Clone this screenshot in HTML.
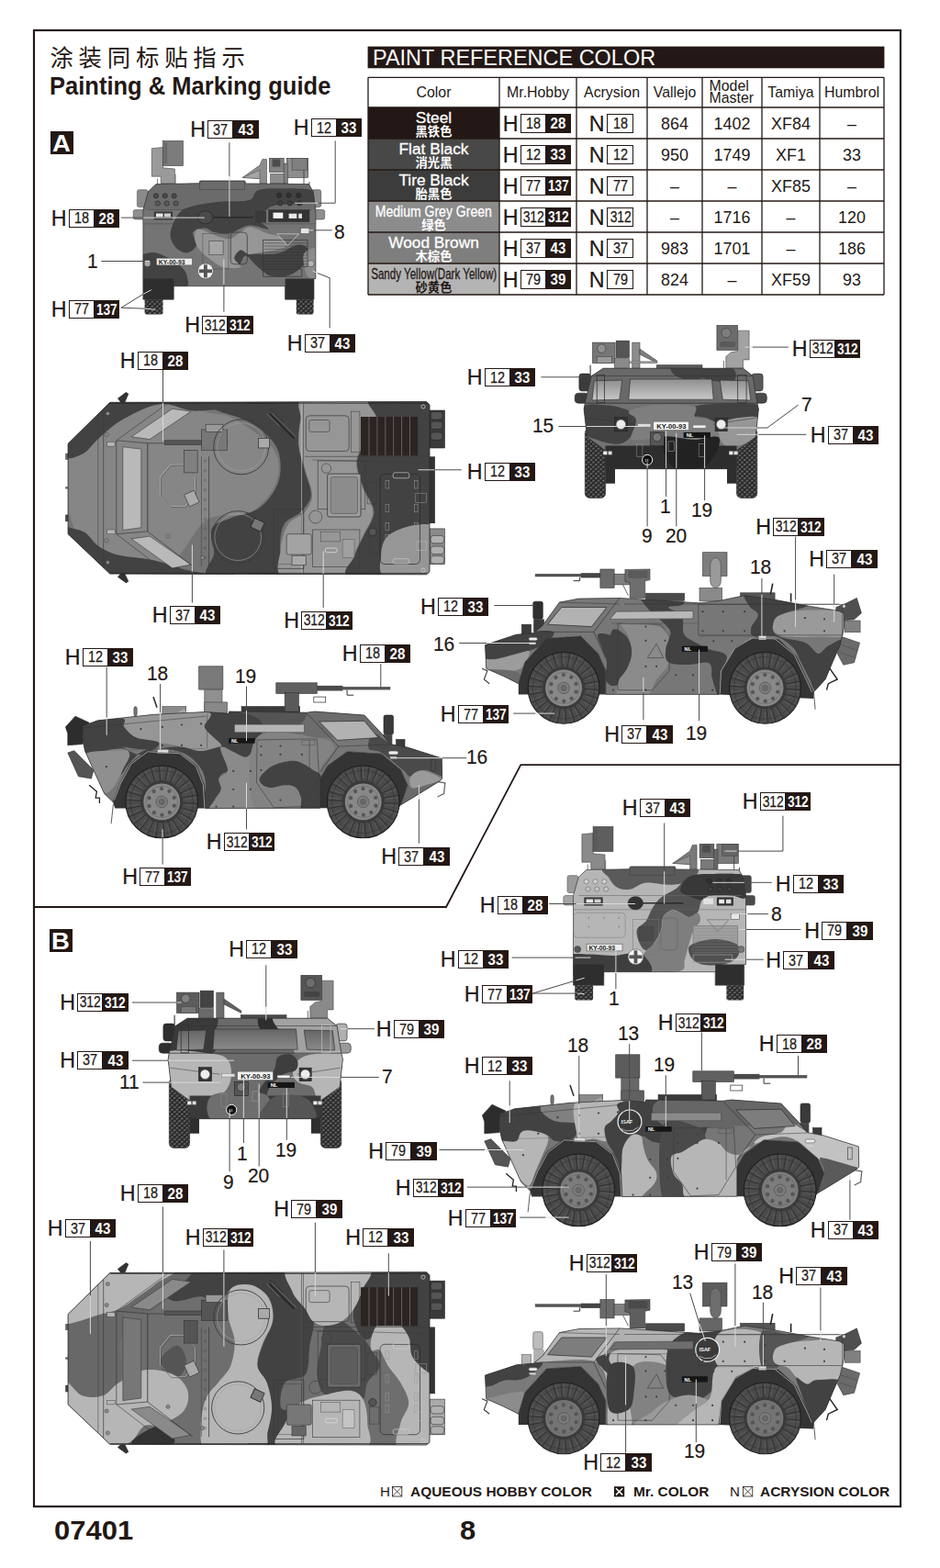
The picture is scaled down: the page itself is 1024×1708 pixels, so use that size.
<!DOCTYPE html>
<html><head><meta charset="utf-8"><title>Painting &amp; Marking guide</title>
<style>
html,body{margin:0;padding:0;background:#fff}
body{width:1024px;height:1708px;position:relative;overflow:hidden;font-family:"Liberation Sans",sans-serif;color:#231815}
.pg{position:absolute;left:0;top:0}
div{position:absolute;white-space:nowrap}
.t1{left:53.6px;top:79.1px;font-size:27.4px;font-weight:bold;line-height:30px;transform-origin:0 0;transform:scaleX(.932)}
.sq{width:25px;height:25px;background:#231815;color:#fff;font-weight:bold;font-size:25px;line-height:26.5px;text-align:center}
.sq span{display:inline-block;transform:scaleX(1.1)}
.lb{height:20px;line-height:20px}
.lb i{position:absolute;left:-.8px;top:-1.7px;font-style:normal;font-size:23.3px;line-height:24px;-webkit-text-stroke:.2px #231815}
.lb b{position:absolute;top:0;height:20.3px;box-sizing:border-box;font-size:16px;text-align:center;line-height:17.6px;overflow:hidden}
.lb s{text-decoration:none;display:inline-block;transform-origin:50% 50%}
.lb .w{left:18px;width:28px;border:1.5px solid #231815;-webkit-text-stroke:.25px #231815;font-weight:normal;background:#fff}
.lb .w s{transform:scaleX(.9);position:relative;top:.6px;left:.3px}
.lb .k{left:45.5px;width:28.2px;background:#231815;color:#fff;font-weight:bold;line-height:21.6px}
.lb .k s{transform:scaleX(.94)}
.lb .t3 s{transform:scaleX(.855);letter-spacing:-.1px;margin:0 -4px}
.lb .w.t3 s{transform:scaleX(.87);letter-spacing:-.1px;margin:0 -4px}
.nl .w{left:18.6px;width:28.8px}
.nm{font-size:22.3px;line-height:24px;letter-spacing:-.2px;transform-origin:0 0;transform:scaleX(.94);-webkit-text-stroke:.2px #231815}
.hd{left:405.5px;top:50px;font-size:23px;line-height:26px;color:#fff;transform-origin:0 0;transform:scaleX(1.02)}
.th{height:32px;line-height:33px;text-align:center;font-size:15.9px}
.th.mm{line-height:12.4px;padding-top:4.2px;height:28px;text-align:left;padding-left:7.5px;box-sizing:border-box}
.td{height:34px;line-height:36px;text-align:center;font-size:17.9px}
.cn{height:34px;text-align:center;color:#fff;font-size:17.3px;line-height:21px;padding-top:1.3px;box-sizing:border-box;-webkit-text-stroke:.3px currentColor}
.cn span{display:inline-block;transform-origin:50% 0}
.cn1 span{transform:scaleX(.812);margin-left:-40px;margin-right:-40px}
.cn2 span{transform:scaleX(.68);margin-left:-60px;margin-right:-60px;font-size:17px}
.ft{top:1616.1px;font-size:15px;line-height:17px;transform-origin:0 0;transform:scaleX(1.01)}
.ft b{font-size:15.3px}
.pn{font-weight:bold;font-size:29.5px;line-height:30px;transform-origin:0 0;transform:scaleX(1.05)}

.cn.dk{color:#231815}

</style></head>
<body>
<svg class="pg" width="1024" height="1708" viewBox="0 0 1024 1708"><g fill="none" stroke="#231815" stroke-width="2.2"><rect x="37" y="33" width="944" height="1608"/><polyline stroke-width="1.8" points="981,833.2 567.3,833.2 486,988 37,988"/></g><defs><pattern id="tr" width="5.4" height="5.0" patternUnits="userSpaceOnUse"><rect width="5.4" height="5.0" fill="#2b2b2b"/><path d="M0.4,0.3 L2.6,0.3 L2.0,2.1 L-0.2,2.1 Z M3.1,2.8 L5.3,2.8 L4.7,4.6 L2.5,4.6 Z" fill="#6c6c6c"/></pattern></defs><polygon points="165.3,161.7 177.5,160.5 177.5,182.8 190.4,184.0 190.4,199.7 175.2,199.7 175.2,192.2 165.3,192.2" fill="#9a9a9a" stroke="#444" stroke-width="0.6"/><rect x="177.5" y="153.5" width="21.8" height="27.0" fill="#7c7c7c" stroke="#333" stroke-width="0.6"/><rect x="178.7" y="155.2" width="3.5" height="23.4" fill="#696969"/><line x1="171.6" y1="194.5" x2="171.6" y2="200.4" stroke="#555" stroke-width="0.8"/><line x1="191.1" y1="189.8" x2="191.1" y2="200.4" stroke="#555" stroke-width="0.8"/><polygon points="264.2,193.4 283.0,180.0 285.8,173.4 290.5,173.4 290.5,199.7 283.0,199.7 283.0,194.5" fill="#8d8d8d" stroke="#444" stroke-width="0.6"/><polygon points="264.2,193.4 283.0,185.2 283.0,194.5" fill="#a5a5a5" stroke="#555" stroke-width="0.6"/><rect x="293.5" y="172.3" width="15.7" height="15.2" fill="#808080" stroke="#333" stroke-width="0.6"/><rect x="296.6" y="173.4" width="8.7" height="8.2" fill="#4d4d4d"/><rect x="312.3" y="172.3" width="23.4" height="21.1" fill="#8d8d8d" stroke="#333" stroke-width="0.6"/><rect x="318.1" y="172.3" width="16.4" height="12.9" fill="#808080" stroke="#444" stroke-width="0.6"/><rect x="294.7" y="189.4" width="16.9" height="10.3" fill="#8d8d8d" stroke="#444" stroke-width="0.6"/><rect x="309.2" y="178.1" width="4.2" height="21.6" fill="#808080" stroke="#444" stroke-width="0.6"/><line x1="331.0" y1="185.2" x2="331.0" y2="200.4" stroke="#444" stroke-width="0.9"/><line x1="336.9" y1="198.0" x2="336.9" y2="206.2" stroke="#444" stroke-width="0.9"/><rect x="149.4" y="206.7" width="11.7" height="18.8" rx="2" fill="#8a8a8a" stroke="#555" stroke-width="0.6"/><rect x="339.2" y="206.7" width="10.5" height="18.8" rx="2" fill="#8a8a8a" stroke="#444" stroke-width="0.6"/><rect x="145.2" y="228.5" width="13.6" height="10.5" rx="2" fill="#8f8f8f" stroke="#555" stroke-width="0.6"/><rect x="342.0" y="228.5" width="11.7" height="10.5" rx="2" fill="#8f8f8f" stroke="#444" stroke-width="0.6"/><rect x="157.6" y="324.6" width="19.9" height="17.8" rx="2" fill="url(#tr)"/><rect x="322.8" y="324.6" width="18.8" height="17.8" rx="2" fill="url(#tr)"/><clipPath id="c1"><polygon points="155.9,228.5 161.6,208.6 170.0,200.6 217.3,199.7 218.5,196.9 266.6,196.9 267.7,199.9 336.4,200.6 341.1,208.6 343.9,228.5 343.9,303.5 342.0,303.5 342.0,326.2 310.6,326.2 310.6,311.7 189.2,311.7 189.2,326.2 155.9,326.2"/></clipPath><g clip-path="url(#c1)"><rect x="140.0" y="192.2" width="240.0" height="145.3" fill="#747474"/><rect x="140.0" y="192.2" width="240.0" height="36.3" fill="#6b6b6b"/><path d="M280.6,207.4C286.1,205.3 293.9,205.3 304.1,205.3C314.2,205.3 334.5,204.9 341.6,207.4C348.6,209.9 352.5,217.7 346.2,220.3C340.0,222.9 313.4,221.8 304.1,223.1C294.7,224.5 293.7,225.9 290.0,228.5C286.3,231.2 281.4,235.5 281.8,239.1C282.2,242.6 294.1,248.5 292.3,249.6C290.6,250.7 278.3,244.8 271.2,245.6C264.2,246.4 256.4,253.0 250.2,254.3C243.9,255.5 238.2,254.1 233.8,253.1C229.3,252.1 227.1,248.4 223.2,248.4C219.3,248.4 211.9,250.0 210.3,253.1C208.8,256.2 215.0,263.5 213.8,267.2C212.7,270.9 207.2,275.2 203.3,275.4C199.4,275.6 193.3,272.1 190.4,268.4C187.5,264.6 184.9,259.2 185.7,253.1C186.5,247.1 191.0,236.8 195.1,232.0C199.2,227.3 203.1,226.6 210.3,224.5C217.5,222.5 228.3,220.9 238.4,219.8C248.6,218.8 264.2,220.0 271.2,218.0C278.3,215.9 275.2,209.5 280.6,207.4Z" fill="#424242"/><path d="M267.7,278.4C264.4,278.0 262.9,287.8 260.7,288.3C258.5,288.8 254.8,284.0 254.4,281.2C254.0,278.5 254.0,272.7 258.4,271.9C262.7,271.1 273.0,276.0 280.6,276.6C288.2,277.1 296.8,277.0 304.1,275.4C311.3,273.8 318.7,267.3 324.0,266.7C329.3,266.1 334.5,268.3 335.7,271.9C336.9,275.5 334.5,283.6 331.0,288.3C327.5,293.0 320.7,298.0 314.6,300.0C308.6,302.0 300.4,302.0 294.7,300.5C289.0,298.9 285.1,294.3 280.6,290.6C276.1,287.0 271.1,278.8 267.7,278.4Z" fill="#424242"/><path d="M151.7,282.4C154.1,275.9 160.5,275.2 165.8,274.9C171.1,274.6 178.1,278.2 183.4,280.8C188.6,283.4 194.0,287.2 197.4,290.6C200.8,294.0 203.4,297.3 203.8,301.2C204.1,305.1 208.4,311.9 199.8,314.1C191.1,316.2 159.7,319.3 151.7,314.1C143.7,308.8 149.4,288.9 151.7,282.4Z" fill="#424242"/><path d="M215.5,249.6C219.1,248.9 228.0,254.2 233.8,255.9C239.5,257.7 245.0,260.6 249.7,260.2C254.4,259.7 258.1,255.3 261.9,253.1C265.7,251.0 267.5,247.1 272.4,247.3C277.3,247.5 285.7,252.5 291.2,254.3C296.6,256.1 301.7,256.1 305.2,258.3C308.8,260.4 312.9,264.9 312.3,267.2C311.7,269.5 306.2,270.6 301.7,271.9C297.2,273.1 290.4,273.8 285.3,274.7C280.2,275.5 275.1,277.4 271.2,277.0C267.4,276.6 265.0,271.6 262.3,272.3C259.7,273.0 255.3,278.1 255.3,281.2C255.3,284.4 264.4,289.5 262.3,291.1C260.3,292.7 248.7,292.5 243.1,291.1C237.6,289.6 233.4,285.5 229.1,282.4C224.8,279.3 220.2,276.1 217.3,272.3C214.5,268.6 212.5,263.9 212.2,260.2C211.9,256.4 211.9,250.3 215.5,249.6Z" fill="#969696"/><path d="M331.0,276.6C333.0,271.9 343.7,267.6 346.2,271.9C348.8,276.2 348.2,297.7 346.2,302.3C344.3,307.0 337.1,304.3 334.5,300.0C332.0,295.7 329.1,281.2 331.0,276.6Z" fill="#8b8b8b"/><rect x="155.9" y="303.5" width="33.3" height="22.7" fill="#2e2e2e"/><rect x="310.6" y="303.5" width="31.4" height="22.7" fill="#2e2e2e"/></g><polygon points="155.9,228.5 161.6,208.6 170.0,200.6 217.3,199.7 218.5,196.9 266.6,196.9 267.7,199.9 336.4,200.6 341.1,208.6 343.9,228.5 343.9,303.5 342.0,303.5 342.0,326.2 310.6,326.2 310.6,311.7 189.2,311.7 189.2,326.2 155.9,326.2" fill="none" stroke="#333" stroke-width="0.7"/><line x1="161.6" y1="228.5" x2="339.2" y2="228.5" stroke="#444" stroke-width="0.6"/><line x1="155.9" y1="243.8" x2="343.9" y2="243.8" stroke="#444" stroke-width="0.5"/><rect x="217.3" y="197.6" width="49.2" height="8.7" fill="none" stroke="#444" stroke-width="0.6"/><circle cx="170.0" cy="213.3" r="2.6" fill="#4a4a4a" stroke="#222" stroke-width="0.6"/><circle cx="171.9" cy="221.5" r="2.6" fill="#5a5a5a" stroke="#222" stroke-width="0.6"/><circle cx="179.8" cy="213.3" r="2.6" fill="#4a4a4a" stroke="#222" stroke-width="0.6"/><circle cx="181.7" cy="221.5" r="2.6" fill="#5a5a5a" stroke="#222" stroke-width="0.6"/><circle cx="189.7" cy="213.3" r="2.6" fill="#4a4a4a" stroke="#222" stroke-width="0.6"/><circle cx="191.6" cy="221.5" r="2.6" fill="#5a5a5a" stroke="#222" stroke-width="0.6"/><circle cx="304.1" cy="212.8" r="2.6" fill="#303030" stroke="#222" stroke-width="0.6"/><circle cx="305.2" cy="221.5" r="2.6" fill="#404040" stroke="#222" stroke-width="0.6"/><circle cx="314.6" cy="212.8" r="2.6" fill="#303030" stroke="#222" stroke-width="0.6"/><circle cx="315.8" cy="221.5" r="2.6" fill="#404040" stroke="#222" stroke-width="0.6"/><circle cx="325.2" cy="212.8" r="2.6" fill="#303030" stroke="#222" stroke-width="0.6"/><circle cx="326.3" cy="221.5" r="2.6" fill="#404040" stroke="#222" stroke-width="0.6"/><rect x="167.7" y="230.4" width="20.4" height="9.1" fill="#3c3c3c"/><rect x="170.0" y="232.5" width="7.5" height="3.8" fill="#e8e8e8"/><rect x="178.9" y="232.5" width="7.0" height="3.8" fill="#d0d0d0"/><rect x="292.3" y="228.5" width="45.0" height="13.4" fill="#333"/><rect x="297.5" y="231.6" width="10.8" height="6.3" fill="#f2f2f2"/><rect x="314.6" y="232.7" width="8.7" height="5.2" fill="#e8e8e8"/><rect x="325.2" y="232.7" width="3.8" height="5.2" fill="#e0e0e0"/><rect x="215.5" y="229.7" width="16.4" height="14.1" rx="8" fill="#4a4a4a" stroke="#222" stroke-width="0.6"/><line x1="231.9" y1="236.7" x2="275.9" y2="236.7" stroke="#2a2a2a" stroke-width="1.6"/><rect x="278.3" y="229.7" width="11.7" height="12.9" fill="#3a3a3a"/><rect x="251.3" y="253.1" width="18.0" height="34.7" rx="4" fill="none" stroke="#333" stroke-width="0.7"/><rect x="227.9" y="262.5" width="15.2" height="15.2" fill="#a6a6a6" stroke="#444" stroke-width="0.6"/><rect x="220.9" y="254.3" width="28.1" height="38.7" fill="none" stroke="#4a4a4a" stroke-width="0.5"/><rect x="286.5" y="261.3" width="48.5" height="29.3" fill="none" stroke="#333" stroke-width="0.7"/><rect x="286.5" y="293.0" width="42.4" height="8.2" fill="none" stroke="#333" stroke-width="0.7"/><line x1="287.7" y1="264.8" x2="334.1" y2="264.8" stroke="#2b2b2b" stroke-width="0.4"/><line x1="287.7" y1="268.1" x2="334.1" y2="268.1" stroke="#2b2b2b" stroke-width="0.4"/><line x1="287.7" y1="271.4" x2="334.1" y2="271.4" stroke="#2b2b2b" stroke-width="0.4"/><line x1="287.7" y1="274.7" x2="334.1" y2="274.7" stroke="#2b2b2b" stroke-width="0.4"/><line x1="287.7" y1="278.0" x2="334.1" y2="278.0" stroke="#2b2b2b" stroke-width="0.4"/><line x1="287.7" y1="281.2" x2="334.1" y2="281.2" stroke="#2b2b2b" stroke-width="0.4"/><line x1="287.7" y1="284.5" x2="334.1" y2="284.5" stroke="#2b2b2b" stroke-width="0.4"/><line x1="287.7" y1="287.8" x2="334.1" y2="287.8" stroke="#2b2b2b" stroke-width="0.4"/><polygon points="301.7,254.8 325.6,254.8 313.4,267.7" fill="none" stroke="#c8c8c8" stroke-width="0.8"/><rect x="327.5" y="248.4" width="9.4" height="6.1" fill="#e6e6e6" stroke="#555" stroke-width="0.6"/><rect x="170.5" y="281.2" width="38.9" height="7.7" fill="#ededed" stroke="#555" stroke-width="0.6"/><text x="172.8" y="288.0" font-size="6.8" fill="#222" font-family="Liberation Sans, sans-serif" font-weight="bold">KY-00-93</text><circle cx="160.6" cy="287.1" r="3.5" fill="#a8a8a8" stroke="#444" stroke-width="0.6"/><circle cx="338.8" cy="287.1" r="3.5" fill="#b5b5b5" stroke="#444" stroke-width="0.6"/><circle cx="223.9" cy="295.3" r="8.4" fill="#f4f4f4" stroke="#555" stroke-width="0.6"/><rect x="222.0" y="288.3" width="3.8" height="14.1" fill="#555"/><rect x="216.9" y="293.4" width="14.1" height="3.8" fill="#555"/><line x1="243.1" y1="281.2" x2="243.1" y2="311.7" stroke="#aaa" stroke-width="0.5"/><polygon points="633.9,908.7 646.1,907.5 646.1,929.8 659.0,931.0 659.0,946.7 643.8,946.7 643.8,939.2 633.9,939.2" fill="#8a8a8a" stroke="#444" stroke-width="0.6"/><rect x="646.1" y="900.5" width="21.8" height="27.0" fill="#5e5e5e" stroke="#333" stroke-width="0.6"/><rect x="647.3" y="902.2" width="3.5" height="23.4" fill="#5a5a5a"/><line x1="640.2" y1="941.5" x2="640.2" y2="947.4" stroke="#555" stroke-width="0.8"/><line x1="659.7" y1="936.8" x2="659.7" y2="947.4" stroke="#555" stroke-width="0.8"/><polygon points="732.8,940.4 751.6,927.0 754.4,920.4 759.1,920.4 759.1,946.7 751.6,946.7 751.6,941.5" fill="#7a7a7a" stroke="#444" stroke-width="0.6"/><polygon points="732.8,940.4 751.6,932.2 751.6,941.5" fill="#909090" stroke="#555" stroke-width="0.6"/><rect x="762.1" y="919.3" width="15.7" height="15.2" fill="#666" stroke="#333" stroke-width="0.6"/><rect x="765.2" y="920.4" width="8.7" height="8.2" fill="#4d4d4d"/><rect x="780.9" y="919.3" width="23.4" height="21.1" fill="#7a7a7a" stroke="#333" stroke-width="0.6"/><rect x="786.7" y="919.3" width="16.4" height="12.9" fill="#666" stroke="#444" stroke-width="0.6"/><rect x="763.3" y="936.4" width="16.9" height="10.3" fill="#7a7a7a" stroke="#444" stroke-width="0.6"/><rect x="777.8" y="925.1" width="4.2" height="21.6" fill="#666" stroke="#444" stroke-width="0.6"/><line x1="799.6" y1="932.2" x2="799.6" y2="947.4" stroke="#444" stroke-width="0.9"/><line x1="805.5" y1="945.0" x2="805.5" y2="953.2" stroke="#444" stroke-width="0.9"/><rect x="618.0" y="953.7" width="11.7" height="18.8" rx="2" fill="#9a9a9a" stroke="#555" stroke-width="0.6"/><rect x="807.8" y="953.7" width="10.5" height="18.8" rx="2" fill="#444" stroke="#444" stroke-width="0.6"/><rect x="613.8" y="975.5" width="13.6" height="10.5" rx="2" fill="#a5a5a5" stroke="#555" stroke-width="0.6"/><rect x="810.6" y="975.5" width="11.7" height="10.5" rx="2" fill="#4a4a4a" stroke="#444" stroke-width="0.6"/><rect x="626.2" y="1071.6" width="19.9" height="17.8" rx="2" fill="url(#tr)"/><rect x="791.4" y="1071.6" width="18.8" height="17.8" rx="2" fill="url(#tr)"/><clipPath id="c2"><polygon points="624.5,975.5 630.2,955.6 638.6,947.6 685.9,946.7 687.1,943.9 735.2,943.9 736.3,946.9 805.0,947.6 809.7,955.6 812.5,975.5 812.5,1050.5 810.6,1050.5 810.6,1073.2 779.2,1073.2 779.2,1058.7 657.8,1058.7 657.8,1073.2 624.5,1073.2"/></clipPath><g clip-path="url(#c2)"><rect x="608.6" y="939.2" width="240.0" height="145.3" fill="#b6b6b6"/><path d="M662.7,944.6C677.9,942.6 739.3,942.2 754.1,944.6C769.0,946.9 755.5,955.4 751.8,958.6C748.1,961.8 739.9,963.3 731.9,963.8C723.9,964.3 711.2,960.7 703.8,961.5C696.3,962.2 692.4,967.5 687.4,968.5C682.3,969.5 677.3,969.3 673.3,967.3C669.3,965.3 665.2,960.1 663.4,956.3C661.7,952.5 647.6,946.5 662.7,944.6Z" fill="#5a5a5a"/><path d="M750.6,955.1C756.9,952.5 763.5,952.3 774.1,952.1C784.6,951.9 806.9,950.9 813.9,954.0C820.9,957.0 816.8,966.3 816.3,970.4C815.7,974.5 813.5,977.7 810.4,978.6C807.3,979.4 803.6,976.0 797.5,975.5C791.5,975.0 779.5,974.7 774.1,975.5C768.6,976.3 767.0,977.2 764.7,980.2C762.4,983.2 762.4,990.7 760.0,993.8C757.7,996.9 753.8,998.9 750.6,999.0C747.5,999.0 744.4,995.5 741.3,994.3C738.1,993.0 735.0,990.8 731.9,991.5C728.8,992.2 724.5,995.0 722.5,998.5C720.6,1002.0 721.7,1007.9 720.2,1012.5C718.6,1017.2 715.9,1022.8 713.1,1026.6C710.4,1030.4 706.6,1035.3 703.8,1035.3C700.9,1035.3 697.9,1030.4 696.3,1026.6C694.6,1022.8 692.7,1016.5 693.9,1012.5C695.2,1008.6 700.9,1007.1 703.8,1003.2C706.6,999.3 708.1,993.4 710.8,989.1C713.5,984.8 715.9,980.9 720.2,977.4C724.5,973.9 731.5,971.7 736.6,968.0C741.6,964.3 744.4,957.8 750.6,955.1Z" fill="#525252"/><path d="M750.6,955.1C756.1,952.1 763.5,952.3 774.1,952.1C784.6,951.9 806.9,950.9 813.9,954.0C820.9,957.0 816.8,966.3 816.3,970.4C815.7,974.5 813.5,977.7 810.4,978.6C807.3,979.4 803.6,976.0 797.5,975.5C791.5,975.0 779.5,974.7 774.1,975.5C768.6,976.3 767.8,979.8 764.7,980.2C761.6,980.6 759.2,979.5 755.3,977.9C751.4,976.2 742.0,974.1 741.3,970.4C740.5,966.6 745.2,958.2 750.6,955.1Z" fill="#383838"/><path d="M722.5,998.5C724.4,995.0 728.8,992.6 731.9,991.9C735.0,991.2 738.1,993.1 741.3,994.3C744.4,995.4 747.5,999.0 750.6,999.0C753.8,999.0 758.0,993.6 760.0,994.3C762.0,995.0 763.5,1000.1 762.8,1003.2C762.1,1006.2 757.7,1008.6 755.8,1012.5C753.8,1016.5 752.7,1021.1 751.1,1026.6C749.5,1032.1 747.6,1040.2 745.9,1045.4C744.3,1050.5 748.3,1055.5 741.3,1057.5C734.2,1059.6 710.4,1060.3 703.8,1057.5C697.1,1054.8 701.3,1044.9 701.4,1041.1C701.5,1037.4 702.2,1037.7 704.2,1035.3C706.3,1032.9 710.9,1030.4 713.6,1026.6C716.3,1022.8 719.1,1017.2 720.6,1012.5C722.1,1007.9 720.6,1001.9 722.5,998.5Z" fill="#7e7e7e"/><path d="M619.4,1041.1C623.3,1037.4 634.6,1039.5 642.8,1039.5C651.0,1039.5 661.2,1041.3 668.6,1041.1C676.0,1040.9 681.8,1038.3 687.4,1038.3C692.9,1038.3 699.1,1037.2 701.9,1041.1C704.7,1045.0 718.0,1058.3 704.2,1061.8C690.5,1065.2 633.5,1065.2 619.4,1061.8C605.2,1058.3 615.5,1044.9 619.4,1041.1Z" fill="#3e3e3e"/><path d="M750.6,1031.3C752.2,1028.4 757.7,1026.8 762.4,1025.4C767.0,1024.1 773.3,1023.1 778.8,1023.1C784.2,1023.1 790.8,1024.1 795.2,1025.4C799.5,1026.8 803.8,1028.4 805.0,1031.3C806.3,1034.2 805.5,1039.8 802.7,1043.0C799.9,1046.2 794.5,1049.3 788.1,1050.5C781.8,1051.8 770.6,1051.8 764.7,1050.5C758.8,1049.3 755.3,1046.2 753.0,1043.0C750.6,1039.8 749.1,1034.2 750.6,1031.3Z" fill="#505050"/><rect x="624.5" y="1050.5" width="33.3" height="22.7" fill="#2e2e2e"/><rect x="779.2" y="1050.5" width="31.4" height="22.7" fill="#2e2e2e"/></g><polygon points="624.5,975.5 630.2,955.6 638.6,947.6 685.9,946.7 687.1,943.9 735.2,943.9 736.3,946.9 805.0,947.6 809.7,955.6 812.5,975.5 812.5,1050.5 810.6,1050.5 810.6,1073.2 779.2,1073.2 779.2,1058.7 657.8,1058.7 657.8,1073.2 624.5,1073.2" fill="none" stroke="#333" stroke-width="0.7"/><line x1="630.2" y1="975.5" x2="807.8" y2="975.5" stroke="#6a6a6a" stroke-width="0.6"/><line x1="624.5" y1="990.8" x2="812.5" y2="990.8" stroke="#6a6a6a" stroke-width="0.5"/><rect x="685.9" y="944.6" width="49.2" height="8.7" fill="none" stroke="#444" stroke-width="0.6"/><circle cx="638.6" cy="960.3" r="2.6" fill="#d0d0d0" stroke="#666" stroke-width="0.6"/><circle cx="640.5" cy="968.5" r="2.6" fill="#c4c4c4" stroke="#666" stroke-width="0.6"/><circle cx="648.4" cy="960.3" r="2.6" fill="#d0d0d0" stroke="#666" stroke-width="0.6"/><circle cx="650.3" cy="968.5" r="2.6" fill="#c4c4c4" stroke="#666" stroke-width="0.6"/><circle cx="658.3" cy="960.3" r="2.6" fill="#d0d0d0" stroke="#666" stroke-width="0.6"/><circle cx="660.2" cy="968.5" r="2.6" fill="#c4c4c4" stroke="#666" stroke-width="0.6"/><circle cx="772.7" cy="959.8" r="2.6" fill="#303030" stroke="#222" stroke-width="0.6"/><circle cx="773.8" cy="968.5" r="2.6" fill="#404040" stroke="#222" stroke-width="0.6"/><circle cx="783.2" cy="959.8" r="2.6" fill="#303030" stroke="#222" stroke-width="0.6"/><circle cx="784.4" cy="968.5" r="2.6" fill="#404040" stroke="#222" stroke-width="0.6"/><circle cx="793.8" cy="959.8" r="2.6" fill="#303030" stroke="#222" stroke-width="0.6"/><circle cx="794.9" cy="968.5" r="2.6" fill="#404040" stroke="#222" stroke-width="0.6"/><rect x="636.3" y="977.4" width="20.4" height="9.1" fill="#3c3c3c"/><rect x="638.6" y="979.5" width="7.5" height="3.8" fill="#e8e8e8"/><rect x="647.5" y="979.5" width="7.0" height="3.8" fill="#d0d0d0"/><rect x="766.1" y="978.6" width="10.8" height="6.3" fill="#e2e2e2"/><rect x="780.9" y="977.4" width="18.0" height="9.1" fill="#333"/><rect x="783.2" y="979.7" width="5.9" height="4.5" fill="#eee"/><rect x="790.9" y="979.7" width="5.6" height="4.5" fill="#e0e0e0"/><rect x="684.1" y="976.7" width="16.4" height="14.1" rx="8" fill="#333" stroke="#222" stroke-width="0.6"/><line x1="700.5" y1="983.7" x2="744.5" y2="983.7" stroke="#2a2a2a" stroke-width="1.6"/><rect x="719.9" y="1000.1" width="18.0" height="34.7" rx="4" fill="none" stroke="#666" stroke-width="0.7"/><rect x="696.5" y="1009.5" width="15.2" height="15.2" fill="#4a4a4a" stroke="#444" stroke-width="0.6"/><rect x="689.5" y="1001.3" width="28.1" height="38.7" fill="none" stroke="#777" stroke-width="0.5"/><rect x="625.0" y="994.3" width="56.2" height="27.0" rx="4" fill="none" stroke="#8a8a8a" stroke-width="0.7"/><circle cx="641.4" cy="1000.1" r="0.8" fill="#777"/><circle cx="657.8" cy="1000.1" r="0.8" fill="#777"/><circle cx="674.2" cy="1000.1" r="0.8" fill="#777"/><circle cx="641.4" cy="1009.5" r="0.8" fill="#777"/><circle cx="674.2" cy="1009.5" r="0.8" fill="#777"/><rect x="755.1" y="1008.3" width="48.5" height="29.3" fill="#9f9f9f" stroke="#777" stroke-width="0.7"/><rect x="755.1" y="1040.0" width="42.4" height="8.2" fill="none" stroke="#999" stroke-width="0.7"/><clipPath id="c3"><polygon points="755.1,1008.3 803.6,1008.3 803.6,1037.6 755.1,1037.6"/></clipPath><g clip-path="url(#c3)"><path d="M750.6,1031.3C752.2,1028.4 757.7,1026.8 762.4,1025.4C767.0,1024.1 773.3,1023.1 778.8,1023.1C784.2,1023.1 790.8,1024.1 795.2,1025.4C799.5,1026.8 803.8,1028.4 805.0,1031.3C806.3,1034.2 805.5,1039.8 802.7,1043.0C799.9,1046.2 794.5,1049.3 788.1,1050.5C781.8,1051.8 770.6,1051.8 764.7,1050.5C758.8,1049.3 755.3,1046.2 753.0,1043.0C750.6,1039.8 749.1,1034.2 750.6,1031.3Z" fill="#505050"/></g><line x1="756.3" y1="1011.8" x2="802.7" y2="1011.8" stroke="#888" stroke-width="0.4"/><line x1="756.3" y1="1015.1" x2="802.7" y2="1015.1" stroke="#888" stroke-width="0.4"/><line x1="756.3" y1="1018.4" x2="802.7" y2="1018.4" stroke="#888" stroke-width="0.4"/><line x1="756.3" y1="1021.7" x2="802.7" y2="1021.7" stroke="#888" stroke-width="0.4"/><line x1="756.3" y1="1025.0" x2="802.7" y2="1025.0" stroke="#888" stroke-width="0.4"/><line x1="756.3" y1="1028.2" x2="802.7" y2="1028.2" stroke="#888" stroke-width="0.4"/><line x1="756.3" y1="1031.5" x2="802.7" y2="1031.5" stroke="#888" stroke-width="0.4"/><line x1="756.3" y1="1034.8" x2="802.7" y2="1034.8" stroke="#888" stroke-width="0.4"/><polygon points="770.3,1001.8 794.2,1001.8 782.0,1014.7" fill="none" stroke="#777" stroke-width="0.8"/><rect x="796.1" y="995.4" width="9.4" height="6.1" fill="#e6e6e6" stroke="#555" stroke-width="0.6"/><rect x="639.1" y="1028.2" width="38.9" height="7.7" fill="#ededed" stroke="#555" stroke-width="0.6"/><text x="641.4" y="1035.0" font-size="6.8" fill="#222" font-family="Liberation Sans, sans-serif" font-weight="bold">KY-00-93</text><circle cx="629.2" cy="1034.1" r="3.5" fill="#555" stroke="#444" stroke-width="0.6"/><circle cx="807.4" cy="1034.1" r="3.5" fill="#777" stroke="#444" stroke-width="0.6"/><circle cx="692.5" cy="1042.3" r="8.4" fill="#f4f4f4" stroke="#555" stroke-width="0.6"/><rect x="690.6" y="1035.3" width="3.8" height="14.1" fill="#555"/><rect x="685.5" y="1040.4" width="14.1" height="3.8" fill="#555"/><rect x="468.0" y="447.0" width="16.4" height="41.0" fill="#3a3a3a" stroke="#222" stroke-width="0.6"/><rect x="469.2" y="448.6" width="12.9" height="8.4" rx="3" fill="#555" stroke="#222" stroke-width="0.6"/><rect x="469.2" y="459.1" width="12.9" height="8.4" rx="3" fill="#555" stroke="#222" stroke-width="0.6"/><rect x="469.2" y="470.9" width="12.9" height="8.4" rx="3" fill="#555" stroke="#222" stroke-width="0.6"/><rect x="468.0" y="575.9" width="16.4" height="38.7" fill="#8a8a8a" stroke="#333" stroke-width="0.6"/><rect x="469.2" y="583.4" width="14.5" height="8.4" rx="3" fill="#b0b0b0" stroke="#333" stroke-width="0.6"/><rect x="469.2" y="595.1" width="14.5" height="8.4" rx="3" fill="#b0b0b0" stroke="#333" stroke-width="0.6"/><rect x="469.2" y="605.6" width="14.5" height="8.4" rx="3" fill="#b0b0b0" stroke="#333" stroke-width="0.6"/><rect x="468.0" y="497.3" width="5.9" height="72.7" fill="#333"/><polygon points="128.0,434.1 137.3,427.0 140.2,428.9 134.5,442.3" fill="#333"/><polygon points="128.0,628.6 137.3,635.2 140.2,633.3 134.5,621.6" fill="#333"/><rect x="71.2" y="493.8" width="3.3" height="7.0" fill="#666"/><rect x="71.2" y="560.6" width="3.3" height="7.5" fill="#444"/><rect x="71.2" y="530.2" width="2.8" height="2.3" fill="#666"/><clipPath id="ct"><polygon points="74.1,483.3 119.8,438.3 464.5,437.6 468.0,441.1 468.0,622.7 464.5,625.8 119.8,625.1 74.1,581.7"/></clipPath><g clip-path="url(#ct)"><rect x="40.0" y="404.9" width="460.0" height="269.5" fill="#747474"/><path d="M67.0,494.8C72.9,484.3 96.9,483.2 107.4,476.8C117.9,470.4 118.6,462.6 129.8,456.6C141.1,450.6 158.3,442.0 174.8,440.9C191.2,439.7 215.2,447.2 228.7,449.8C242.1,452.5 244.0,449.8 255.6,456.6C267.2,463.3 290.8,478.7 298.3,490.3C305.8,501.9 304.7,515.0 300.5,526.2C296.4,537.4 284.1,551.7 273.6,557.7C263.1,563.6 246.6,559.9 237.7,562.1C228.7,564.4 227.9,562.9 219.7,571.1C211.5,579.4 199.5,603.7 188.2,611.6C177.0,619.4 165.0,618.3 152.3,618.3C139.6,618.3 123.1,617.2 111.9,611.6C100.6,605.9 91.7,596.6 84.9,584.6C78.2,572.6 74.4,554.7 71.4,539.7C68.5,524.7 61.0,505.2 67.0,494.8Z" fill="#868686"/><path d="M67.0,440.9C87.2,430.4 161.3,432.5 188.2,431.9C215.2,431.3 218.2,435.4 228.7,437.3C239.2,439.1 254.1,441.4 251.1,443.1C248.1,444.8 223.4,448.1 210.7,447.6C198.0,447.1 187.5,438.5 174.8,440.0C162.0,441.5 145.6,450.3 134.3,456.6C123.1,462.9 114.9,471.3 107.4,477.7C99.9,484.1 96.2,491.9 89.4,494.8C82.7,497.6 70.7,503.8 67.0,494.8C63.2,485.8 46.7,451.3 67.0,440.9Z" fill="#424242"/><path d="M67.0,571.1C68.5,561.1 71.7,573.2 75.9,574.7C80.2,576.2 87.3,576.7 92.6,580.1C97.8,583.5 101.2,590.8 107.4,594.9C113.6,599.1 120.3,602.4 129.8,604.8C139.4,607.3 153.2,607.2 164.9,609.8C176.6,612.3 190.8,617.0 199.9,620.1C209.1,623.2 241.8,626.2 219.7,628.6C197.5,631.1 92.4,644.5 67.0,634.9C41.5,625.3 65.5,581.2 67.0,571.1Z" fill="#424242"/><path d="M210.7,434.1C226.4,431.5 311.0,430.8 332.0,431.9C353.0,433.0 337.2,436.7 336.5,440.9C335.7,445.0 329.4,449.1 327.5,456.6C325.6,464.1 324.5,476.4 325.3,485.8C326.0,495.1 329.7,503.8 332.0,512.7C334.2,521.7 339.5,532.2 338.7,539.7C338.0,547.2 332.4,552.4 327.5,557.7C322.6,562.9 313.3,564.4 309.5,571.1C305.8,577.9 305.0,588.4 305.0,598.1C305.0,607.8 322.3,624.3 309.5,629.5C296.8,634.8 241.4,634.0 228.7,629.5C215.9,625.0 232.8,611.6 233.2,602.6C233.5,593.6 227.9,582.0 230.9,575.6C233.9,569.3 242.5,568.1 251.1,564.4C259.7,560.7 274.0,559.5 282.6,553.2C291.2,546.8 299.2,535.9 302.8,526.2C306.4,516.5 306.4,503.8 304.1,494.8C301.9,485.8 295.9,478.7 289.3,472.3C282.7,465.9 273.2,460.7 264.6,456.6C256.0,452.5 246.6,451.3 237.7,447.6C228.7,443.9 195.0,436.7 210.7,434.1Z" fill="#424242"/><path d="M332.0,434.1C344.7,430.4 391.0,430.4 403.9,434.1C416.7,437.9 410.4,448.7 409.3,456.6C408.1,464.4 400.6,473.4 397.1,481.3C393.6,489.2 388.5,495.5 388.1,503.8C387.8,512.0 391.9,521.7 394.9,530.7C397.9,539.7 406.1,548.7 406.1,557.7C406.1,566.6 398.3,576.7 394.9,584.6C391.5,592.5 388.0,597.3 385.9,604.8C383.8,612.3 395.0,625.4 382.3,629.5C369.6,633.6 322.3,634.8 309.5,629.5C296.8,624.3 305.2,607.8 305.9,598.1C306.7,588.4 309.7,577.9 314.0,571.1C318.4,564.4 327.6,562.9 332.0,557.7C336.3,552.4 339.9,547.2 340.1,539.7C340.2,532.2 335.3,521.7 332.9,512.7C330.5,503.8 326.6,495.1 325.7,485.8C324.8,476.4 326.5,465.2 327.5,456.6C328.5,448.0 319.3,437.9 332.0,434.1Z" fill="#969696"/><path d="M404.8,431.9C417.9,427.8 475.1,398.9 489.2,431.9C503.3,464.8 506.9,596.6 489.2,629.5C471.5,662.5 400.3,633.6 383.2,629.5C366.1,625.4 384.7,612.3 386.8,604.8C388.9,597.3 392.3,592.5 395.8,584.6C399.2,576.7 407.5,566.6 407.5,557.7C407.5,548.7 398.9,539.7 395.8,530.7C392.7,521.7 388.7,512.0 389.0,503.8C389.4,495.5 394.5,489.2 398.0,481.3C401.5,473.4 409.0,464.8 410.2,456.6C411.3,448.3 391.6,436.0 404.8,431.9Z" fill="#424242"/><path d="M415.1,604.8C415.1,597.3 417.0,589.9 421.8,584.6C426.7,579.4 436.1,575.6 444.3,573.4C452.5,571.1 463.8,570.8 471.2,571.1C478.7,571.5 486.2,565.9 489.2,575.6C492.2,585.4 500.4,620.5 489.2,629.5C478.0,638.5 434.2,633.6 421.8,629.5C409.5,625.4 415.1,612.3 415.1,604.8Z" fill="#969696"/><line x1="106.9" y1="450.5" x2="106.9" y2="612.2" stroke="#3b3b3b" stroke-width="0.5"/><line x1="112.7" y1="445.8" x2="112.7" y2="618.0" stroke="#3b3b3b" stroke-width="0.7"/><polygon points="133.8,486.8 153.8,489.1 153.8,574.7 133.8,577.5" fill="#b9b9b9" stroke="#3b3b3b" stroke-width="0.6"/><polygon points="143.2,475.8 187.7,445.3 208.1,448.1 163.1,478.6" fill="#b9b9b9" stroke="#3b3b3b" stroke-width="0.6"/><polygon points="143.2,586.9 163.1,584.1 208.1,615.0 187.7,618.8" fill="#b9b9b9" stroke="#3b3b3b" stroke-width="0.6"/><polyline points="126.8,479.8 160.8,482.8 224.1,482.8" fill="none" stroke="#3b3b3b" stroke-width="0.7"/><polyline points="126.8,581.7 160.8,578.9 210.0,616.9" fill="none" stroke="#3b3b3b" stroke-width="0.7"/><line x1="126.8" y1="479.8" x2="126.8" y2="581.7" stroke="#3b3b3b" stroke-width="0.7"/><line x1="160.8" y1="482.8" x2="160.8" y2="578.9" stroke="#3b3b3b" stroke-width="0.9"/><line x1="126.8" y1="479.8" x2="181.9" y2="439.9" stroke="#3b3b3b" stroke-width="0.6"/><line x1="126.8" y1="581.7" x2="181.9" y2="623.9" stroke="#3b3b3b" stroke-width="0.6"/><line x1="219.4" y1="497.3" x2="219.4" y2="616.9" stroke="#3b3b3b" stroke-width="0.5"/><line x1="227.6" y1="497.3" x2="227.6" y2="616.9" stroke="#3b3b3b" stroke-width="0.8"/><circle cx="223.4" cy="502.0" r="1.2" fill="none" stroke="#444" stroke-width="0.4"/><circle cx="223.4" cy="512.6" r="1.2" fill="none" stroke="#444" stroke-width="0.4"/><circle cx="223.4" cy="523.1" r="1.2" fill="none" stroke="#444" stroke-width="0.4"/><circle cx="223.4" cy="533.7" r="1.2" fill="none" stroke="#444" stroke-width="0.4"/><circle cx="223.4" cy="544.2" r="1.2" fill="none" stroke="#444" stroke-width="0.4"/><circle cx="223.4" cy="554.8" r="1.2" fill="none" stroke="#444" stroke-width="0.4"/><circle cx="223.4" cy="565.3" r="1.2" fill="none" stroke="#444" stroke-width="0.4"/><circle cx="223.4" cy="575.9" r="1.2" fill="none" stroke="#444" stroke-width="0.4"/><circle cx="223.4" cy="586.4" r="1.2" fill="none" stroke="#444" stroke-width="0.4"/><circle cx="223.4" cy="597.0" r="1.2" fill="none" stroke="#444" stroke-width="0.4"/><circle cx="223.4" cy="607.5" r="1.2" fill="none" stroke="#444" stroke-width="0.4"/><polygon points="212.7,538.2 201.7,551.6 185.9,551.8 174.6,538.6 174.5,519.8 185.5,506.3 201.3,506.2 212.6,519.4" fill="none" stroke="#c0c0c0" stroke-width="0.8"/><polygon points="213.4,538.9 202.4,552.3 186.6,552.5 175.3,539.3 175.2,520.5 186.2,507.0 202.0,506.9 213.3,520.1" fill="none" stroke="#3a3a3a" stroke-width="0.5"/><rect x="203.0" y="536.0" width="11.7" height="14.1" fill="#aaa" stroke="#333" stroke-width="0.6" transform="rotate(-25 208.8 543.0)"/><rect x="200.6" y="490.3" width="14.5" height="24.6" fill="#808080" stroke="#333" stroke-width="0.6"/><rect x="179.5" y="479.8" width="68.0" height="4.7" fill="#555" stroke="#333" stroke-width="0.6"/><rect x="219.4" y="468.0" width="28.1" height="22.3" fill="#777" stroke="#333" stroke-width="0.6"/><rect x="224.1" y="462.2" width="18.8" height="8.2" fill="#999" stroke="#333" stroke-width="0.6"/><circle cx="262.7" cy="486.8" r="30.0" fill="none" stroke="#3b3b3b" stroke-width="0.9"/><circle cx="262.7" cy="486.8" r="26.2" fill="none" stroke="#a5a5a5" stroke-width="0.6"/><circle cx="259.2" cy="585.2" r="28.6" fill="none" stroke="#3b3b3b" stroke-width="0.9"/><circle cx="259.2" cy="585.2" r="25.3" fill="none" stroke="#a5a5a5" stroke-width="0.6"/><rect x="281.5" y="477.4" width="11.7" height="10.5" fill="#aaa" stroke="#333" stroke-width="0.6"/><rect x="274.5" y="566.5" width="11.7" height="10.5" fill="#888" stroke="#222" stroke-width="0.6" transform="rotate(25 280.3 571.9)"/><line x1="294.4" y1="445.8" x2="308.4" y2="459.8" stroke="#3b3b3b" stroke-width="2.2"/><line x1="290.9" y1="450.5" x2="304.9" y2="464.5" stroke="#999" stroke-width="0.6"/><line x1="119.8" y1="439.2" x2="300.0" y2="439.2" stroke="#2a2a2a" stroke-width="0.8"/><line x1="119.8" y1="624.4" x2="300.0" y2="624.4" stroke="#2a2a2a" stroke-width="0.8"/><circle cx="117.4" cy="450.5" r="2.1" fill="#8a8a8a" stroke="#333" stroke-width="0.4"/><circle cx="116.2" cy="473.4" r="2.1" fill="#8a8a8a" stroke="#333" stroke-width="0.4"/><circle cx="116.2" cy="588.8" r="2.1" fill="#8a8a8a" stroke="#333" stroke-width="0.4"/><circle cx="117.4" cy="612.7" r="2.1" fill="#8a8a8a" stroke="#333" stroke-width="0.4"/><circle cx="183.0" cy="584.1" r="2.1" fill="#8a8a8a" stroke="#333" stroke-width="0.4"/><circle cx="220.5" cy="607.5" r="2.1" fill="#8a8a8a" stroke="#333" stroke-width="0.4"/><rect x="116.7" y="481.4" width="8.4" height="4.7" fill="#b5b5b5" stroke="#333" stroke-width="0.4"/><rect x="116.7" y="577.0" width="8.4" height="4.7" fill="#b5b5b5" stroke="#333" stroke-width="0.4"/><line x1="328.6" y1="438.8" x2="328.6" y2="623.9" stroke="#c0c0c0" stroke-width="0.7"/><line x1="330.5" y1="438.8" x2="330.5" y2="623.9" stroke="#3b3b3b" stroke-width="0.5"/><rect x="333.3" y="452.8" width="46.9" height="38.7" rx="4" fill="none" stroke="#3b3b3b" stroke-width="0.7"/><rect x="336.8" y="457.5" width="22.3" height="12.9" rx="2" fill="none" stroke="#3b3b3b" stroke-width="0.6"/><rect x="382.5" y="448.1" width="9.4" height="44.5" fill="none" stroke="#3b3b3b" stroke-width="0.5"/><rect x="393.0" y="454.0" width="62.1" height="42.2" fill="#2b2422"/><line x1="402.0" y1="454.0" x2="402.0" y2="496.2" stroke="#8a8a8a" stroke-width="0.6"/><line x1="410.9" y1="454.0" x2="410.9" y2="496.2" stroke="#8a8a8a" stroke-width="0.6"/><line x1="419.8" y1="454.0" x2="419.8" y2="496.2" stroke="#8a8a8a" stroke-width="0.6"/><line x1="428.7" y1="454.0" x2="428.7" y2="496.2" stroke="#8a8a8a" stroke-width="0.6"/><line x1="437.6" y1="454.0" x2="437.6" y2="496.2" stroke="#8a8a8a" stroke-width="0.6"/><line x1="446.5" y1="454.0" x2="446.5" y2="496.2" stroke="#8a8a8a" stroke-width="0.6"/><line x1="332.1" y1="497.3" x2="464.5" y2="497.3" stroke="#3b3b3b" stroke-width="0.6"/><line x1="340.3" y1="500.9" x2="462.2" y2="504.4" stroke="#3b3b3b" stroke-width="0.5"/><rect x="346.2" y="502.0" width="51.6" height="52.7" fill="none" stroke="#3b3b3b" stroke-width="0.6"/><circle cx="355.5" cy="510.2" r="5.2" fill="none" stroke="#3b3b3b" stroke-width="0.6"/><rect x="356.7" y="516.1" width="36.3" height="46.9" rx="2" fill="#9d9d9d" stroke="#333" stroke-width="0.8"/><rect x="360.2" y="519.6" width="29.3" height="39.8" rx="2" fill="#8c8c8c" stroke="#444" stroke-width="0.5"/><rect x="298.1" y="554.8" width="32.8" height="64.5" fill="none" stroke="#3b3b3b" stroke-width="0.7"/><rect x="302.8" y="559.5" width="25.8" height="55.1" fill="none" stroke="#3b3b3b" stroke-width="0.4"/><rect x="312.2" y="581.7" width="27.0" height="22.3" rx="2" fill="#a3a3a3" stroke="#333" stroke-width="0.6"/><rect x="318.0" y="605.2" width="15.2" height="10.5" fill="#aaa" stroke="#333" stroke-width="0.6"/><circle cx="343.8" cy="563.0" r="7.0" fill="none" stroke="#3b3b3b" stroke-width="0.6"/><rect x="340.3" y="577.0" width="51.6" height="40.3" fill="none" stroke="#3b3b3b" stroke-width="0.6"/><rect x="349.7" y="579.4" width="21.1" height="10.5" fill="none" stroke="#3b3b3b" stroke-width="0.4"/><rect x="373.1" y="587.6" width="12.9" height="19.9" fill="#a0a0a0" stroke="#444" stroke-width="0.4"/><rect x="354.4" y="597.0" width="12.9" height="4.7" rx="2" fill="none" stroke="#ddd" stroke-width="0.8"/><rect x="414.1" y="516.1" width="43.4" height="98.4" rx="5" fill="none" stroke="#2a2a2a" stroke-width="0.7"/><rect x="428.2" y="514.9" width="17.6" height="5.9" rx="2" fill="none" stroke="#ccc" stroke-width="0.7"/><rect x="428.2" y="608.7" width="17.6" height="5.4" rx="2" fill="none" stroke="#ccc" stroke-width="0.7"/><rect x="400.1" y="525.5" width="10.5" height="23.4" fill="none" stroke="#3b3b3b" stroke-width="0.5"/><rect x="402.4" y="584.1" width="10.5" height="18.8" fill="none" stroke="#3b3b3b" stroke-width="0.5"/><circle cx="405.9" cy="579.4" r="4.2" fill="#555" stroke="#222" stroke-width="0.6"/><rect x="420.0" y="523.6" width="3.8" height="8.4" fill="none" stroke="#999" stroke-width="0.5"/><rect x="451.6" y="523.6" width="3.5" height="8.4" fill="none" stroke="#999" stroke-width="0.5"/><rect x="420.0" y="549.4" width="3.8" height="8.4" fill="none" stroke="#999" stroke-width="0.5"/><rect x="451.6" y="549.4" width="3.5" height="8.4" fill="none" stroke="#999" stroke-width="0.5"/><rect x="420.0" y="569.3" width="3.8" height="8.4" fill="none" stroke="#999" stroke-width="0.5"/><rect x="451.6" y="569.3" width="3.5" height="8.4" fill="none" stroke="#999" stroke-width="0.5"/><rect x="420.0" y="582.2" width="3.8" height="8.4" fill="none" stroke="#999" stroke-width="0.5"/><rect x="451.6" y="582.2" width="3.5" height="8.4" fill="none" stroke="#999" stroke-width="0.5"/><rect x="452.8" y="537.2" width="11.7" height="10.5" fill="none" stroke="#999" stroke-width="0.5"/><rect x="454.0" y="589.9" width="10.5" height="9.4" fill="none" stroke="#bbb" stroke-width="0.5"/><line x1="293.4" y1="450.5" x2="320.4" y2="477.4" stroke="#2a2a2a" stroke-width="2.4"/><line x1="295.8" y1="449.3" x2="322.7" y2="476.2" stroke="#999" stroke-width="0.5"/><rect x="281.7" y="477.4" width="11.7" height="10.5" fill="#aaa" stroke="#333" stroke-width="0.6"/><rect x="274.7" y="566.5" width="11.7" height="10.5" fill="#777" stroke="#222" stroke-width="0.6" transform="rotate(25 280.5 571.9)"/><line x1="270.0" y1="439.2" x2="466.9" y2="439.2" stroke="#2a2a2a" stroke-width="0.8"/><line x1="270.0" y1="624.4" x2="466.9" y2="624.4" stroke="#2a2a2a" stroke-width="0.8"/><circle cx="461.0" cy="443.0" r="2.1" fill="none" stroke="#ccc" stroke-width="0.8"/><circle cx="461.0" cy="621.1" r="2.1" fill="none" stroke="#ccc" stroke-width="0.8"/></g><polygon points="74.1,483.3 119.8,438.3 464.5,437.6 468.0,441.1 468.0,622.7 464.5,625.8 119.8,625.1 74.1,581.7" fill="none" stroke="#2a2a2a" stroke-width=".8"/><rect x="637.3" y="466.9" width="22.3" height="75.5" rx="5" fill="url(#tr)" stroke="#222" stroke-width="0.6"/><rect x="802.5" y="466.9" width="22.3" height="75.5" rx="5" fill="url(#tr)" stroke="#222" stroke-width="0.6"/><rect x="659.5" y="485.6" width="143.0" height="24.6" fill="#2b2b2b"/><rect x="659.5" y="509.1" width="10.5" height="17.6" fill="#2e2e2e"/><rect x="792.0" y="509.1" width="10.5" height="17.6" fill="#2e2e2e"/><rect x="645.5" y="373.1" width="24.6" height="22.3" fill="#777" stroke="#333" stroke-width="0.6"/><circle cx="655.3" cy="379.7" r="4.7" fill="#909090" stroke="#333" stroke-width="0.6"/><rect x="650.2" y="388.4" width="16.4" height="7.0" fill="#999" stroke="#444" stroke-width="0.6"/><rect x="671.2" y="371.2" width="14.1" height="18.3" fill="#555" stroke="#222" stroke-width="0.6"/><rect x="669.4" y="390.7" width="15.9" height="10.5" fill="#8a8a8a" stroke="#444" stroke-width="0.6"/><rect x="688.8" y="373.1" width="8.2" height="28.1" fill="#8c8c8c" stroke="#444" stroke-width="0.6"/><polygon points="697.0,380.2 715.8,393.0 715.8,395.4 697.0,386.0" fill="#808080" stroke="#333" stroke-width="0.6"/><rect x="685.3" y="393.8" width="30.5" height="1.9" fill="#999" stroke="#555" stroke-width="0.4"/><rect x="780.9" y="354.4" width="22.7" height="27.0" fill="#6c6c6c" stroke="#333" stroke-width="0.6"/><circle cx="791.2" cy="362.6" r="5.2" fill="#7d7d7d" stroke="#3a3a3a" stroke-width="0.6"/><rect x="783.8" y="372.0" width="17.6" height="5.9" rx="3" fill="#5a5a5a"/><polygon points="803.7,360.2 816.1,360.2 816.1,391.9 809.5,391.9 809.5,401.2 790.8,401.2 790.8,388.4 796.6,383.7 803.7,382.5" fill="#a2a2a2" stroke="#444" stroke-width="0.6"/><rect x="715.3" y="397.7" width="49.7" height="4.7" fill="#5a5a5a" stroke="#333" stroke-width="0.6"/><line x1="643.1" y1="397.7" x2="643.1" y2="408.3" stroke="#222" stroke-width="1"/><line x1="788.4" y1="393.0" x2="788.4" y2="402.4" stroke="#333" stroke-width="0.7"/><rect x="630.9" y="407.1" width="12.7" height="18.8" rx="3" fill="#3c3c3c" stroke="#222" stroke-width="0.6"/><rect x="626.2" y="428.2" width="15.0" height="11.0" rx="4" fill="#3c3c3c" stroke="#222" stroke-width="0.6"/><rect x="818.9" y="407.1" width="12.2" height="18.8" rx="3" fill="#5a5a5a" stroke="#222" stroke-width="0.6"/><rect x="821.2" y="428.2" width="14.1" height="11.0" rx="4" fill="#4a4a4a" stroke="#222" stroke-width="0.6"/><clipPath id="c4"><polygon points="644.3,409.5 657.2,401.2 809.5,401.2 820.1,409.5 824.8,438.8 826.4,445.8 823.1,476.2 802.5,490.8 802.5,509.1 793.1,510.7 670.1,510.7 659.5,509.1 659.5,490.8 639.6,476.2 636.1,445.8 637.3,438.8"/></clipPath><g clip-path="url(#c4)"><rect x="615.0" y="391.9" width="240.0" height="140.6" fill="#727272"/><rect x="615.0" y="391.9" width="240.0" height="48.0" fill="#696969"/><path d="M733.4,397.7C738.8,396.4 754.3,397.1 765.0,397.7C775.7,398.3 792.1,398.3 797.8,401.2C803.5,404.2 802.1,413.0 799.0,415.3C795.9,417.7 784.7,415.9 779.1,415.3C773.4,414.7 768.9,411.8 765.0,411.8C761.1,411.8 759.5,415.3 755.6,415.3C751.7,415.3 745.5,413.4 741.6,411.8C737.7,410.2 733.6,408.3 732.2,405.9C730.8,403.6 727.9,399.1 733.4,397.7Z" fill="#424242"/><path d="M633.8,443.4C638.4,438.8 653.3,440.9 661.9,441.6C670.5,442.3 680.2,445.0 685.3,447.7C690.5,450.3 692.6,452.7 692.8,457.5C693.0,462.3 689.9,471.9 686.5,476.2C683.1,480.6 678.5,483.3 672.4,483.8C666.4,484.2 656.6,481.5 650.2,479.1C643.7,476.6 636.5,475.2 633.8,469.2C631.0,463.3 629.1,448.0 633.8,443.4Z" fill="#424242"/><path d="M755.6,443.4C759.5,441.3 767.1,440.3 779.1,439.9C791.0,439.5 819.1,438.6 827.1,441.1C835.1,443.6 831.2,452.8 827.1,455.2C823.0,457.5 809.7,454.0 802.5,455.2C795.3,456.3 789.2,462.2 783.8,462.2C778.3,462.2 774.4,456.7 769.7,455.2C765.0,453.6 758.0,454.8 755.6,452.8C753.3,450.9 751.7,445.6 755.6,443.4Z" fill="#424242"/><path d="M685.3,448.1C688.6,445.4 701.7,442.1 713.4,441.1C725.2,440.1 748.4,440.1 755.6,442.3C762.9,444.4 754.3,451.6 756.8,454.0C759.3,456.3 766.6,454.8 770.9,456.3C775.2,457.9 780.6,460.0 782.6,463.4C784.5,466.7 787.1,473.7 782.6,476.2C778.1,478.8 765.2,478.6 755.6,478.6C746.1,478.6 735.7,476.1 725.2,476.2C714.6,476.4 698.6,480.0 692.3,479.8C686.1,479.6 687.5,478.8 687.7,475.1C687.9,471.4 693.9,462.0 693.5,457.5C693.1,453.0 682.0,450.9 685.3,448.1Z" fill="#7e7e7e"/><path d="M783.8,463.4C786.3,458.8 795.3,456.9 802.5,455.6C809.7,454.3 823.4,452.2 827.1,455.6C830.8,459.1 828.9,471.2 824.8,476.2C820.7,481.2 808.8,484.5 802.5,485.6C796.2,486.8 790.4,487.0 787.3,483.3C784.1,479.6 781.2,468.0 783.8,463.4Z" fill="#969696"/><polygon points="659.5,485.6 802.5,485.6 802.5,511.4 659.5,511.4" fill="#2d2d2d"/><path d="M722.8,476.2C727.9,473.2 745.7,479.1 755.6,479.1C765.6,479.1 778.7,473.6 782.6,476.2C786.5,478.9 782.0,489.5 779.1,495.0C776.1,500.5 772.0,506.5 765.0,509.1C758.0,511.6 743.5,512.2 736.9,510.2C730.2,508.3 727.5,503.0 725.2,497.3C722.8,491.7 717.7,479.3 722.8,476.2Z" fill="#222"/></g><polygon points="644.3,409.5 657.2,401.2 809.5,401.2 820.1,409.5 824.8,438.8 826.4,445.8 823.1,476.2 802.5,490.8 802.5,509.1 793.1,510.7 670.1,510.7 659.5,509.1 659.5,490.8 639.6,476.2 636.1,445.8 637.3,438.8" fill="none" stroke="#2a2a2a" stroke-width="0.7"/><linearGradient id="wgcf" x1="0" y1="0" x2="0" y2="1"><stop offset="0" stop-color="#8f8f8f"/><stop offset="1" stop-color="#c8c8c8"/></linearGradient><polygon points="686.5,413.0 775.5,413.0 777.2,435.2 684.8,435.2" fill="url(#wgcf)" stroke="#333" stroke-width="0.7"/><polygon points="647.3,414.8 677.8,414.1 674.8,435.2 645.0,435.9" fill="url(#wgcf)" stroke="#333" stroke-width="0.7"/><polygon points="784.2,414.1 815.4,414.8 817.7,435.9 787.3,435.2" fill="url(#wgcf)" stroke="#333" stroke-width="0.7"/><line x1="637.3" y1="439.2" x2="824.8" y2="439.2" stroke="#333" stroke-width="0.8"/><line x1="644.3" y1="409.5" x2="820.1" y2="409.5" stroke="#333" stroke-width="0.6"/><rect x="650.2" y="408.3" width="8.2" height="30.5" fill="none" stroke="#333" stroke-width="0.8"/><rect x="803.7" y="408.3" width="9.4" height="30.5" fill="none" stroke="#333" stroke-width="0.8"/><line x1="638.4" y1="455.2" x2="692.3" y2="462.2" stroke="#333" stroke-width="0.5"/><line x1="823.6" y1="455.2" x2="776.7" y2="462.2" stroke="#333" stroke-width="0.5"/><rect x="669.4" y="454.7" width="14.1" height="15.0" fill="#333" stroke="#222" stroke-width="0.6"/><circle cx="676.4" cy="462.2" r="5.2" fill="#eee" stroke="#555" stroke-width="0.6"/><rect x="779.1" y="455.2" width="13.1" height="14.5" fill="#333" stroke="#222" stroke-width="0.6"/><circle cx="785.6" cy="462.2" r="5.2" fill="#eee" stroke="#555" stroke-width="0.6"/><rect x="711.6" y="459.1" width="38.9" height="9.6" fill="#f2f2f2" stroke="#555" stroke-width="0.6"/><text x="715.3" y="467.1" font-size="7.6" fill="#222" font-family="Liberation Sans, sans-serif" font-weight="bold">KY-00-93</text><rect x="744.6" y="470.9" width="29.3" height="6.1" fill="#151515"/><text x="747.7" y="476.0" font-size="5.8" fill="#fff" font-family="Liberation Sans, sans-serif" font-weight="bold">NL</text><rect x="755.2" y="463.4" width="13.4" height="2.6" fill="#eee"/><rect x="694.7" y="461.7" width="14.1" height="3.3" fill="#ddd" stroke="#666" stroke-width="0.3"/><rect x="708.3" y="470.4" width="15.0" height="15.2" fill="#555" stroke="#222" stroke-width="0.6"/><circle cx="715.8" cy="476.2" r="4.7" fill="#777" stroke="#222" stroke-width="0.6"/><circle cx="705.2" cy="500.9" r="5.6" fill="#111" stroke="#eee" stroke-width="1"/><text x="702.2" y="502.7" font-size="3.6" fill="#fff" font-family="Liberation Sans, sans-serif">13</text><rect x="657.2" y="491.5" width="4.2" height="3.8" fill="#eee"/><rect x="662.6" y="491.5" width="4.0" height="3.8" fill="#ddd"/><rect x="794.3" y="491.5" width="4.2" height="3.8" fill="#eee"/><rect x="799.5" y="491.5" width="4.2" height="3.8" fill="#ddd"/><rect x="693.8" y="483.3" width="6.1" height="14.1" fill="none" stroke="#888" stroke-width="0.6"/><rect x="761.2" y="483.3" width="6.1" height="14.1" fill="none" stroke="#888" stroke-width="0.6"/><rect x="728.0" y="480.9" width="6.6" height="10.5" fill="none" stroke="#999" stroke-width="0.6"/><rect x="184.3" y="1174.9" width="22.3" height="75.5" rx="5" fill="url(#tr)" stroke="#222" stroke-width="0.6"/><rect x="349.5" y="1174.9" width="22.3" height="75.5" rx="5" fill="url(#tr)" stroke="#222" stroke-width="0.6"/><rect x="206.5" y="1193.6" width="143.0" height="24.6" fill="#2b2b2b"/><rect x="206.5" y="1217.1" width="10.5" height="17.6" fill="#2e2e2e"/><rect x="339.0" y="1217.1" width="10.5" height="17.6" fill="#2e2e2e"/><rect x="192.5" y="1081.1" width="24.6" height="22.3" fill="#5c5c5c" stroke="#333" stroke-width="0.6"/><circle cx="202.3" cy="1087.7" r="4.7" fill="#808080" stroke="#333" stroke-width="0.6"/><rect x="197.2" y="1096.4" width="16.4" height="7.0" fill="#777" stroke="#444" stroke-width="0.6"/><rect x="218.2" y="1079.2" width="14.1" height="18.3" fill="#444" stroke="#222" stroke-width="0.6"/><rect x="216.4" y="1098.7" width="15.9" height="10.5" fill="#6a6a6a" stroke="#444" stroke-width="0.6"/><rect x="235.8" y="1081.1" width="8.2" height="28.1" fill="#6c6c6c" stroke="#444" stroke-width="0.6"/><polygon points="244.0,1088.2 262.8,1101.0 262.8,1103.4 244.0,1094.0" fill="#606060" stroke="#333" stroke-width="0.6"/><rect x="327.9" y="1062.4" width="22.7" height="27.0" fill="#555" stroke="#2a2a2a" stroke-width="0.6"/><circle cx="338.2" cy="1070.6" r="5.2" fill="#6d6d6d" stroke="#2a2a2a" stroke-width="0.6"/><rect x="330.8" y="1080.0" width="17.6" height="5.9" rx="3" fill="#444"/><polygon points="350.7,1068.2 363.1,1068.2 363.1,1099.9 356.5,1099.9 356.5,1109.2 337.8,1109.2 337.8,1096.4 343.6,1091.7 350.7,1090.5" fill="#8a8a8a" stroke="#444" stroke-width="0.6"/><rect x="262.3" y="1105.7" width="49.7" height="4.7" fill="#4a4a4a" stroke="#333" stroke-width="0.6"/><line x1="190.1" y1="1105.7" x2="190.1" y2="1116.3" stroke="#222" stroke-width="1"/><line x1="335.4" y1="1101.0" x2="335.4" y2="1110.4" stroke="#333" stroke-width="0.7"/><rect x="177.9" y="1115.1" width="12.7" height="18.8" rx="3" fill="#2e2e2e" stroke="#222" stroke-width="0.6"/><rect x="173.2" y="1136.2" width="15.0" height="11.0" rx="4" fill="#2e2e2e" stroke="#222" stroke-width="0.6"/><rect x="365.9" y="1115.1" width="12.2" height="18.8" rx="3" fill="#b0b0b0" stroke="#222" stroke-width="0.6"/><rect x="368.2" y="1136.2" width="14.1" height="11.0" rx="4" fill="#999" stroke="#222" stroke-width="0.6"/><clipPath id="c5"><polygon points="191.3,1117.5 204.2,1109.2 356.5,1109.2 367.1,1117.5 371.8,1146.8 373.4,1153.8 370.1,1184.2 349.5,1198.8 349.5,1217.1 340.1,1218.7 217.1,1218.7 206.5,1217.1 206.5,1198.8 186.6,1184.2 183.1,1153.8 184.3,1146.8"/></clipPath><g clip-path="url(#c5)"><rect x="162.0" y="1099.9" width="240.0" height="140.6" fill="#727272"/><rect x="162.0" y="1099.9" width="240.0" height="48.0" fill="#6a6a6a"/><path d="M176.1,1105.7C185.4,1098.8 222.5,1103.5 232.3,1106.4C242.2,1109.4 235.4,1116.4 235.1,1123.3C234.8,1130.2 240.3,1143.8 230.4,1147.9C220.6,1152.0 185.1,1155.0 176.1,1147.9C167.0,1140.9 166.7,1112.6 176.1,1105.7Z" fill="#3a3a3a"/><path d="M282.7,1103.4C285.8,1100.4 299.1,1100.5 302.6,1103.4C306.2,1106.3 307.2,1118.0 304.0,1121.0C300.9,1124.0 287.4,1124.4 283.9,1121.4C280.3,1118.5 279.6,1106.4 282.7,1103.4Z" fill="#2e2e2e"/><path d="M302.6,1103.4C314.9,1100.4 365.1,1095.8 377.6,1103.4C390.1,1111.0 386.6,1141.5 377.6,1149.1C368.6,1156.7 333.0,1153.4 323.7,1149.1C314.4,1144.8 325.1,1127.9 321.8,1123.3C318.6,1118.7 307.2,1124.8 304.0,1121.4C300.8,1118.1 290.4,1106.4 302.6,1103.4Z" fill="#a2a2a2"/><rect x="162.0" y="1147.9" width="240.0" height="73.8" fill="#6c6c6c"/><path d="M176.1,1147.9C185.4,1140.3 220.1,1146.6 232.3,1147.9C244.5,1149.3 246.0,1151.6 249.2,1156.1C252.4,1160.6 252.3,1169.3 251.5,1174.9C250.8,1180.4 247.7,1186.2 244.5,1189.4C241.3,1192.6 238.6,1191.8 232.3,1194.1C226.0,1196.4 215.9,1203.1 206.5,1203.0C197.2,1202.9 181.1,1202.8 176.1,1193.6C171.0,1184.4 166.7,1155.5 176.1,1147.9Z" fill="#b6b6b6"/><path d="M323.7,1156.1C327.2,1152.5 331.1,1150.0 340.1,1148.6C349.1,1147.3 371.4,1141.2 377.6,1147.9C383.9,1154.6 382.3,1179.8 377.6,1188.9C372.9,1198.1 355.7,1203.7 349.5,1203.0C343.3,1202.3 344.5,1188.6 340.6,1184.7C336.7,1180.8 329.7,1182.0 326.1,1179.6C322.5,1177.1 319.4,1174.1 319.0,1170.2C318.6,1166.3 320.2,1159.7 323.7,1156.1Z" fill="#b6b6b6"/><path d="M302.6,1151.4C305.7,1148.6 313.1,1147.8 316.7,1148.6C320.3,1149.4 323.3,1153.2 324.2,1156.1C325.0,1159.0 324.6,1163.5 321.8,1166.0C319.1,1168.4 312.5,1167.6 307.8,1170.7C303.1,1173.7 296.8,1178.9 293.7,1184.2C290.6,1189.6 290.6,1196.8 289.0,1203.0C287.5,1209.2 287.2,1218.6 284.3,1221.8C281.5,1224.9 273.7,1224.9 272.2,1221.8C270.6,1218.6 272.9,1209.2 275.0,1203.0C277.0,1196.8 280.4,1190.5 284.3,1184.2C288.2,1178.0 295.4,1171.0 298.4,1165.5C301.5,1160.0 299.6,1154.2 302.6,1151.4Z" fill="#3e3e3e"/><polygon points="206.5,1193.6 349.5,1193.6 349.5,1219.4 206.5,1219.4" fill="#3a3a3a"/><path d="M232.3,1192.5C241.9,1187.6 280.9,1187.6 289.7,1192.5C298.5,1197.3 294.6,1216.9 285.0,1221.8C275.5,1226.6 241.1,1226.6 232.3,1221.8C223.5,1216.9 222.7,1197.3 232.3,1192.5Z" fill="#6e6e6e"/><path d="M289.7,1203.0C292.7,1198.3 296.6,1195.2 302.6,1193.6C308.7,1192.1 319.8,1192.1 326.1,1193.6C332.3,1195.2 337.8,1198.3 340.1,1203.0C342.5,1207.7 349.3,1218.6 340.1,1221.8C330.9,1224.9 293.4,1224.9 285.0,1221.8C276.6,1218.6 286.8,1207.7 289.7,1203.0Z" fill="#555"/></g><polygon points="191.3,1117.5 204.2,1109.2 356.5,1109.2 367.1,1117.5 371.8,1146.8 373.4,1153.8 370.1,1184.2 349.5,1198.8 349.5,1217.1 340.1,1218.7 217.1,1218.7 206.5,1217.1 206.5,1198.8 186.6,1184.2 183.1,1153.8 184.3,1146.8" fill="none" stroke="#2a2a2a" stroke-width="0.7"/><linearGradient id="wgcfb" x1="0" y1="0" x2="0" y2="1"><stop offset="0" stop-color="#666"/><stop offset="1" stop-color="#8a8a8a"/></linearGradient><polygon points="233.5,1121.0 322.5,1121.0 324.2,1143.2 231.8,1143.2" fill="url(#wgcfb)" stroke="#333" stroke-width="0.7"/><polygon points="194.3,1122.8 224.8,1122.1 221.8,1143.2 192.0,1143.9" fill="url(#wgcfb)" stroke="#333" stroke-width="0.7"/><polygon points="331.2,1122.1 362.4,1122.8 364.7,1143.9 334.3,1143.2" fill="url(#wgcfb)" stroke="#333" stroke-width="0.7"/><line x1="184.3" y1="1147.2" x2="371.8" y2="1147.2" stroke="#333" stroke-width="0.8"/><line x1="191.3" y1="1117.5" x2="367.1" y2="1117.5" stroke="#333" stroke-width="0.6"/><rect x="197.2" y="1116.3" width="8.2" height="30.5" fill="none" stroke="#333" stroke-width="0.8"/><rect x="350.7" y="1116.3" width="9.4" height="30.5" fill="none" stroke="#bbb" stroke-width="0.8"/><line x1="185.4" y1="1163.2" x2="239.3" y2="1170.2" stroke="#333" stroke-width="0.5"/><line x1="370.6" y1="1163.2" x2="323.7" y2="1170.2" stroke="#333" stroke-width="0.5"/><rect x="216.4" y="1162.7" width="14.1" height="15.0" fill="#333" stroke="#222" stroke-width="0.6"/><circle cx="223.4" cy="1170.2" r="5.2" fill="#eee" stroke="#555" stroke-width="0.6"/><rect x="326.1" y="1163.2" width="13.1" height="14.5" fill="#333" stroke="#222" stroke-width="0.6"/><circle cx="332.6" cy="1170.2" r="5.2" fill="#eee" stroke="#555" stroke-width="0.6"/><rect x="258.6" y="1167.1" width="38.9" height="9.6" fill="#f2f2f2" stroke="#555" stroke-width="0.6"/><text x="262.3" y="1175.1" font-size="7.6" fill="#222" font-family="Liberation Sans, sans-serif" font-weight="bold">KY-00-93</text><rect x="291.6" y="1178.9" width="29.3" height="6.1" fill="#151515"/><text x="294.7" y="1184.0" font-size="5.8" fill="#fff" font-family="Liberation Sans, sans-serif" font-weight="bold">NL</text><rect x="302.2" y="1171.4" width="13.4" height="2.6" fill="#eee"/><rect x="241.7" y="1169.7" width="14.1" height="3.3" fill="#ddd" stroke="#666" stroke-width="0.3"/><rect x="255.3" y="1178.4" width="15.0" height="15.2" fill="#555" stroke="#222" stroke-width="0.6"/><circle cx="262.8" cy="1184.2" r="4.7" fill="#777" stroke="#222" stroke-width="0.6"/><circle cx="252.2" cy="1208.9" r="5.6" fill="#111" stroke="#eee" stroke-width="1"/><text x="249.2" y="1210.7" font-size="3.6" fill="#fff" font-family="Liberation Sans, sans-serif">13</text><rect x="204.2" y="1199.5" width="4.2" height="3.8" fill="#eee"/><rect x="209.6" y="1199.5" width="4.0" height="3.8" fill="#ddd"/><rect x="341.3" y="1199.5" width="4.2" height="3.8" fill="#eee"/><rect x="346.5" y="1199.5" width="4.2" height="3.8" fill="#ddd"/><rect x="240.8" y="1191.3" width="6.1" height="14.1" fill="none" stroke="#888" stroke-width="0.6"/><rect x="308.2" y="1191.3" width="6.1" height="14.1" fill="none" stroke="#888" stroke-width="0.6"/><rect x="275.0" y="1188.9" width="6.6" height="10.5" fill="none" stroke="#999" stroke-width="0.6"/><rect x="468.0" y="1395.2" width="16.4" height="41.0" fill="#3a3a3a" stroke="#222" stroke-width="0.6"/><rect x="469.2" y="1396.8" width="12.9" height="8.4" rx="3" fill="#555" stroke="#222" stroke-width="0.6"/><rect x="469.2" y="1407.3" width="12.9" height="8.4" rx="3" fill="#555" stroke="#222" stroke-width="0.6"/><rect x="469.2" y="1419.1" width="12.9" height="8.4" rx="3" fill="#555" stroke="#222" stroke-width="0.6"/><rect x="468.0" y="1524.1" width="16.4" height="38.7" fill="#aaa" stroke="#333" stroke-width="0.6"/><rect x="469.2" y="1531.6" width="14.5" height="8.4" rx="3" fill="#b0b0b0" stroke="#333" stroke-width="0.6"/><rect x="469.2" y="1543.3" width="14.5" height="8.4" rx="3" fill="#b0b0b0" stroke="#333" stroke-width="0.6"/><rect x="469.2" y="1553.8" width="14.5" height="8.4" rx="3" fill="#b0b0b0" stroke="#333" stroke-width="0.6"/><rect x="468.0" y="1445.5" width="5.9" height="72.7" fill="#333"/><polygon points="128.0,1382.3 137.3,1375.2 140.2,1377.1 134.5,1390.5" fill="#333"/><polygon points="128.0,1576.8 137.3,1583.4 140.2,1581.5 134.5,1569.8" fill="#333"/><rect x="71.2" y="1442.0" width="3.3" height="7.0" fill="#666"/><rect x="71.2" y="1508.8" width="3.3" height="7.5" fill="#444"/><rect x="71.2" y="1478.4" width="2.8" height="2.3" fill="#666"/><clipPath id="ctb"><polygon points="74.1,1431.5 119.8,1386.5 464.5,1385.8 468.0,1389.3 468.0,1570.9 464.5,1574.0 119.8,1573.3 74.1,1529.9"/></clipPath><g clip-path="url(#ctb)"><rect x="40.0" y="1353.1" width="460.0" height="269.5" fill="#747474"/><rect x="40.0" y="1353.1" width="460.0" height="269.5" fill="#6e6e6e"/><path d="M67.0,1440.7C73.7,1428.4 96.9,1434.2 107.4,1431.7C117.9,1429.3 124.9,1424.0 129.8,1425.9C134.8,1427.8 137.0,1436.4 137.0,1443.0C137.0,1449.6 130.6,1457.9 129.8,1465.4C129.1,1472.9 132.5,1481.1 132.5,1487.9C132.5,1494.6 133.3,1500.5 129.8,1505.9C126.4,1511.2 118.6,1517.8 111.9,1520.2C105.1,1522.6 96.9,1522.6 89.4,1520.2C81.9,1517.8 70.7,1519.1 67.0,1505.9C63.2,1492.6 60.2,1453.1 67.0,1440.7Z" fill="#686868"/><path d="M188.2,1382.3C212.6,1379.7 294.6,1378.2 316.3,1382.3C338.0,1386.4 315.9,1399.9 318.5,1407.0C321.1,1414.1 328.1,1419.8 332.0,1425.0C335.9,1430.2 341.0,1431.7 341.9,1438.5C342.8,1445.2 338.9,1455.7 337.4,1465.4C335.9,1475.2 337.4,1490.1 332.9,1496.9C328.4,1503.6 314.9,1499.9 310.4,1505.9C305.9,1511.8 304.4,1527.4 305.9,1532.8C307.4,1538.2 318.7,1535.2 319.4,1538.2C320.2,1541.2 312.7,1544.2 310.4,1550.8C308.2,1557.4 310.2,1573.2 305.9,1577.7C301.7,1582.2 286.8,1585.2 284.8,1577.7C282.9,1570.2 293.4,1544.8 294.3,1532.8C295.1,1520.8 292.0,1513.3 289.8,1505.9C287.5,1498.4 281.4,1494.6 280.8,1487.9C280.2,1481.1 283.4,1473.7 286.2,1465.4C288.9,1457.2 296.3,1447.1 297.4,1438.5C298.5,1429.9 296.9,1420.2 292.9,1413.8C288.9,1407.3 280.6,1401.4 273.6,1399.8C266.6,1398.3 257.1,1400.9 251.1,1404.3C245.1,1407.8 242.9,1419.2 237.7,1420.5C232.4,1421.9 227.9,1413.0 219.7,1412.4C211.5,1411.8 196.5,1419.3 188.2,1416.9C180.0,1414.5 170.3,1403.8 170.3,1398.0C170.3,1392.3 163.9,1384.9 188.2,1382.3Z" fill="#424242"/><path d="M106.9,1427.7C105.4,1425.7 115.8,1420.8 120.9,1418.7C126.0,1416.6 132.0,1416.5 137.5,1415.1C142.9,1413.7 148.2,1413.3 153.7,1410.2C159.1,1407.0 165.6,1400.9 170.3,1396.2C175.0,1391.6 175.2,1384.6 182.0,1382.3C188.7,1380.0 209.1,1378.4 210.7,1382.3C212.3,1386.2 197.8,1399.0 191.4,1405.7C185.0,1412.3 178.0,1418.2 172.5,1422.3C167.1,1426.4 165.6,1429.0 158.6,1430.4C151.6,1431.7 138.9,1430.8 130.3,1430.4C121.7,1429.9 108.5,1429.6 106.9,1427.7Z" fill="#686868"/><path d="M399.4,1380.1C415.1,1376.0 474.2,1360.2 489.2,1380.1C504.2,1399.9 492.2,1479.5 489.2,1499.1C486.2,1518.7 477.8,1501.1 471.2,1497.8C464.7,1494.4 454.4,1485.8 450.1,1478.9C445.9,1472.0 448.6,1462.9 445.6,1456.4C442.6,1450.0 437.5,1443.0 432.2,1440.3C426.9,1437.6 418.3,1437.6 413.8,1440.3C409.2,1443.0 407.9,1453.6 404.8,1456.4C401.6,1459.3 398.0,1460.2 394.9,1457.3C391.7,1454.5 387.4,1444.8 385.9,1439.4C384.4,1434.0 384.4,1430.8 385.9,1425.0C387.4,1419.2 392.6,1412.3 394.9,1404.8C397.1,1397.3 383.7,1384.2 399.4,1380.1Z" fill="#424242"/><path d="M145.6,1567.8C150.1,1563.7 167.3,1552.7 174.8,1553.0C182.3,1553.3 190.5,1565.5 190.5,1569.6C190.5,1573.8 181.9,1576.4 174.8,1577.7C167.7,1579.1 152.7,1579.4 147.8,1577.7C142.9,1576.1 141.1,1572.0 145.6,1567.8Z" fill="#333"/><path d="M354.5,1443.0C358.2,1438.6 365.7,1437.0 372.4,1439.4C379.2,1441.8 389.5,1452.1 394.9,1457.3C400.3,1462.6 401.6,1465.7 404.8,1470.8C407.9,1475.9 414.5,1482.0 413.8,1487.9C413.0,1493.7 403.3,1499.9 400.3,1505.9C397.3,1511.8 398.9,1522.3 395.8,1523.8C392.6,1525.3 388.3,1515.6 381.4,1514.8C374.5,1514.1 360.4,1522.3 354.5,1519.3C348.5,1516.3 346.2,1505.9 345.5,1496.9C344.7,1487.9 348.5,1474.4 350.0,1465.4C351.5,1456.4 350.7,1447.3 354.5,1443.0Z" fill="#4a4a4a"/><path d="M174.8,1481.1C176.3,1475.0 188.1,1465.7 192.7,1465.4C197.4,1465.2 201.7,1474.6 202.6,1479.8C203.5,1485.0 201.3,1493.1 198.1,1496.9C195.0,1500.6 187.6,1504.9 183.8,1502.3C179.9,1499.6 173.3,1487.3 174.8,1481.1Z" fill="#555"/><path d="M107.4,1380.1C127.6,1373.7 177.8,1379.3 188.2,1382.3C198.7,1385.3 177.0,1392.7 170.3,1398.0C163.5,1403.4 154.6,1409.6 147.8,1414.2C141.1,1418.9 136.6,1422.9 129.8,1425.9C123.1,1428.9 114.9,1429.9 107.4,1432.2C99.9,1434.4 91.7,1437.9 84.9,1439.4C78.2,1440.9 69.9,1444.3 67.0,1441.2C64.0,1438.0 60.2,1430.7 67.0,1420.5C73.7,1410.3 87.2,1386.4 107.4,1380.1Z" fill="#b6b6b6"/><path d="M67.0,1505.9C70.7,1496.3 81.9,1517.8 89.4,1520.2C96.9,1522.6 105.1,1522.6 111.9,1520.2C118.6,1517.8 122.4,1510.5 129.8,1505.9C137.3,1501.2 147.1,1493.9 156.8,1492.4C166.5,1490.9 180.3,1493.1 188.2,1496.9C196.2,1500.6 202.5,1508.1 204.4,1514.8C206.4,1521.6 204.9,1531.2 199.9,1537.3C195.0,1543.4 182.0,1549.0 174.8,1551.7C167.6,1554.4 162.0,1550.5 156.8,1553.5C151.6,1556.5 149.3,1565.6 143.3,1569.6C137.3,1573.7 133.6,1576.4 120.9,1577.7C108.1,1579.1 75.9,1589.7 67.0,1577.7C58.0,1565.8 63.2,1515.4 67.0,1505.9Z" fill="#b6b6b6"/><path d="M251.1,1404.3C255.3,1398.6 266.7,1398.3 273.6,1399.8C280.5,1401.4 288.6,1407.3 292.5,1413.8C296.4,1420.2 298.2,1429.9 297.0,1438.5C295.8,1447.1 288.0,1457.2 285.3,1465.4C282.5,1473.7 279.4,1481.1 280.3,1487.9C281.2,1494.6 288.0,1498.4 290.7,1505.9C293.3,1513.3 295.9,1523.8 296.1,1532.8C296.2,1541.8 293.4,1552.3 291.6,1559.8C289.7,1567.2 295.7,1574.7 284.8,1577.7C274.0,1580.7 237.4,1581.5 226.4,1577.7C215.4,1574.0 219.2,1564.3 218.8,1555.3C218.4,1546.3 221.0,1532.1 224.2,1523.8C227.3,1515.6 233.2,1511.8 237.7,1505.9C242.1,1499.9 248.1,1495.4 251.1,1487.9C254.1,1480.4 256.0,1469.9 255.6,1460.9C255.3,1452.0 249.6,1443.4 248.9,1434.0C248.1,1424.5 247.0,1410.0 251.1,1404.3Z" fill="#b6b6b6"/><path d="M316.3,1380.1C329.7,1375.6 386.3,1376.0 399.4,1380.1C412.5,1384.2 397.1,1397.3 394.9,1404.8C392.6,1412.3 389.6,1419.2 385.9,1425.0C382.2,1430.8 377.7,1436.2 372.4,1439.4C367.2,1442.5 359.7,1443.9 354.5,1443.9C349.2,1443.9 344.7,1442.5 341.0,1439.4C337.2,1436.2 335.7,1430.4 332.0,1425.0C328.2,1419.6 321.1,1414.5 318.5,1407.0C315.9,1399.5 302.8,1384.6 316.3,1380.1Z" fill="#b6b6b6"/><path d="M404.8,1456.4C406.3,1451.4 409.3,1443.0 413.8,1440.3C418.2,1437.6 426.5,1437.6 431.7,1440.3C437.0,1443.0 442.2,1450.0 445.2,1456.4C448.2,1462.9 445.3,1472.0 449.7,1478.9C454.0,1485.8 464.7,1494.4 471.2,1497.8C477.8,1501.1 486.2,1485.8 489.2,1499.1C492.2,1512.4 498.2,1564.6 489.2,1577.7C480.2,1590.8 444.1,1582.2 435.3,1577.7C426.5,1573.2 434.6,1559.0 436.2,1550.8C437.9,1542.5 445.2,1535.8 445.2,1528.3C445.2,1520.8 440.0,1512.6 436.2,1505.9C432.5,1499.1 426.5,1493.7 422.7,1487.9C419.0,1482.0 416.7,1473.7 413.8,1470.8C410.8,1468.0 406.3,1473.2 404.8,1470.8C403.3,1468.4 403.3,1461.5 404.8,1456.4Z" fill="#b6b6b6"/><path d="M305.0,1577.7C291.0,1573.2 306.7,1559.0 310.4,1550.8C314.2,1542.5 320.2,1533.6 327.5,1528.3C334.8,1523.1 345.5,1521.6 354.5,1519.3C363.4,1517.1 374.5,1513.9 381.4,1514.8C388.3,1515.7 392.6,1518.7 395.8,1524.7C398.9,1530.7 400.4,1541.9 400.3,1550.8C400.1,1559.6 410.8,1573.2 394.9,1577.7C379.0,1582.2 319.1,1582.2 305.0,1577.7Z" fill="#b6b6b6"/><line x1="106.9" y1="1398.7" x2="106.9" y2="1560.4" stroke="#3b3b3b" stroke-width="0.5"/><line x1="112.7" y1="1394.0" x2="112.7" y2="1566.2" stroke="#3b3b3b" stroke-width="0.7"/><polygon points="133.8,1435.0 153.8,1437.3 153.8,1522.9 133.8,1525.7" fill="#777" stroke="#3b3b3b" stroke-width="0.6"/><polygon points="143.2,1424.0 187.7,1393.5 208.1,1396.3 163.1,1426.8" fill="#8a8a8a" stroke="#3b3b3b" stroke-width="0.6"/><polygon points="143.2,1535.1 163.1,1532.3 208.1,1563.2 187.7,1567.0" fill="#8a8a8a" stroke="#3b3b3b" stroke-width="0.6"/><polyline points="126.8,1428.0 160.8,1431.0 224.1,1431.0" fill="none" stroke="#3b3b3b" stroke-width="0.7"/><polyline points="126.8,1529.9 160.8,1527.1 210.0,1565.1" fill="none" stroke="#3b3b3b" stroke-width="0.7"/><line x1="126.8" y1="1428.0" x2="126.8" y2="1529.9" stroke="#3b3b3b" stroke-width="0.7"/><line x1="160.8" y1="1431.0" x2="160.8" y2="1527.1" stroke="#3b3b3b" stroke-width="0.9"/><line x1="126.8" y1="1428.0" x2="181.9" y2="1388.1" stroke="#3b3b3b" stroke-width="0.6"/><line x1="126.8" y1="1529.9" x2="181.9" y2="1572.1" stroke="#3b3b3b" stroke-width="0.6"/><line x1="219.4" y1="1445.5" x2="219.4" y2="1565.1" stroke="#3b3b3b" stroke-width="0.5"/><line x1="227.6" y1="1445.5" x2="227.6" y2="1565.1" stroke="#3b3b3b" stroke-width="0.8"/><circle cx="223.4" cy="1450.2" r="1.2" fill="none" stroke="#444" stroke-width="0.4"/><circle cx="223.4" cy="1460.8" r="1.2" fill="none" stroke="#444" stroke-width="0.4"/><circle cx="223.4" cy="1471.3" r="1.2" fill="none" stroke="#444" stroke-width="0.4"/><circle cx="223.4" cy="1481.9" r="1.2" fill="none" stroke="#444" stroke-width="0.4"/><circle cx="223.4" cy="1492.4" r="1.2" fill="none" stroke="#444" stroke-width="0.4"/><circle cx="223.4" cy="1503.0" r="1.2" fill="none" stroke="#444" stroke-width="0.4"/><circle cx="223.4" cy="1513.5" r="1.2" fill="none" stroke="#444" stroke-width="0.4"/><circle cx="223.4" cy="1524.1" r="1.2" fill="none" stroke="#444" stroke-width="0.4"/><circle cx="223.4" cy="1534.6" r="1.2" fill="none" stroke="#444" stroke-width="0.4"/><circle cx="223.4" cy="1545.2" r="1.2" fill="none" stroke="#444" stroke-width="0.4"/><circle cx="223.4" cy="1555.7" r="1.2" fill="none" stroke="#444" stroke-width="0.4"/><polygon points="212.7,1486.4 201.7,1499.8 185.9,1500.0 174.6,1486.8 174.5,1468.0 185.5,1454.5 201.3,1454.4 212.6,1467.6" fill="none" stroke="#c0c0c0" stroke-width="0.8"/><polygon points="213.4,1487.1 202.4,1500.5 186.6,1500.7 175.3,1487.5 175.2,1468.7 186.2,1455.2 202.0,1455.1 213.3,1468.3" fill="none" stroke="#3a3a3a" stroke-width="0.5"/><rect x="203.0" y="1484.2" width="11.7" height="14.1" fill="#aaa" stroke="#333" stroke-width="0.6" transform="rotate(-25 208.8 1491.2)"/><rect x="200.6" y="1438.5" width="14.5" height="24.6" fill="#555" stroke="#333" stroke-width="0.6"/><rect x="179.5" y="1428.0" width="68.0" height="4.7" fill="#555" stroke="#333" stroke-width="0.6"/><rect x="219.4" y="1416.2" width="28.1" height="22.3" fill="#555" stroke="#333" stroke-width="0.6"/><rect x="224.1" y="1410.4" width="18.8" height="8.2" fill="#999" stroke="#333" stroke-width="0.6"/><circle cx="262.7" cy="1435.0" r="30.0" fill="none" stroke="#3b3b3b" stroke-width="0.9"/><circle cx="262.7" cy="1435.0" r="26.2" fill="none" stroke="#a5a5a5" stroke-width="0.6"/><circle cx="259.2" cy="1533.4" r="28.6" fill="none" stroke="#3b3b3b" stroke-width="0.9"/><circle cx="259.2" cy="1533.4" r="25.3" fill="none" stroke="#a5a5a5" stroke-width="0.6"/><rect x="281.5" y="1425.6" width="11.7" height="10.5" fill="#aaa" stroke="#333" stroke-width="0.6"/><rect x="274.5" y="1514.7" width="11.7" height="10.5" fill="#888" stroke="#222" stroke-width="0.6" transform="rotate(25 280.3 1520.1)"/><line x1="294.4" y1="1394.0" x2="308.4" y2="1408.0" stroke="#3b3b3b" stroke-width="2.2"/><line x1="290.9" y1="1398.7" x2="304.9" y2="1412.7" stroke="#999" stroke-width="0.6"/><line x1="119.8" y1="1387.4" x2="300.0" y2="1387.4" stroke="#2a2a2a" stroke-width="0.8"/><line x1="119.8" y1="1572.6" x2="300.0" y2="1572.6" stroke="#2a2a2a" stroke-width="0.8"/><circle cx="117.4" cy="1398.7" r="2.1" fill="#8a8a8a" stroke="#333" stroke-width="0.4"/><circle cx="116.2" cy="1421.6" r="2.1" fill="#8a8a8a" stroke="#333" stroke-width="0.4"/><circle cx="116.2" cy="1537.0" r="2.1" fill="#8a8a8a" stroke="#333" stroke-width="0.4"/><circle cx="117.4" cy="1560.9" r="2.1" fill="#8a8a8a" stroke="#333" stroke-width="0.4"/><circle cx="183.0" cy="1532.3" r="2.1" fill="#8a8a8a" stroke="#333" stroke-width="0.4"/><circle cx="220.5" cy="1555.7" r="2.1" fill="#8a8a8a" stroke="#333" stroke-width="0.4"/><rect x="116.7" y="1429.6" width="8.4" height="4.7" fill="#b5b5b5" stroke="#333" stroke-width="0.4"/><rect x="116.7" y="1525.2" width="8.4" height="4.7" fill="#b5b5b5" stroke="#333" stroke-width="0.4"/><line x1="328.6" y1="1387.0" x2="328.6" y2="1572.1" stroke="#555" stroke-width="0.7"/><line x1="330.5" y1="1387.0" x2="330.5" y2="1572.1" stroke="#3b3b3b" stroke-width="0.5"/><rect x="333.3" y="1401.0" width="46.9" height="38.7" rx="4" fill="none" stroke="#3b3b3b" stroke-width="0.7"/><rect x="336.8" y="1405.7" width="22.3" height="12.9" rx="2" fill="none" stroke="#3b3b3b" stroke-width="0.6"/><rect x="382.5" y="1396.3" width="9.4" height="44.5" fill="none" stroke="#3b3b3b" stroke-width="0.5"/><rect x="393.0" y="1402.2" width="62.1" height="42.2" fill="#2b2422"/><line x1="402.0" y1="1402.2" x2="402.0" y2="1444.4" stroke="#8a8a8a" stroke-width="0.6"/><line x1="410.9" y1="1402.2" x2="410.9" y2="1444.4" stroke="#8a8a8a" stroke-width="0.6"/><line x1="419.8" y1="1402.2" x2="419.8" y2="1444.4" stroke="#8a8a8a" stroke-width="0.6"/><line x1="428.7" y1="1402.2" x2="428.7" y2="1444.4" stroke="#8a8a8a" stroke-width="0.6"/><line x1="437.6" y1="1402.2" x2="437.6" y2="1444.4" stroke="#8a8a8a" stroke-width="0.6"/><line x1="446.5" y1="1402.2" x2="446.5" y2="1444.4" stroke="#8a8a8a" stroke-width="0.6"/><line x1="332.1" y1="1445.5" x2="464.5" y2="1445.5" stroke="#3b3b3b" stroke-width="0.6"/><line x1="340.3" y1="1449.1" x2="462.2" y2="1452.6" stroke="#3b3b3b" stroke-width="0.5"/><rect x="346.2" y="1450.2" width="51.6" height="52.7" fill="none" stroke="#3b3b3b" stroke-width="0.6"/><circle cx="355.5" cy="1458.4" r="5.2" fill="none" stroke="#3b3b3b" stroke-width="0.6"/><rect x="356.7" y="1464.3" width="36.3" height="46.9" rx="2" fill="#6a6a6a" stroke="#333" stroke-width="0.8"/><rect x="360.2" y="1467.8" width="29.3" height="39.8" rx="2" fill="#5d5d5d" stroke="#444" stroke-width="0.5"/><rect x="298.1" y="1503.0" width="32.8" height="64.5" fill="none" stroke="#3b3b3b" stroke-width="0.7"/><rect x="302.8" y="1507.7" width="25.8" height="55.1" fill="none" stroke="#3b3b3b" stroke-width="0.4"/><rect x="312.2" y="1529.9" width="27.0" height="22.3" rx="2" fill="#777" stroke="#333" stroke-width="0.6"/><rect x="318.0" y="1553.4" width="15.2" height="10.5" fill="#666" stroke="#333" stroke-width="0.6"/><circle cx="343.8" cy="1511.2" r="7.0" fill="none" stroke="#3b3b3b" stroke-width="0.6"/><rect x="340.3" y="1525.2" width="51.6" height="40.3" fill="none" stroke="#3b3b3b" stroke-width="0.6"/><rect x="349.7" y="1527.6" width="21.1" height="10.5" fill="none" stroke="#3b3b3b" stroke-width="0.4"/><rect x="373.1" y="1535.8" width="12.9" height="19.9" fill="#c4c4c4" stroke="#444" stroke-width="0.4"/><rect x="354.4" y="1545.2" width="12.9" height="4.7" rx="2" fill="none" stroke="#ddd" stroke-width="0.8"/><rect x="414.1" y="1464.3" width="43.4" height="98.4" rx="5" fill="none" stroke="#2a2a2a" stroke-width="0.7"/><rect x="428.2" y="1463.1" width="17.6" height="5.9" rx="2" fill="none" stroke="#ccc" stroke-width="0.7"/><rect x="428.2" y="1556.9" width="17.6" height="5.4" rx="2" fill="none" stroke="#ccc" stroke-width="0.7"/><rect x="400.1" y="1473.7" width="10.5" height="23.4" fill="none" stroke="#3b3b3b" stroke-width="0.5"/><rect x="402.4" y="1532.3" width="10.5" height="18.8" fill="none" stroke="#3b3b3b" stroke-width="0.5"/><circle cx="405.9" cy="1527.6" r="4.2" fill="#555" stroke="#222" stroke-width="0.6"/><rect x="420.0" y="1471.8" width="3.8" height="8.4" fill="none" stroke="#999" stroke-width="0.5"/><rect x="451.6" y="1471.8" width="3.5" height="8.4" fill="none" stroke="#999" stroke-width="0.5"/><rect x="420.0" y="1497.6" width="3.8" height="8.4" fill="none" stroke="#999" stroke-width="0.5"/><rect x="451.6" y="1497.6" width="3.5" height="8.4" fill="none" stroke="#999" stroke-width="0.5"/><rect x="420.0" y="1517.5" width="3.8" height="8.4" fill="none" stroke="#999" stroke-width="0.5"/><rect x="451.6" y="1517.5" width="3.5" height="8.4" fill="none" stroke="#999" stroke-width="0.5"/><rect x="420.0" y="1530.4" width="3.8" height="8.4" fill="none" stroke="#999" stroke-width="0.5"/><rect x="451.6" y="1530.4" width="3.5" height="8.4" fill="none" stroke="#999" stroke-width="0.5"/><rect x="452.8" y="1485.4" width="11.7" height="10.5" fill="none" stroke="#999" stroke-width="0.5"/><rect x="454.0" y="1538.1" width="10.5" height="9.4" fill="none" stroke="#bbb" stroke-width="0.5"/><line x1="293.4" y1="1398.7" x2="320.4" y2="1425.6" stroke="#2a2a2a" stroke-width="2.4"/><line x1="295.8" y1="1397.5" x2="322.7" y2="1424.5" stroke="#999" stroke-width="0.5"/><rect x="281.7" y="1425.6" width="11.7" height="10.5" fill="#aaa" stroke="#333" stroke-width="0.6"/><rect x="274.7" y="1514.7" width="11.7" height="10.5" fill="#777" stroke="#222" stroke-width="0.6" transform="rotate(25 280.5 1520.1)"/><line x1="270.0" y1="1387.4" x2="466.9" y2="1387.4" stroke="#2a2a2a" stroke-width="0.8"/><line x1="270.0" y1="1572.6" x2="466.9" y2="1572.6" stroke="#2a2a2a" stroke-width="0.8"/><circle cx="461.0" cy="1391.2" r="2.1" fill="none" stroke="#ccc" stroke-width="0.8"/><circle cx="461.0" cy="1569.3" r="2.1" fill="none" stroke="#ccc" stroke-width="0.8"/></g><polygon points="74.1,1431.5 119.8,1386.5 464.5,1385.8 468.0,1389.3 468.0,1570.9 464.5,1574.0 119.8,1573.3 74.1,1529.9" fill="none" stroke="#2a2a2a" stroke-width=".8"/><rect x="583.1" y="625.2" width="70.8" height="2.8" fill="#555" stroke="#333" stroke-width="0.4"/><rect x="632.8" y="624.2" width="21.1" height="5.2" fill="#444"/><rect x="653.9" y="620.0" width="15.2" height="20.4" fill="#6a6a6a" stroke="#333" stroke-width="0.6"/><rect x="669.1" y="625.2" width="17.6" height="11.7" fill="#808080" stroke="#333" stroke-width="0.6"/><polygon points="680.9,620.5 708.0,620.0 708.0,631.7 702.7,632.7 702.7,651.4 686.2,651.4 686.2,634.5 680.9,633.4" fill="#6e6e6e" stroke="#333" stroke-width="0.6"/><rect x="684.4" y="621.6" width="21.1" height="8.2" fill="#5a5a5a"/><polyline points="624.6,632.7 631.6,632.7 631.6,628.7" fill="none" stroke="#333" stroke-width="1"/><line x1="678.5" y1="636.9" x2="684.4" y2="648.6" stroke="#444" stroke-width="0.8"/><rect x="580.8" y="655.2" width="10.5" height="19.2" rx="2" fill="#2f2f2f" stroke="#1c1c1c" stroke-width="0.6"/><rect x="581.2" y="674.4" width="11.7" height="14.1" fill="#3a3a3a"/><rect x="568.4" y="680.2" width="10.1" height="11.0" fill="#3c3c3c" stroke="#222" stroke-width="0.6"/><rect x="765.5" y="601.7" width="26.5" height="25.8" fill="#7d7d7d" stroke="#333" stroke-width="0.6"/><rect x="773.7" y="607.6" width="11.7" height="32.8" rx="8" fill="#9a9a9a" stroke="#444" stroke-width="0.6"/><rect x="762.0" y="640.4" width="24.6" height="14.1" fill="#8a8a8a" stroke="#444" stroke-width="0.6"/><rect x="806.6" y="645.8" width="37.5" height="8.7" fill="#555" stroke="#333" stroke-width="0.6"/><line x1="841.7" y1="635.7" x2="839.4" y2="647.4" stroke="#222" stroke-width="1.6"/><line x1="861.6" y1="646.2" x2="861.6" y2="655.6" stroke="#222" stroke-width="1.6"/><rect x="703.4" y="646.2" width="42.2" height="8.2" fill="#4a4a4a" stroke="#333" stroke-width="0.6"/><polygon points="910.8,661.5 921.1,657.5 933.3,651.4 938.4,667.8 930.5,674.8 910.8,676.5" fill="#4f4f4f" stroke="#222" stroke-width="0.6"/><circle cx="919.2" cy="660.3" r="2.1" fill="#ddd" stroke="#333" stroke-width="0.6"/><rect x="920.2" y="676.0" width="16.9" height="12.7" fill="#808080" stroke="#444" stroke-width="0.6"/><polygon points="916.9,693.6 936.6,700.2 930.5,721.7 918.8,724.3 912.2,711.9" fill="#6a6a6a" stroke="#333" stroke-width="0.6"/><line x1="916.4" y1="702.5" x2="934.0" y2="708.4" stroke="#444" stroke-width="0.5"/><line x1="914.5" y1="710.7" x2="932.3" y2="716.6" stroke="#444" stroke-width="0.5"/><polyline points="903.5,727.6 912.2,740.0 902.3,744.7 900.5,751.7" fill="none" stroke="#222" stroke-width="1.4"/><line x1="886.2" y1="751.7" x2="888.1" y2="772.8" stroke="#333" stroke-width="0.8"/><polyline points="525.0,728.3 530.9,730.6 527.3,740.0 533.2,744.7" fill="none" stroke="#444" stroke-width="1.2"/><polygon points="564.8,744.7 571.9,721.2 595.3,695.5 632.8,693.1 651.6,711.9 659.8,730.6 659.8,756.4 564.8,756.4" fill="#343434"/><polygon points="783.0,756.4 786.3,730.6 801.6,704.8 822.7,694.3 848.4,696.6 867.2,714.2 881.5,744.7 886.2,754.1 886.2,761.1" fill="#343434"/><clipPath id="c6"><polygon points="528.5,702.5 562.5,691.2 581.2,689.6 590.6,681.9 609.4,656.1 630.5,652.1 675.0,651.4 760.8,656.8 783.0,654.5 811.2,648.6 844.0,653.3 881.5,660.3 914.3,665.5 919.5,668.5 919.5,683.8 915.2,702.5 907.0,721.2 899.1,740.0 886.2,754.1 881.5,744.7 867.2,714.2 848.4,696.6 822.7,694.3 801.6,704.8 786.3,730.6 783.0,756.4 659.8,756.4 659.8,730.6 651.6,711.9 632.8,693.1 595.3,695.5 571.9,721.2 564.8,744.7 548.4,736.5 529.7,728.3"/></clipPath><g clip-path="url(#c6)"><rect x="520.3" y="636.9" width="421.9" height="131.2" fill="#777"/><path d="M520.3,700.2C527.3,695.7 549.2,691.8 562.5,689.6C575.8,687.5 593.8,686.3 600.0,687.3C606.2,688.2 603.1,692.1 600.0,695.5C596.9,698.8 587.5,704.5 581.2,707.2C575.0,709.9 569.5,710.1 562.5,711.9C555.5,713.6 546.1,717.0 539.1,717.7C532.0,718.5 523.4,719.5 520.3,716.6C517.2,713.6 513.3,704.6 520.3,700.2Z" fill="#424242"/><path d="M520.3,717.7C523.4,715.7 532.0,719.3 539.1,718.4C546.1,717.6 556.2,714.1 562.5,712.6C568.8,711.1 575.0,707.9 576.6,709.5C578.1,711.2 574.6,718.9 571.9,722.4C569.1,725.9 568.8,729.3 560.2,730.6C551.6,732.0 527.0,732.8 520.3,730.6C513.7,728.5 517.2,719.8 520.3,717.7Z" fill="#9c9c9c"/><path d="M520.3,730.6C527.0,728.4 552.3,728.8 560.2,731.1C568.0,733.4 573.8,742.4 567.2,744.7C560.5,747.0 528.1,747.0 520.3,744.7C512.5,742.3 513.7,732.9 520.3,730.6Z" fill="#6a6a6a"/><path d="M651.6,690.8C653.9,688.4 664.8,691.6 670.3,693.1C675.8,694.7 681.6,695.5 684.4,700.2C687.1,704.8 687.1,714.6 686.7,721.2C686.3,727.9 685.2,735.7 682.0,740.0C678.9,744.3 671.7,747.0 668.0,747.0C664.3,747.0 660.9,744.3 659.8,740.0C658.6,735.7 661.5,726.7 660.9,721.2C660.4,715.8 657.8,712.3 656.2,707.2C654.7,702.1 649.2,693.1 651.6,690.8Z" fill="#424242"/><path d="M677.6,679.1C681.6,676.9 699.9,678.7 708.1,680.2C716.3,681.8 723.2,683.9 726.9,688.4C730.6,692.9 730.4,700.9 730.4,707.2C730.4,713.4 729.4,720.5 726.9,725.9C724.3,731.4 719.1,734.5 715.1,740.0C711.2,745.5 710.5,755.6 703.4,758.8C696.4,761.9 677.3,763.4 673.0,758.8C668.7,754.1 675.3,738.4 677.6,730.6C680.0,722.8 685.9,718.1 687.0,711.9C688.2,705.6 686.2,698.6 684.7,693.1C683.1,687.7 673.7,681.2 677.6,679.1Z" fill="#8b8b8b"/><path d="M665.9,688.4C668.7,680.6 678.6,689.2 682.3,693.1C686.0,697.0 688.6,705.2 688.2,711.9C687.8,718.5 683.7,728.3 680.0,733.0C676.3,737.7 668.3,747.4 665.9,740.0C663.6,732.6 663.2,696.2 665.9,688.4Z" fill="#424242"/><path d="M698.7,645.1C705.8,642.3 739.3,642.9 746.8,645.1C754.3,647.3 746.9,655.7 743.7,658.4C740.6,661.2 728.2,659.4 728.0,661.5C727.9,663.6 740.0,666.0 742.8,670.9C745.7,675.7 742.5,685.9 745.1,690.8C747.8,695.7 753.9,697.4 758.5,700.2C763.1,702.9 767.1,704.8 772.6,707.2C778.0,709.5 789.2,709.5 791.3,714.2C793.5,718.9 786.8,727.9 785.5,735.3C784.1,742.7 784.7,758.0 783.1,758.8C781.6,759.5 777.8,746.1 776.1,740.0C774.3,733.9 776.9,725.1 772.6,722.4C768.3,719.8 757.7,724.3 750.3,724.1C742.9,723.9 732.2,724.1 728.0,721.2C723.9,718.4 724.8,712.5 725.2,707.2C725.6,701.9 730.7,694.3 730.4,689.6C730.1,684.9 727.6,683.8 723.4,679.1C719.1,674.4 708.7,667.1 704.6,661.5C700.5,655.8 691.7,647.8 698.7,645.1Z" fill="#424242"/><path d="M811.2,645.1C815.9,643.3 832.3,647.6 844.1,649.8C855.8,651.9 880.6,654.6 881.6,658.0C882.5,661.4 856.6,665.9 849.9,670.2C843.3,674.5 841.8,679.8 841.7,683.8C841.6,687.7 843.3,690.9 849.2,693.6C855.1,696.3 870.3,697.1 877.3,700.2C884.4,703.2 887.1,711.4 891.4,711.9C895.7,712.3 898.1,704.9 903.1,703.0C908.1,701.0 918.4,691.6 921.4,700.2C924.4,708.7 926.5,745.1 921.4,754.1C916.3,763.0 897.5,756.4 890.9,754.1C884.4,751.7 885.1,745.5 882.0,740.0C879.0,734.5 875.8,727.1 872.6,721.2C869.5,715.4 868.0,709.5 863.3,704.8C858.6,700.2 851.6,695.1 844.5,693.1C837.5,691.2 825.5,694.7 821.1,693.1C816.7,691.6 817.5,687.7 818.3,683.8C819.1,679.8 826.1,673.6 825.8,669.7C825.5,665.8 818.8,664.4 816.4,660.3C814.0,656.2 806.6,646.8 811.2,645.1Z" fill="#424242"/><path d="M842.2,680.2C843.0,677.1 843.0,672.8 849.2,670.2C855.4,667.5 867.2,664.8 879.2,664.5C891.2,664.3 914.4,663.9 921.4,668.5C928.4,673.1 926.5,687.8 921.4,692.0C916.3,696.1 901.5,693.3 890.9,693.6C880.4,693.9 865.9,694.4 858.1,693.6C850.4,692.8 847.2,691.1 844.5,688.9C841.9,686.7 841.4,683.4 842.2,680.2Z" fill="#9a9a9a"/></g><polygon points="528.5,702.5 562.5,691.2 581.2,689.6 590.6,681.9 609.4,656.1 630.5,652.1 675.0,651.4 760.8,656.8 783.0,654.5 811.2,648.6 844.0,653.3 881.5,660.3 914.3,665.5 919.5,668.5 919.5,683.8 915.2,702.5 907.0,721.2 899.1,740.0 886.2,754.1 881.5,744.7 867.2,714.2 848.4,696.6 822.7,694.3 801.6,704.8 786.3,730.6 783.0,756.4 659.8,756.4 659.8,730.6 651.6,711.9 632.8,693.1 595.3,695.5 571.9,721.2 564.8,744.7 548.4,736.5 529.7,728.3" fill="none" stroke="#2a2a2a" stroke-width="0.7"/><polygon points="611.7,661.5 660.9,661.5 644.5,682.6 596.5,680.2" fill="#b2b2b2" stroke="#333" stroke-width="0.8"/><polygon points="671.5,666.2 755.0,665.5 755.0,673.9 664.5,674.4" fill="#b8b8b8" stroke="#444" stroke-width="0.6"/><line x1="609.4" y1="656.1" x2="675.0" y2="658.0" stroke="#333" stroke-width="0.5"/><polyline points="675.0,651.4 646.9,688.4 659.8,716.6" fill="none" stroke="#333" stroke-width="0.7"/><line x1="590.6" y1="688.4" x2="646.9" y2="688.4" stroke="#333" stroke-width="0.6"/><rect x="575.9" y="694.3" width="9.6" height="3.5" rx="2" fill="#eee" stroke="#555" stroke-width="0.6"/><rect x="576.6" y="699.7" width="7.0" height="2.3" fill="#ccc"/><line x1="680.0" y1="658.0" x2="914.4" y2="658.0" stroke="#333" stroke-width="0.5"/><rect x="760.9" y="658.4" width="157.0" height="33.5" fill="none" stroke="#3a3a3a" stroke-width="0.6"/><line x1="665.9" y1="679.1" x2="760.9" y2="679.1" stroke="#444" stroke-width="0.4"/><line x1="760.9" y1="693.1" x2="820.6" y2="693.1" stroke="#444" stroke-width="0.4"/><polygon points="673.0,679.1 719.8,680.2 729.2,693.1 729.2,730.6 710.5,751.7 673.0,751.7" fill="none" stroke="#3a3a3a" stroke-width="0.6"/><polygon points="705.3,716.6 715.1,701.3 722.6,716.6" fill="none" stroke="#444" stroke-width="0.7"/><rect x="742.8" y="703.7" width="28.1" height="6.3" fill="#151515"/><text x="745.6" y="709.1" font-size="5.6" fill="#fff" font-family="Liberation Sans, sans-serif" font-weight="bold">NL</text><rect x="826.5" y="692.7" width="8.2" height="4.2" fill="#ddd" stroke="#666" stroke-width="0.3"/><polyline points="784.3,755.2 785.5,730.6 800.7,706.0 819.4,695.0 844.1,695.9 865.1,713.0 879.2,742.3 884.4,754.1" fill="none" stroke="#999" stroke-width="1"/><circle cx="765.5" cy="666.2" r="1.1" fill="#3f3f3f"/><circle cx="787.8" cy="666.2" r="1.1" fill="#3f3f3f"/><circle cx="811.2" cy="666.2" r="1.1" fill="#3f3f3f"/><circle cx="833.5" cy="669.7" r="1.1" fill="#3f3f3f"/><circle cx="765.5" cy="687.3" r="1.1" fill="#3f3f3f"/><circle cx="787.8" cy="687.3" r="1.1" fill="#3f3f3f"/><circle cx="811.2" cy="687.3" r="1.1" fill="#3f3f3f"/><circle cx="833.5" cy="687.3" r="1.1" fill="#3f3f3f"/><circle cx="854.6" cy="687.3" r="1.1" fill="#3f3f3f"/><circle cx="876.9" cy="673.2" r="1.1" fill="#3f3f3f"/><circle cx="898.0" cy="674.4" r="1.1" fill="#3f3f3f"/><circle cx="898.0" cy="687.3" r="1.1" fill="#3f3f3f"/><circle cx="777.3" cy="698.3" r="1.1" fill="#3f3f3f"/><circle cx="797.2" cy="698.3" r="1.1" fill="#3f3f3f"/><circle cx="703.4" cy="682.6" r="1.1" fill="#3f3f3f"/><circle cx="703.4" cy="697.8" r="1.1" fill="#3f3f3f"/><circle cx="724.5" cy="697.8" r="1.1" fill="#3f3f3f"/><circle cx="703.4" cy="725.9" r="1.1" fill="#3f3f3f"/><circle cx="715.1" cy="725.9" r="1.1" fill="#3f3f3f"/><circle cx="736.2" cy="735.3" r="1.1" fill="#3f3f3f"/><circle cx="755.0" cy="735.3" r="1.1" fill="#3f3f3f"/><circle cx="776.1" cy="735.3" r="1.1" fill="#3f3f3f"/><circle cx="703.4" cy="751.7" r="1.1" fill="#3f3f3f"/><circle cx="755.0" cy="751.7" r="1.1" fill="#3f3f3f"/><circle cx="776.1" cy="751.7" r="1.1" fill="#3f3f3f"/><circle cx="668.0" cy="700.2" r="1.1" fill="#3f3f3f"/><circle cx="668.0" cy="751.7" r="1.1" fill="#3f3f3f"/><circle cx="614.1" cy="749.4" r="38.9" fill="#4b4b4b" stroke="#1e1e1e" stroke-width="1.1"/><path d="M651.2,753.9 L639.6,752.5 M649.1,762.6 L638.1,758.5 M644.9,770.6 L635.3,764.0 M638.9,777.4 L631.1,768.6 M631.5,782.5 L626.0,772.2 M623.1,785.7 L620.2,774.4 M614.1,786.8 L614.1,775.1 M605.1,785.7 L607.9,774.4 M596.7,782.5 L602.1,772.2 M589.3,777.4 L597.0,768.7 M583.3,770.7 L592.9,764.0 M579.1,762.7 L590.0,758.5 M576.9,753.9 L588.5,752.5 M576.9,744.9 L588.5,746.3 M579.0,736.1 L590.0,740.3 M583.2,728.1 L592.9,734.8 M589.2,721.4 L597.0,730.1 M596.6,716.2 L602.1,726.6 M605.1,713.0 L607.9,724.4 M614.0,711.9 L614.0,723.6 M623.0,713.0 L620.2,724.4 M631.4,716.2 L626.0,726.6 M638.9,721.3 L631.1,730.1 M644.9,728.1 L635.2,734.7 M649.1,736.1 L638.1,740.2 M651.2,744.8 L639.6,746.3 " stroke="#5e5e5e" stroke-width=".9" fill="none"/><path d="M652.5,751.3 L636.8,750.5 M650.9,760.4 L635.8,755.9 M647.2,768.9 L633.6,760.9 M641.5,776.3 L630.3,765.3 M634.3,782.1 L626.0,768.7 M625.9,786.0 L621.1,771.0 M616.8,787.7 L615.7,772.1 M607.5,787.3 L610.2,771.8 M598.7,784.6 L604.9,770.2 M590.7,779.9 L600.2,767.4 M584.1,773.4 L596.3,763.6 M579.2,765.5 L593.4,758.9 M576.3,756.7 L591.7,753.7 M575.7,747.5 L591.4,748.2 M577.2,738.3 L592.3,742.8 M581.0,729.8 L594.5,737.8 M586.6,722.5 L597.8,733.5 M593.8,716.7 L602.1,730.0 M602.2,712.8 L607.1,727.7 M611.3,711.0 L612.5,726.7 M620.6,711.5 L617.9,727.0 M629.5,714.2 L623.2,728.5 M637.5,718.9 L627.9,731.3 M644.1,725.4 L631.8,735.2 M648.9,733.2 L634.7,739.8 M651.8,742.1 L636.4,745.0 " stroke="#2a2a2a" stroke-width=".8" fill="none"/><circle cx="614.1" cy="749.4" r="33.8" fill="none" stroke="#333" stroke-width="0.6"/><circle cx="614.1" cy="749.4" r="22.5" fill="#3e3e3e" stroke="#262626" stroke-width="0.5"/><circle cx="614.1" cy="749.4" r="20.4" fill="#888" stroke="#2a2a2a" stroke-width="0.7"/><circle cx="614.1" cy="749.4" r="17.1" fill="none" stroke="#666" stroke-width="0.6"/><circle cx="627.7" cy="753.6" r="1.9" fill="#565656" stroke="#444" stroke-width="0.3"/><circle cx="622.6" cy="760.8" r="1.9" fill="#565656" stroke="#444" stroke-width="0.3"/><circle cx="614.3" cy="763.7" r="1.9" fill="#565656" stroke="#444" stroke-width="0.3"/><circle cx="605.8" cy="761.1" r="1.9" fill="#565656" stroke="#444" stroke-width="0.3"/><circle cx="600.5" cy="754.0" r="1.9" fill="#565656" stroke="#444" stroke-width="0.3"/><circle cx="600.4" cy="745.1" r="1.9" fill="#565656" stroke="#444" stroke-width="0.3"/><circle cx="605.5" cy="737.9" r="1.9" fill="#565656" stroke="#444" stroke-width="0.3"/><circle cx="613.9" cy="735.1" r="1.9" fill="#565656" stroke="#444" stroke-width="0.3"/><circle cx="622.3" cy="737.7" r="1.9" fill="#565656" stroke="#444" stroke-width="0.3"/><circle cx="627.6" cy="744.8" r="1.9" fill="#565656" stroke="#444" stroke-width="0.3"/><circle cx="614.1" cy="749.4" r="6.3" fill="#7c7c7c" stroke="#4a4a4a" stroke-width="0.6"/><circle cx="614.1" cy="749.4" r="3.0" fill="#6a6a6a" stroke="#444" stroke-width="0.4"/><circle cx="833.5" cy="749.4" r="38.9" fill="#4b4b4b" stroke="#1e1e1e" stroke-width="1.1"/><path d="M870.7,753.9 L859.1,752.5 M868.5,762.6 L857.6,758.5 M864.3,770.6 L854.7,764.0 M858.4,777.4 L850.6,768.6 M850.9,782.5 L845.5,772.2 M842.5,785.7 L839.7,774.4 M833.5,786.8 L833.5,775.1 M824.6,785.7 L827.4,774.4 M816.1,782.5 L821.6,772.2 M808.7,777.4 L816.5,768.7 M802.7,770.7 L812.3,764.0 M798.5,762.7 L809.5,758.5 M796.3,753.9 L808.0,752.5 M796.3,744.9 L808.0,746.3 M798.5,736.1 L809.4,740.3 M802.7,728.1 L812.3,734.8 M808.7,721.4 L816.4,730.1 M816.1,716.2 L821.5,726.6 M824.5,713.0 L827.3,724.4 M833.5,711.9 L833.5,723.6 M842.4,713.0 L839.6,724.4 M850.9,716.2 L845.4,726.6 M858.3,721.3 L850.6,730.1 M864.3,728.1 L854.7,734.7 M868.5,736.1 L857.6,740.2 M870.7,744.8 L859.1,746.3 " stroke="#5e5e5e" stroke-width=".9" fill="none"/><path d="M871.9,751.3 L856.2,750.5 M870.3,760.4 L855.3,755.9 M866.6,768.9 L853.1,760.9 M861.0,776.3 L849.7,765.3 M853.7,782.1 L845.5,768.7 M845.3,786.0 L840.5,771.0 M836.2,787.7 L835.1,772.1 M827.0,787.3 L829.6,771.8 M818.1,784.6 L824.4,770.2 M810.1,779.9 L819.7,767.4 M803.5,773.4 L815.8,763.6 M798.6,765.5 L812.9,758.9 M795.8,756.7 L811.2,753.7 M795.1,747.5 L810.8,748.2 M796.7,738.3 L811.7,742.8 M800.4,729.8 L813.9,737.8 M806.0,722.5 L817.3,733.5 M813.3,716.7 L821.5,730.0 M821.7,712.8 L826.5,727.7 M830.8,711.0 L831.9,726.7 M840.0,711.5 L837.4,727.0 M848.9,714.2 L842.6,728.5 M856.9,718.9 L847.3,731.3 M863.5,725.4 L851.3,735.2 M868.4,733.2 L854.1,739.8 M871.2,742.1 L855.8,745.0 " stroke="#2a2a2a" stroke-width=".8" fill="none"/><circle cx="833.5" cy="749.4" r="33.8" fill="none" stroke="#333" stroke-width="0.6"/><circle cx="833.5" cy="749.4" r="22.5" fill="#3e3e3e" stroke="#262626" stroke-width="0.5"/><circle cx="833.5" cy="749.4" r="20.4" fill="#888" stroke="#2a2a2a" stroke-width="0.7"/><circle cx="833.5" cy="749.4" r="17.1" fill="none" stroke="#666" stroke-width="0.6"/><circle cx="847.2" cy="753.6" r="1.9" fill="#565656" stroke="#444" stroke-width="0.3"/><circle cx="842.1" cy="760.8" r="1.9" fill="#565656" stroke="#444" stroke-width="0.3"/><circle cx="833.7" cy="763.7" r="1.9" fill="#565656" stroke="#444" stroke-width="0.3"/><circle cx="825.3" cy="761.1" r="1.9" fill="#565656" stroke="#444" stroke-width="0.3"/><circle cx="820.0" cy="754.0" r="1.9" fill="#565656" stroke="#444" stroke-width="0.3"/><circle cx="819.8" cy="745.1" r="1.9" fill="#565656" stroke="#444" stroke-width="0.3"/><circle cx="824.9" cy="737.9" r="1.9" fill="#565656" stroke="#444" stroke-width="0.3"/><circle cx="833.3" cy="735.1" r="1.9" fill="#565656" stroke="#444" stroke-width="0.3"/><circle cx="841.7" cy="737.7" r="1.9" fill="#565656" stroke="#444" stroke-width="0.3"/><circle cx="847.0" cy="744.8" r="1.9" fill="#565656" stroke="#444" stroke-width="0.3"/><circle cx="833.5" cy="749.4" r="6.3" fill="#7c7c7c" stroke="#4a4a4a" stroke-width="0.6"/><circle cx="833.5" cy="749.4" r="3.0" fill="#6a6a6a" stroke="#444" stroke-width="0.4"/><rect x="216.7" y="725.8" width="26.2" height="25.3" fill="#7a7a7a" stroke="#333" stroke-width="0.6"/><rect x="222.8" y="751.1" width="19.2" height="23.2" fill="#909090" stroke="#444" stroke-width="0.6"/><rect x="222.8" y="764.9" width="24.8" height="11.7" fill="#888" stroke="#444" stroke-width="0.6"/><rect x="263.1" y="769.6" width="63.4" height="8.2" fill="#3a3a3a" stroke="#222" stroke-width="0.6"/><rect x="176.9" y="769.6" width="25.8" height="9.4" fill="#8a8a8a" stroke="#444" stroke-width="0.6"/><line x1="167.0" y1="759.1" x2="171.0" y2="770.8" stroke="#333" stroke-width="1.6"/><rect x="145.9" y="769.6" width="3.3" height="10.5" rx="3" fill="#777" stroke="#333" stroke-width="0.6"/><polyline points="194.5,776.6 200.3,773.6 203.8,780.2" fill="none" stroke="#aaa" stroke-width="2"/><rect x="300.8" y="743.8" width="44.5" height="11.7" fill="#606060" stroke="#333" stroke-width="0.6"/><rect x="345.3" y="748.3" width="79.7" height="2.8" fill="#555" stroke="#333" stroke-width="0.4"/><rect x="345.3" y="746.9" width="28.1" height="5.6" fill="#4a4a4a"/><rect x="310.2" y="754.4" width="15.2" height="20.6" fill="#5a5a5a" stroke="#333" stroke-width="0.6"/><polyline points="378.1,751.6 378.1,757.2 385.2,757.2" fill="none" stroke="#333" stroke-width="1"/><rect x="341.8" y="759.1" width="12.9" height="5.9" fill="none" stroke="#444" stroke-width="0.8"/><rect x="418.0" y="779.0" width="10.5" height="21.1" rx="2" fill="#3a3a3a" stroke="#1c1c1c" stroke-width="0.6"/><rect x="415.6" y="800.1" width="11.7" height="11.7" fill="#444"/><rect x="431.6" y="805.5" width="9.4" height="8.7" fill="#3a3a3a" stroke="#222" stroke-width="0.6"/><polygon points="71.4,791.9 82.0,780.2 97.2,787.2 90.2,791.9 90.2,810.6 73.8,811.8 73.8,798.9" fill="#2d2d2d" stroke="#1a1a1a" stroke-width="0.6"/><polygon points="73.8,820.0 80.8,817.7 101.9,838.8 99.5,848.1 85.5,845.8" fill="#555" stroke="#222" stroke-width="0.6"/><polyline points="97.2,855.2 105.4,862.2 104.2,869.2 108.4,869.2 108.4,875.1" fill="none" stroke="#222" stroke-width="1.3"/><line x1="123.4" y1="876.2" x2="121.1" y2="897.3" stroke="#333" stroke-width="0.8"/><polyline points="476.6,851.6 484.8,852.8 483.6,864.5 476.6,868.0" fill="none" stroke="#666" stroke-width="1.3"/><polygon points="123.0,873.4 130.0,855.2 141.7,831.7 160.5,817.7 195.6,820.0 214.4,834.1 222.6,855.2 223.8,880.5 125.3,880.5" fill="#343434"/><polygon points="348.8,880.2 348.8,848.1 357.0,834.1 378.1,818.8 415.6,821.2 436.7,838.8 443.8,855.2 436.7,876.7 434.4,880.2" fill="#343434"/><clipPath id="c7"><polygon points="90.2,790.7 106.6,784.8 167.5,778.3 223.8,775.5 249.5,777.3 249.5,775.0 333.6,776.2 343.0,775.0 396.9,779.0 415.6,798.9 425.0,810.6 443.8,814.1 481.3,825.9 481.7,848.1 478.9,850.9 448.4,869.7 436.7,876.7 443.8,855.2 436.7,838.8 415.6,821.2 378.1,818.8 357.0,834.1 348.8,848.1 348.8,880.2 223.8,880.5 222.6,855.2 214.4,834.1 195.6,820.0 160.5,817.7 141.7,831.7 130.0,855.2 123.0,873.4 113.6,864.5 101.9,838.8 92.5,817.7 89.7,803.6"/></clipPath><g clip-path="url(#c7)"><rect x="55.0" y="768.4" width="468.8" height="121.9" fill="#777"/><path d="M226.1,773.1C256.7,770.0 374.7,768.4 406.3,773.1C437.8,777.8 425.8,796.2 415.6,801.2C405.5,806.3 360.9,803.8 345.3,803.6C329.7,803.4 335.1,798.1 321.9,800.1C308.7,802.0 279.6,813.1 265.9,815.3C252.3,817.5 245.6,815.4 240.2,813.4C234.7,811.5 236.0,807.2 233.1,803.6C230.2,800.0 224.0,797.0 222.8,791.9C221.6,786.8 195.5,776.2 226.1,773.1Z" fill="#6c6c6c"/><path d="M261.2,770.8C272.3,768.0 316.7,767.9 327.7,770.8C338.8,773.7 332.6,784.8 327.7,788.4C322.9,791.9 309.5,792.1 298.4,791.9C287.4,791.7 267.4,790.7 261.2,787.2C255.1,783.7 250.2,773.5 261.2,770.8Z" fill="#555"/><path d="M222.6,777.8C228.7,772.5 246.9,774.3 257.0,775.5C267.2,776.6 279.1,779.5 283.5,784.8C287.9,790.2 284.4,800.7 283.5,807.3C282.7,814.0 282.8,821.1 278.4,824.7C273.9,828.3 262.7,826.1 257.0,828.9C251.3,831.8 249.2,841.8 244.1,841.8C239.1,841.8 230.7,834.6 226.8,828.9C222.9,823.2 221.2,815.9 220.5,807.3C219.8,798.8 216.5,783.1 222.6,777.8Z" fill="#424242"/><path d="M132.3,782.5C147.0,779.6 208.7,773.4 223.8,775.0C238.8,776.6 221.2,787.1 222.8,791.9C224.4,796.6 230.2,800.1 233.1,803.6C236.1,807.1 243.0,810.5 240.6,813.0C238.3,815.4 226.2,818.0 219.1,818.1C212.0,818.2 205.8,815.0 198.0,813.4C190.2,811.9 180.4,810.3 172.2,808.8C164.0,807.2 154.8,806.8 148.8,804.1C142.7,801.3 138.6,795.9 135.9,792.3C133.1,788.8 117.7,785.4 132.3,782.5Z" fill="#969696"/><path d="M85.5,788.4C93.3,784.5 124.1,781.9 132.3,782.5C140.6,783.1 132.4,788.4 135.2,791.9C137.9,795.4 142.6,800.9 148.8,803.6C154.9,806.3 169.1,806.2 172.2,808.3C175.3,810.3 171.4,814.5 167.5,815.8C163.6,817.0 154.6,816.2 148.8,815.8C142.9,815.4 138.2,813.4 132.3,813.4C126.5,813.4 120.6,814.6 113.6,815.8C106.6,817.0 94.8,822.1 90.2,820.5C85.5,818.8 86.2,811.3 85.5,805.9C84.7,800.6 77.7,792.3 85.5,788.4Z" fill="#424242"/><path d="M90.2,818.1C90.2,817.4 106.6,816.1 113.6,815.3C120.6,814.5 127.9,813.0 132.3,813.4C136.8,813.9 137.0,816.6 140.5,818.1C144.1,819.6 148.9,822.6 153.4,822.3C157.9,822.1 160.5,818.0 167.5,816.5C174.5,815.0 187.0,813.2 195.6,813.4C204.2,813.7 211.6,818.1 219.1,818.1C226.6,818.1 232.8,813.9 240.6,813.4C248.4,813.0 259.8,815.2 265.9,815.3C272.1,815.4 277.5,812.6 277.7,814.1C277.9,815.7 272.1,820.6 267.1,824.7C262.1,828.8 252.5,834.8 247.7,838.8C242.9,842.7 239.5,844.6 238.3,848.1C237.1,851.6 241.4,855.9 240.6,859.8C239.8,863.8 236.1,867.7 233.6,871.6C231.1,875.5 228.0,881.3 225.6,883.3C223.2,885.2 219.3,888.0 219.1,883.3C218.8,878.6 224.6,863.4 224.2,855.2C223.8,847.0 221.5,840.1 216.7,834.1C212.0,828.0 205.0,821.8 195.6,818.8C186.2,815.9 169.5,814.5 160.5,816.5C151.5,818.4 146.4,826.1 141.7,830.5C137.0,835.0 133.3,844.4 132.3,843.4C131.4,842.5 139.0,828.7 135.9,824.7C132.7,820.7 121.2,820.6 113.6,819.5C106.0,818.4 90.2,818.8 90.2,818.1Z" fill="#424242"/><path d="M92.5,822.3C94.5,818.0 106.6,818.8 113.6,817.7C120.6,816.6 130.1,814.9 134.7,815.8C139.3,816.6 141.4,819.0 141.2,822.8C141.1,826.6 136.2,833.4 133.5,838.8C130.9,844.1 128.4,851.1 125.3,855.2C122.2,859.3 118.7,865.3 114.8,863.4C110.9,861.4 105.6,850.3 101.9,843.4C98.2,836.6 90.5,826.6 92.5,822.3Z" fill="#8f8f8f"/><path d="M240.6,813.4C243.8,811.1 260.9,824.5 267.1,824.7C273.4,824.9 274.0,816.6 278.1,814.6C282.2,812.7 288.3,812.9 291.7,813.0C295.1,813.1 297.3,803.6 298.4,815.3C299.6,827.0 309.3,872.0 298.4,883.3C287.6,894.6 243.9,885.2 233.1,883.3C222.4,881.3 232.7,875.5 234.1,871.6C235.4,867.7 240.3,863.8 241.1,859.8C241.9,855.9 237.6,851.6 238.8,848.1C239.9,844.6 247.8,844.5 248.1,838.8C248.4,833.0 237.5,815.8 240.6,813.4Z" fill="#8a8a8a"/><path d="M279.7,803.6C290.6,790.3 331.3,801.6 345.3,803.6C359.4,805.5 363.5,809.5 364.1,815.3C364.7,821.2 351.4,827.4 348.8,838.8C346.3,850.1 360.4,875.9 348.8,883.3C337.3,890.7 291.2,896.6 279.7,883.3C268.2,870.0 268.8,816.9 279.7,803.6Z" fill="#838383"/><path d="M283.9,845.8C286.3,842.5 292.1,836.4 298.4,833.6C304.8,830.8 314.8,828.0 321.9,828.9C329.0,829.8 336.3,835.5 341.1,838.8C345.9,842.0 349.0,840.7 350.5,848.1C352.0,855.5 353.5,877.4 350.0,883.3C346.5,889.1 333.1,885.6 329.4,883.3C325.7,880.9 329.2,873.5 328.0,869.2C326.7,864.9 324.9,859.8 321.9,857.5C318.9,855.2 314.9,855.1 310.2,855.2C305.5,855.2 298.1,858.3 293.8,858.0C289.5,857.7 286.0,855.3 284.4,853.3C282.7,851.2 281.6,849.1 283.9,845.8Z" fill="#424242"/><path d="M406.3,798.9C410.2,797.9 418.8,807.1 425.0,809.5C431.3,811.8 433.6,810.2 443.8,813.0C453.9,815.7 478.9,820.4 485.9,825.9C493.0,831.3 489.9,843.6 485.9,845.8C482.0,847.9 469.0,838.8 462.5,838.8C456.1,838.8 451.2,845.8 447.3,845.8C443.4,845.8 444.3,843.0 439.1,838.8C433.8,834.5 421.9,823.9 415.6,820.0C409.4,816.1 403.1,818.8 401.6,815.3C400.0,811.8 402.4,799.9 406.3,798.9Z" fill="#4a4a4a"/><path d="M447.3,846.2C449.1,843.1 454.5,838.7 460.2,839.2C465.8,839.7 480.7,846.6 481.3,849.3C481.8,852.0 469.1,853.7 463.7,855.2C458.3,856.6 451.6,859.5 448.9,858.0C446.2,856.5 445.4,849.4 447.3,846.2Z" fill="#9a9a9a"/><path d="M439.1,848.1C441.0,844.8 444.2,857.4 448.4,858.7C452.7,859.9 458.7,857.1 464.4,855.6C470.0,854.1 479.4,849.8 482.4,849.8C485.4,849.7 488.1,851.3 482.4,855.2C476.8,859.0 456.1,868.8 448.4,872.7C440.8,876.6 438.3,882.7 436.7,878.6C435.2,874.5 437.1,851.4 439.1,848.1Z" fill="#6a6a6a"/></g><polygon points="90.2,790.7 106.6,784.8 167.5,778.3 223.8,775.5 249.5,777.3 249.5,775.0 333.6,776.2 343.0,775.0 396.9,779.0 415.6,798.9 425.0,810.6 443.8,814.1 481.3,825.9 481.7,848.1 478.9,850.9 448.4,869.7 436.7,876.7 443.8,855.2 436.7,838.8 415.6,821.2 378.1,818.8 357.0,834.1 348.8,848.1 348.8,880.2 223.8,880.5 222.6,855.2 214.4,834.1 195.6,820.0 160.5,817.7 141.7,831.7 130.0,855.2 123.0,873.4 113.6,864.5 101.9,838.8 92.5,817.7 89.7,803.6" fill="none" stroke="#2a2a2a" stroke-width="0.7"/><polygon points="347.7,786.0 396.9,785.3 412.1,803.6 367.6,806.4" fill="#b2b2b2" stroke="#333" stroke-width="0.8"/><rect x="255.4" y="789.1" width="75.9" height="8.7" fill="#b5b5b5" stroke="#444" stroke-width="0.5"/><polyline points="333.6,776.6 368.8,813.0 348.8,841.1" fill="none" stroke="#333" stroke-width="0.7"/><line x1="368.8" y1="813.0" x2="425.0" y2="811.1" stroke="#333" stroke-width="0.5"/><rect x="423.1" y="818.1" width="10.8" height="3.8" rx="2" fill="#eee" stroke="#555" stroke-width="0.6"/><rect x="425.0" y="824.2" width="7.0" height="2.3" fill="#ccc"/><rect x="249.1" y="804.1" width="28.6" height="5.6" fill="#151515"/><text x="251.9" y="809.0" font-size="5.6" fill="#fff" font-family="Liberation Sans, sans-serif" font-weight="bold">NL</text><rect x="171.5" y="816.5" width="12.0" height="4.0" fill="#ddd" stroke="#666" stroke-width="0.3"/><polyline points="124.4,871.6 131.2,854.0 142.9,832.2 160.9,818.8 195.6,820.7 213.4,834.5 221.4,855.2 222.8,879.8" fill="none" stroke="#999" stroke-width="1"/><line x1="90.2" y1="793.0" x2="223.8" y2="780.2" stroke="#333" stroke-width="0.5"/><line x1="92.5" y1="817.7" x2="223.8" y2="815.3" stroke="#444" stroke-width="0.3"/><line x1="225.6" y1="777.8" x2="225.6" y2="815.3" stroke="#444" stroke-width="0.5"/><polygon points="280.0,805.9 345.3,804.8 347.7,848.1 328.9,878.6 298.4,879.8 289.4,866.9 279.5,852.8" fill="none" stroke="#3a3a3a" stroke-width="0.6"/><line x1="337.1" y1="806.4" x2="337.1" y2="862.2" stroke="#444" stroke-width="0.6"/><rect x="328.9" y="806.4" width="14.1" height="5.4" fill="none" stroke="#555" stroke-width="0.5"/><rect x="469.5" y="827.0" width="4.7" height="12.9" fill="none" stroke="#333" stroke-width="0.6"/><circle cx="111.2" cy="797.7" r="1.1" fill="#3f3f3f"/><circle cx="132.3" cy="796.6" r="1.1" fill="#3f3f3f"/><circle cx="153.4" cy="794.2" r="1.1" fill="#3f3f3f"/><circle cx="176.9" cy="791.9" r="1.1" fill="#3f3f3f"/><circle cx="198.0" cy="789.5" r="1.1" fill="#3f3f3f"/><circle cx="219.1" cy="788.4" r="1.1" fill="#3f3f3f"/><circle cx="111.2" cy="811.8" r="1.1" fill="#3f3f3f"/><circle cx="132.3" cy="811.8" r="1.1" fill="#3f3f3f"/><circle cx="153.4" cy="811.8" r="1.1" fill="#3f3f3f"/><circle cx="176.9" cy="811.8" r="1.1" fill="#3f3f3f"/><circle cx="198.0" cy="811.8" r="1.1" fill="#3f3f3f"/><circle cx="219.1" cy="811.8" r="1.1" fill="#3f3f3f"/><circle cx="115.9" cy="835.2" r="1.1" fill="#3f3f3f"/><circle cx="254.2" cy="839.9" r="1.1" fill="#3f3f3f"/><circle cx="273.0" cy="839.9" r="1.1" fill="#3f3f3f"/><circle cx="254.2" cy="859.8" r="1.1" fill="#3f3f3f"/><circle cx="273.0" cy="859.8" r="1.1" fill="#3f3f3f"/><circle cx="254.2" cy="878.6" r="1.1" fill="#3f3f3f"/><circle cx="284.4" cy="822.3" r="1.1" fill="#3f3f3f"/><circle cx="305.5" cy="821.9" r="1.1" fill="#3f3f3f"/><circle cx="328.9" cy="821.9" r="1.1" fill="#3f3f3f"/><circle cx="284.4" cy="813.0" r="1.1" fill="#3f3f3f"/><circle cx="305.5" cy="812.5" r="1.1" fill="#3f3f3f"/><circle cx="305.5" cy="871.6" r="1.1" fill="#3f3f3f"/><circle cx="284.4" cy="838.8" r="1.1" fill="#3f3f3f"/><circle cx="235.5" cy="878.6" r="1.1" fill="#3f3f3f"/><circle cx="176.2" cy="873.4" r="39.4" fill="#4b4b4b" stroke="#1e1e1e" stroke-width="1.1"/><path d="M213.8,878.0 L201.7,876.5 M211.6,886.8 L200.2,882.5 M207.4,894.9 L197.4,888.0 M201.3,901.8 L193.3,892.7 M193.8,907.0 L188.2,896.2 M185.3,910.2 L182.4,898.4 M176.2,911.3 L176.2,899.2 M167.1,910.2 L170.0,898.4 M158.6,907.0 L164.2,896.2 M151.1,901.8 L159.1,892.7 M145.0,895.0 L155.0,888.1 M140.7,886.9 L152.1,882.6 M138.5,878.0 L150.6,876.6 M138.5,868.9 L150.6,870.4 M140.7,860.0 L152.1,864.3 M145.0,851.9 L155.0,858.8 M151.0,845.1 L159.1,854.2 M158.5,839.9 L164.2,850.7 M167.1,836.6 L170.0,848.5 M176.1,835.5 L176.2,847.7 M185.2,836.6 L182.3,848.4 M193.8,839.9 L188.1,850.6 M201.3,845.0 L193.2,854.2 M207.4,851.9 L197.3,858.8 M211.6,860.0 L200.2,864.3 M213.8,868.8 L201.7,870.3 " stroke="#5e5e5e" stroke-width=".9" fill="none"/><path d="M215.0,875.4 L198.9,874.6 M213.4,884.6 L197.9,880.0 M209.7,893.2 L195.7,885.0 M204.0,900.7 L192.4,889.3 M196.6,906.5 L188.1,892.8 M188.1,910.5 L183.2,895.1 M178.9,912.2 L177.8,896.1 M169.6,911.8 L172.3,895.8 M160.6,909.1 L167.1,894.3 M152.5,904.3 L162.3,891.5 M145.8,897.7 L158.4,887.6 M140.9,889.8 L155.5,883.0 M138.0,880.8 L153.9,877.8 M137.3,871.5 L153.5,872.3 M138.9,862.3 L154.4,866.9 M142.7,853.7 L156.6,861.9 M148.4,846.2 L159.9,857.5 M155.7,840.4 L164.2,854.1 M164.2,836.4 L169.2,851.8 M173.4,834.6 L174.6,850.8 M182.8,835.1 L180.0,851.0 M191.8,837.8 L185.3,852.6 M199.8,842.6 L190.0,855.4 M206.5,849.1 L193.9,859.2 M211.5,857.1 L196.8,863.9 M214.4,866.0 L198.5,869.1 " stroke="#2a2a2a" stroke-width=".8" fill="none"/><circle cx="176.2" cy="873.4" r="34.2" fill="none" stroke="#333" stroke-width="0.6"/><circle cx="176.2" cy="873.4" r="22.5" fill="#3e3e3e" stroke="#262626" stroke-width="0.5"/><circle cx="176.2" cy="873.4" r="20.4" fill="#888" stroke="#2a2a2a" stroke-width="0.7"/><circle cx="176.2" cy="873.4" r="17.1" fill="none" stroke="#666" stroke-width="0.6"/><circle cx="189.8" cy="877.7" r="1.9" fill="#565656" stroke="#444" stroke-width="0.3"/><circle cx="184.7" cy="884.9" r="1.9" fill="#565656" stroke="#444" stroke-width="0.3"/><circle cx="176.4" cy="887.7" r="1.9" fill="#565656" stroke="#444" stroke-width="0.3"/><circle cx="167.9" cy="885.1" r="1.9" fill="#565656" stroke="#444" stroke-width="0.3"/><circle cx="162.6" cy="878.0" r="1.9" fill="#565656" stroke="#444" stroke-width="0.3"/><circle cx="162.5" cy="869.2" r="1.9" fill="#565656" stroke="#444" stroke-width="0.3"/><circle cx="167.6" cy="862.0" r="1.9" fill="#565656" stroke="#444" stroke-width="0.3"/><circle cx="176.0" cy="859.1" r="1.9" fill="#565656" stroke="#444" stroke-width="0.3"/><circle cx="184.4" cy="861.8" r="1.9" fill="#565656" stroke="#444" stroke-width="0.3"/><circle cx="189.7" cy="868.8" r="1.9" fill="#565656" stroke="#444" stroke-width="0.3"/><circle cx="176.2" cy="873.4" r="6.3" fill="#7c7c7c" stroke="#4a4a4a" stroke-width="0.6"/><circle cx="176.2" cy="873.4" r="3.0" fill="#6a6a6a" stroke="#444" stroke-width="0.4"/><circle cx="395.7" cy="873.4" r="39.4" fill="#4b4b4b" stroke="#1e1e1e" stroke-width="1.1"/><path d="M433.3,878.0 L421.3,876.5 M431.2,886.8 L419.8,882.5 M426.9,894.9 L416.9,888.0 M420.9,901.8 L412.8,892.7 M413.4,907.0 L407.7,896.2 M404.8,910.2 L401.9,898.4 M395.7,911.3 L395.7,899.2 M386.7,910.2 L389.6,898.4 M378.1,907.0 L383.8,896.2 M370.6,901.8 L378.7,892.7 M364.5,895.0 L374.5,888.1 M360.3,886.9 L371.7,882.6 M358.1,878.0 L370.2,876.6 M358.1,868.9 L370.2,870.4 M360.3,860.0 L371.6,864.3 M364.5,851.9 L374.5,858.8 M370.6,845.1 L378.6,854.2 M378.1,839.9 L383.7,850.7 M386.6,836.6 L389.5,848.5 M395.7,835.5 L395.7,847.7 M404.8,836.6 L401.8,848.4 M413.3,839.9 L407.7,850.6 M420.8,845.0 L412.8,854.2 M426.9,851.9 L416.9,858.8 M431.1,860.0 L419.8,864.3 M433.3,868.8 L421.3,870.3 " stroke="#5e5e5e" stroke-width=".9" fill="none"/><path d="M434.6,875.4 L418.4,874.6 M433.0,884.6 L417.5,880.0 M429.2,893.2 L415.3,885.0 M423.5,900.7 L412.0,889.3 M416.2,906.5 L407.7,892.8 M407.7,910.5 L402.7,895.1 M398.5,912.2 L397.3,896.1 M389.1,911.8 L391.8,895.8 M380.1,909.1 L386.6,894.3 M372.0,904.3 L381.9,891.5 M365.3,897.7 L378.0,887.6 M360.4,889.8 L375.1,883.0 M357.5,880.8 L373.4,877.8 M356.9,871.5 L373.0,872.3 M358.4,862.3 L373.9,866.9 M362.2,853.7 L376.1,861.9 M367.9,846.2 L379.5,857.5 M375.2,840.4 L383.7,854.1 M383.7,836.4 L388.7,851.8 M393.0,834.6 L394.1,850.8 M402.3,835.1 L399.6,851.0 M411.3,837.8 L404.8,852.6 M419.4,842.6 L409.5,855.4 M426.1,849.1 L413.5,859.2 M431.0,857.1 L416.3,863.9 M433.9,866.0 L418.0,869.1 " stroke="#2a2a2a" stroke-width=".8" fill="none"/><circle cx="395.7" cy="873.4" r="34.2" fill="none" stroke="#333" stroke-width="0.6"/><circle cx="395.7" cy="873.4" r="22.5" fill="#3e3e3e" stroke="#262626" stroke-width="0.5"/><circle cx="395.7" cy="873.4" r="20.4" fill="#888" stroke="#2a2a2a" stroke-width="0.7"/><circle cx="395.7" cy="873.4" r="17.1" fill="none" stroke="#666" stroke-width="0.6"/><circle cx="409.4" cy="877.7" r="1.9" fill="#565656" stroke="#444" stroke-width="0.3"/><circle cx="404.3" cy="884.9" r="1.9" fill="#565656" stroke="#444" stroke-width="0.3"/><circle cx="395.9" cy="887.7" r="1.9" fill="#565656" stroke="#444" stroke-width="0.3"/><circle cx="387.5" cy="885.1" r="1.9" fill="#565656" stroke="#444" stroke-width="0.3"/><circle cx="382.2" cy="878.0" r="1.9" fill="#565656" stroke="#444" stroke-width="0.3"/><circle cx="382.1" cy="869.2" r="1.9" fill="#565656" stroke="#444" stroke-width="0.3"/><circle cx="387.1" cy="862.0" r="1.9" fill="#565656" stroke="#444" stroke-width="0.3"/><circle cx="395.5" cy="859.1" r="1.9" fill="#565656" stroke="#444" stroke-width="0.3"/><circle cx="403.9" cy="861.8" r="1.9" fill="#565656" stroke="#444" stroke-width="0.3"/><circle cx="409.2" cy="868.8" r="1.9" fill="#565656" stroke="#444" stroke-width="0.3"/><circle cx="395.7" cy="873.4" r="6.3" fill="#7c7c7c" stroke="#4a4a4a" stroke-width="0.6"/><circle cx="395.7" cy="873.4" r="3.0" fill="#6a6a6a" stroke="#444" stroke-width="0.4"/><rect x="670.7" y="1148.8" width="26.2" height="25.3" fill="#5c5c5c" stroke="#333" stroke-width="0.6"/><rect x="676.8" y="1174.1" width="19.2" height="23.2" fill="#686868" stroke="#444" stroke-width="0.6"/><rect x="676.8" y="1187.9" width="24.8" height="11.7" fill="#606060" stroke="#444" stroke-width="0.6"/><rect x="717.1" y="1192.6" width="63.4" height="8.2" fill="#3a3a3a" stroke="#222" stroke-width="0.6"/><rect x="630.9" y="1192.6" width="25.8" height="9.4" fill="#8a8a8a" stroke="#444" stroke-width="0.6"/><line x1="621.0" y1="1182.1" x2="625.0" y2="1193.8" stroke="#333" stroke-width="1.6"/><rect x="599.9" y="1192.6" width="3.3" height="10.5" rx="3" fill="#777" stroke="#333" stroke-width="0.6"/><polyline points="648.5,1199.6 654.3,1196.6 657.8,1203.2" fill="none" stroke="#aaa" stroke-width="2"/><rect x="754.8" y="1166.8" width="44.5" height="11.7" fill="#606060" stroke="#333" stroke-width="0.6"/><rect x="799.3" y="1171.3" width="79.7" height="2.8" fill="#555" stroke="#333" stroke-width="0.4"/><rect x="799.3" y="1169.9" width="28.1" height="5.6" fill="#4a4a4a"/><rect x="764.2" y="1177.4" width="15.2" height="20.6" fill="#5a5a5a" stroke="#333" stroke-width="0.6"/><polyline points="832.1,1174.6 832.1,1180.2 839.2,1180.2" fill="none" stroke="#333" stroke-width="1"/><rect x="795.8" y="1182.1" width="12.9" height="5.9" fill="none" stroke="#444" stroke-width="0.8"/><rect x="872.0" y="1202.0" width="10.5" height="21.1" rx="2" fill="#3a3a3a" stroke="#1c1c1c" stroke-width="0.6"/><rect x="869.6" y="1223.1" width="11.7" height="11.7" fill="#444"/><rect x="885.6" y="1228.5" width="9.4" height="8.7" fill="#3a3a3a" stroke="#222" stroke-width="0.6"/><polygon points="525.4,1214.9 536.0,1203.2 551.2,1210.2 544.2,1214.9 544.2,1233.6 527.8,1234.8 527.8,1221.9" fill="#2d2d2d" stroke="#1a1a1a" stroke-width="0.6"/><polygon points="527.8,1243.0 534.8,1240.7 555.9,1261.8 553.5,1271.1 539.5,1268.8" fill="#555" stroke="#222" stroke-width="0.6"/><polyline points="551.2,1278.2 559.4,1285.2 558.2,1292.2 562.4,1292.2 562.4,1298.1" fill="none" stroke="#222" stroke-width="1.3"/><line x1="577.4" y1="1299.2" x2="575.1" y2="1320.3" stroke="#333" stroke-width="0.8"/><polyline points="930.6,1274.6 938.8,1275.8 937.6,1287.5 930.6,1291.0" fill="none" stroke="#666" stroke-width="1.3"/><polygon points="577.0,1296.4 584.0,1278.2 595.7,1254.7 614.5,1240.7 649.6,1243.0 668.4,1257.1 676.6,1278.2 677.8,1303.5 579.3,1303.5" fill="#343434"/><polygon points="802.8,1303.2 802.8,1271.1 811.0,1257.1 832.1,1241.8 869.6,1244.2 890.7,1261.8 897.8,1278.2 890.7,1299.7 888.4,1303.2" fill="#343434"/><clipPath id="c8"><polygon points="544.2,1213.7 560.6,1207.8 621.5,1201.3 677.8,1198.5 703.5,1200.3 703.5,1198.0 787.6,1199.2 797.0,1198.0 850.9,1202.0 869.6,1221.9 879.0,1233.6 897.8,1237.1 935.3,1248.9 935.7,1271.1 932.9,1273.9 902.4,1292.7 890.7,1299.7 897.8,1278.2 890.7,1261.8 869.6,1244.2 832.1,1241.8 811.0,1257.1 802.8,1271.1 802.8,1303.2 677.8,1303.5 676.6,1278.2 668.4,1257.1 649.6,1243.0 614.5,1240.7 595.7,1254.7 584.0,1278.2 577.0,1296.4 567.6,1287.5 555.9,1261.8 546.5,1240.7 543.7,1226.6"/></clipPath><g clip-path="url(#c8)"><rect x="509.0" y="1191.4" width="468.8" height="121.9" fill="#767676"/><path d="M585.6,1202.5C592.1,1200.2 621.8,1195.2 629.0,1198.9C636.2,1202.6 633.1,1220.9 629.0,1224.7C624.9,1228.5 610.8,1223.7 604.4,1221.7C597.9,1219.6 593.5,1215.5 590.3,1212.3C587.2,1209.1 579.2,1204.7 585.6,1202.5Z" fill="#808080"/><path d="M520.0,1203.6C523.1,1200.9 546.6,1207.2 557.5,1207.1C568.5,1207.1 580.2,1202.4 585.6,1203.2C591.1,1203.9 587.2,1208.8 590.3,1211.8C593.5,1214.8 598.1,1219.2 604.4,1221.2C610.7,1223.2 624.3,1221.7 628.3,1224.0C632.3,1226.4 629.9,1232.1 628.3,1235.3C626.7,1238.4 622.9,1241.5 618.9,1242.8C614.9,1244.0 608.4,1243.9 604.4,1242.8C600.4,1241.6 599.7,1237.7 595.0,1235.7C590.3,1233.8 580.9,1231.4 576.3,1231.0C571.7,1230.7 569.7,1231.4 567.4,1233.4C565.0,1235.3 565.8,1241.1 562.2,1242.8C558.6,1244.4 549.7,1246.7 545.8,1243.5C541.9,1240.3 543.1,1230.2 538.8,1223.5C534.5,1216.9 516.9,1206.4 520.0,1203.6Z" fill="#424242"/><path d="M543.5,1244.2C545.0,1240.8 558.2,1245.0 562.2,1243.2C566.2,1241.5 565.0,1235.8 567.4,1233.9C569.7,1231.9 571.7,1231.1 576.3,1231.5C580.9,1231.9 591.6,1234.0 595.0,1236.2C598.4,1238.4 597.4,1240.9 596.7,1244.6C596.0,1248.4 592.9,1253.6 590.8,1258.7C588.6,1263.8 586.2,1269.6 583.8,1275.1C581.3,1280.6 579.5,1290.3 576.3,1291.5C573.1,1292.7 568.5,1286.8 564.5,1282.1C560.6,1277.5 556.3,1269.7 552.8,1263.4C549.3,1257.1 541.9,1247.5 543.5,1244.2Z" fill="#b6b6b6"/><path d="M628.3,1199.6C636.1,1193.1 667.6,1193.9 675.2,1195.9C682.8,1197.9 675.3,1207.6 673.8,1211.8C672.2,1216.0 668.3,1218.5 665.8,1221.2C663.3,1223.9 659.5,1224.6 658.8,1228.2C658.0,1231.8 663.1,1240.7 661.1,1242.8C659.1,1244.8 651.3,1240.4 646.6,1240.4C641.8,1240.4 635.6,1243.6 632.5,1242.8C629.5,1241.9 629.0,1242.5 628.3,1235.3C627.6,1228.1 620.5,1206.2 628.3,1199.6Z" fill="#b6b6b6"/><path d="M658.8,1228.2C659.6,1224.6 663.7,1223.9 666.3,1221.2C668.8,1218.5 672.0,1215.3 674.2,1211.8C676.5,1208.3 664.9,1202.5 679.9,1200.1C694.8,1197.8 749.8,1190.7 763.8,1197.8C777.8,1204.8 771.6,1234.4 763.8,1242.3C756.0,1250.2 727.4,1245.8 716.9,1245.1C706.4,1244.4 705.6,1239.6 701.0,1238.1C696.3,1236.5 692.3,1234.2 688.8,1235.7C685.2,1237.3 681.7,1242.8 679.9,1247.5C678.0,1252.1 677.6,1253.7 677.5,1263.4C677.4,1273.1 680.6,1298.5 679.4,1305.6C678.1,1312.6 670.7,1310.3 670.0,1305.6C669.3,1300.9 675.2,1285.3 675.2,1277.5C675.2,1269.6 672.4,1264.4 670.0,1258.7C667.7,1253.0 663.0,1248.3 661.1,1243.2C659.2,1238.2 657.9,1231.9 658.8,1228.2Z" fill="#424242"/><path d="M679.9,1247.5C681.8,1242.9 686.1,1237.8 689.2,1236.2C692.4,1234.6 696.7,1235.8 698.6,1238.1C700.6,1240.3 699.8,1245.6 701.0,1249.8C702.1,1254.0 703.3,1258.8 705.6,1263.4C708.0,1268.0 713.8,1273.1 715.0,1277.5C716.2,1281.8 715.0,1285.7 712.7,1289.6C710.3,1293.6 704.2,1297.9 701.0,1301.4C697.8,1304.8 697.4,1308.8 693.5,1310.3C689.5,1311.8 680.2,1318.1 677.5,1310.3C674.9,1302.5 677.1,1273.9 677.5,1263.4C677.9,1252.9 677.9,1252.0 679.9,1247.5Z" fill="#b6b6b6"/><path d="M701.0,1238.1C703.5,1237.3 706.4,1244.4 716.9,1245.1C727.4,1245.8 756.0,1231.4 763.8,1242.3C771.6,1253.2 775.4,1298.9 763.8,1310.3C752.1,1321.6 704.3,1311.8 693.9,1310.3C683.5,1308.8 698.2,1304.8 701.4,1301.4C704.6,1297.9 710.8,1293.6 713.1,1289.6C715.5,1285.7 716.7,1281.8 715.5,1277.5C714.3,1273.1 708.5,1268.0 706.1,1263.4C703.8,1258.8 702.3,1254.0 701.4,1249.8C700.6,1245.6 698.4,1238.9 701.0,1238.1Z" fill="#6e6e6e"/><path d="M724.3,1196.1C747.0,1191.0 836.0,1191.4 860.3,1196.1C884.5,1200.8 879.8,1219.2 869.6,1224.2C859.5,1229.3 823.5,1226.2 799.3,1226.6C775.1,1227.0 736.8,1231.7 724.3,1226.6C711.8,1221.5 701.7,1201.2 724.3,1196.1Z" fill="#666"/><path d="M722.0,1226.6C727.8,1213.3 749.3,1224.2 757.1,1226.6C764.9,1228.9 769.2,1237.1 768.9,1240.7C768.5,1244.2 759.1,1245.3 754.8,1247.7C750.5,1250.0 747.0,1252.7 743.1,1254.7C739.2,1256.8 732.9,1256.0 731.4,1259.9C729.8,1263.8 731.7,1273.2 733.7,1278.2C735.6,1283.2 740.3,1285.2 743.1,1289.9C745.9,1294.6 754.1,1303.5 750.6,1306.3C747.1,1309.0 726.7,1319.6 722.0,1306.3C717.2,1293.0 716.1,1239.9 722.0,1226.6Z" fill="#4a4a4a"/><path d="M731.4,1259.9C732.9,1256.0 739.2,1256.8 743.1,1254.7C747.0,1252.7 750.5,1250.0 754.8,1247.7C759.1,1245.3 764.2,1241.0 768.9,1240.7C773.5,1240.3 779.0,1243.0 782.9,1245.3C786.8,1247.7 788.4,1252.7 792.3,1254.7C796.2,1256.8 801.3,1259.1 806.4,1257.5C811.4,1256.0 818.9,1247.8 822.8,1245.3C826.7,1242.8 833.0,1239.8 829.8,1242.5C826.6,1245.3 807.9,1251.1 803.5,1261.8C799.2,1272.4 812.4,1298.9 803.5,1306.3C794.7,1313.7 760.6,1309.0 750.6,1306.3C740.5,1303.5 745.9,1294.6 743.1,1289.9C740.3,1285.2 735.6,1283.2 733.7,1278.2C731.7,1273.2 729.8,1263.8 731.4,1259.9Z" fill="#b6b6b6"/><path d="M860.3,1223.1C864.9,1222.9 872.8,1230.3 879.0,1232.5C885.3,1234.6 887.6,1233.2 897.8,1236.0C907.9,1238.7 932.9,1242.8 939.9,1248.9C947.0,1254.9 943.9,1269.4 939.9,1272.3C936.0,1275.2 923.5,1268.2 916.5,1266.4C909.5,1264.7 902.1,1262.5 897.8,1261.8C893.5,1261.0 895.4,1264.8 890.7,1261.8C886.0,1258.7 876.3,1247.4 869.6,1243.5C863.0,1239.6 858.7,1238.0 850.9,1238.3C843.1,1238.6 826.3,1245.3 822.8,1245.3C819.2,1245.3 825.1,1240.3 829.8,1238.3C834.5,1236.4 845.8,1236.2 850.9,1233.6C856.0,1231.1 855.6,1223.3 860.3,1223.1Z" fill="#c2c2c2"/><path d="M893.1,1262.2C893.1,1259.5 894.3,1261.0 898.2,1261.8C902.1,1262.5 910.1,1265.1 916.5,1266.9C922.9,1268.7 933.1,1270.9 936.4,1272.8C939.8,1274.6 942.1,1274.3 936.4,1278.2C930.8,1282.0 910.1,1291.8 902.4,1295.7C894.8,1299.6 891.4,1304.5 890.7,1301.6C890.0,1298.7 897.8,1284.7 898.2,1278.2C898.6,1271.6 893.1,1265.0 893.1,1262.2Z" fill="#5a5a5a"/></g><polygon points="544.2,1213.7 560.6,1207.8 621.5,1201.3 677.8,1198.5 703.5,1200.3 703.5,1198.0 787.6,1199.2 797.0,1198.0 850.9,1202.0 869.6,1221.9 879.0,1233.6 897.8,1237.1 935.3,1248.9 935.7,1271.1 932.9,1273.9 902.4,1292.7 890.7,1299.7 897.8,1278.2 890.7,1261.8 869.6,1244.2 832.1,1241.8 811.0,1257.1 802.8,1271.1 802.8,1303.2 677.8,1303.5 676.6,1278.2 668.4,1257.1 649.6,1243.0 614.5,1240.7 595.7,1254.7 584.0,1278.2 577.0,1296.4 567.6,1287.5 555.9,1261.8 546.5,1240.7 543.7,1226.6" fill="none" stroke="#2a2a2a" stroke-width="0.7"/><polygon points="801.7,1209.0 850.9,1208.3 866.1,1226.6 821.6,1229.4" fill="#7d7d7d" stroke="#333" stroke-width="0.8"/><rect x="709.4" y="1212.1" width="75.9" height="8.7" fill="#8a8a8a" stroke="#444" stroke-width="0.5"/><circle cx="686.0" cy="1221.9" r="12.9" fill="#3a3a3a" stroke="#eee" stroke-width="1.2"/><text x="676.8" y="1224.2" font-size="5.4" fill="#fff" font-family="Liberation Sans, sans-serif" font-weight="bold">ISAF</text><polyline points="676.6,1229.4 682.4,1231.8 689.5,1231.3 695.3,1227.8" fill="none" stroke="#ddd" stroke-width="0.7"/><polyline points="787.6,1199.6 822.8,1236.0 802.8,1264.1" fill="none" stroke="#333" stroke-width="0.7"/><line x1="822.8" y1="1236.0" x2="879.0" y2="1234.1" stroke="#333" stroke-width="0.5"/><rect x="877.1" y="1241.1" width="10.8" height="3.8" rx="2" fill="#eee" stroke="#555" stroke-width="0.6"/><rect x="879.0" y="1247.2" width="7.0" height="2.3" fill="#ccc"/><rect x="703.1" y="1227.1" width="28.6" height="5.6" fill="#151515"/><text x="705.9" y="1232.0" font-size="5.6" fill="#fff" font-family="Liberation Sans, sans-serif" font-weight="bold">NL</text><rect x="625.5" y="1239.5" width="12.0" height="4.0" fill="#ddd" stroke="#666" stroke-width="0.3"/><polyline points="578.4,1294.6 585.2,1277.0 596.9,1255.2 614.9,1241.8 649.6,1243.7 667.4,1257.5 675.4,1278.2 676.8,1302.8" fill="none" stroke="#999" stroke-width="1"/><line x1="544.2" y1="1216.0" x2="677.8" y2="1203.2" stroke="#333" stroke-width="0.5"/><line x1="546.5" y1="1240.7" x2="677.8" y2="1238.3" stroke="#444" stroke-width="0.3"/><line x1="679.6" y1="1200.8" x2="679.6" y2="1238.3" stroke="#444" stroke-width="0.5"/><polygon points="734.0,1228.9 799.3,1227.8 801.7,1271.1 782.9,1301.6 752.4,1302.8 743.4,1289.9 733.5,1275.8" fill="none" stroke="#3a3a3a" stroke-width="0.6"/><line x1="791.1" y1="1229.4" x2="791.1" y2="1285.2" stroke="#444" stroke-width="0.6"/><rect x="782.9" y="1229.4" width="14.1" height="5.4" fill="none" stroke="#555" stroke-width="0.5"/><rect x="923.5" y="1250.0" width="4.7" height="12.9" fill="none" stroke="#333" stroke-width="0.6"/><circle cx="565.2" cy="1220.7" r="1.1" fill="#3f3f3f"/><circle cx="586.3" cy="1219.6" r="1.1" fill="#3f3f3f"/><circle cx="607.4" cy="1217.2" r="1.1" fill="#3f3f3f"/><circle cx="630.9" cy="1214.9" r="1.1" fill="#3f3f3f"/><circle cx="652.0" cy="1212.5" r="1.1" fill="#3f3f3f"/><circle cx="673.1" cy="1211.4" r="1.1" fill="#3f3f3f"/><circle cx="565.2" cy="1234.8" r="1.1" fill="#3f3f3f"/><circle cx="586.3" cy="1234.8" r="1.1" fill="#3f3f3f"/><circle cx="607.4" cy="1234.8" r="1.1" fill="#3f3f3f"/><circle cx="630.9" cy="1234.8" r="1.1" fill="#3f3f3f"/><circle cx="652.0" cy="1234.8" r="1.1" fill="#3f3f3f"/><circle cx="673.1" cy="1234.8" r="1.1" fill="#3f3f3f"/><circle cx="569.9" cy="1258.2" r="1.1" fill="#3f3f3f"/><circle cx="708.2" cy="1262.9" r="1.1" fill="#3f3f3f"/><circle cx="727.0" cy="1262.9" r="1.1" fill="#3f3f3f"/><circle cx="708.2" cy="1282.8" r="1.1" fill="#3f3f3f"/><circle cx="727.0" cy="1282.8" r="1.1" fill="#3f3f3f"/><circle cx="708.2" cy="1301.6" r="1.1" fill="#3f3f3f"/><circle cx="738.4" cy="1245.3" r="1.1" fill="#3f3f3f"/><circle cx="759.5" cy="1244.9" r="1.1" fill="#3f3f3f"/><circle cx="782.9" cy="1244.9" r="1.1" fill="#3f3f3f"/><circle cx="738.4" cy="1236.0" r="1.1" fill="#3f3f3f"/><circle cx="759.5" cy="1235.5" r="1.1" fill="#3f3f3f"/><circle cx="759.5" cy="1294.6" r="1.1" fill="#3f3f3f"/><circle cx="738.4" cy="1261.8" r="1.1" fill="#3f3f3f"/><circle cx="689.5" cy="1301.6" r="1.1" fill="#3f3f3f"/><circle cx="630.2" cy="1296.4" r="39.4" fill="#4b4b4b" stroke="#1e1e1e" stroke-width="1.1"/><path d="M667.8,1301.0 L655.7,1299.5 M665.6,1309.8 L654.2,1305.5 M661.4,1317.9 L651.4,1311.0 M655.3,1324.8 L647.3,1315.7 M647.8,1330.0 L642.2,1319.2 M639.3,1333.2 L636.4,1321.4 M630.2,1334.3 L630.2,1322.2 M621.1,1333.2 L624.0,1321.4 M612.6,1330.0 L618.2,1319.2 M605.1,1324.8 L613.1,1315.7 M599.0,1318.0 L609.0,1311.1 M594.7,1309.9 L606.1,1305.6 M592.5,1301.0 L604.6,1299.6 M592.5,1291.9 L604.6,1293.4 M594.7,1283.0 L606.1,1287.3 M599.0,1274.9 L609.0,1281.8 M605.0,1268.1 L613.1,1277.2 M612.5,1262.9 L618.2,1273.7 M621.1,1259.6 L624.0,1271.5 M630.1,1258.5 L630.2,1270.7 M639.2,1259.6 L636.3,1271.4 M647.8,1262.9 L642.1,1273.6 M655.3,1268.0 L647.2,1277.2 M661.4,1274.9 L651.3,1281.8 M665.6,1283.0 L654.2,1287.3 M667.8,1291.8 L655.7,1293.3 " stroke="#5e5e5e" stroke-width=".9" fill="none"/><path d="M669.0,1298.4 L652.9,1297.6 M667.4,1307.6 L651.9,1303.0 M663.7,1316.2 L649.7,1308.0 M658.0,1323.7 L646.4,1312.3 M650.6,1329.5 L642.1,1315.8 M642.1,1333.5 L637.2,1318.1 M632.9,1335.2 L631.8,1319.1 M623.6,1334.8 L626.3,1318.8 M614.6,1332.1 L621.1,1317.3 M606.5,1327.3 L616.3,1314.5 M599.8,1320.7 L612.4,1310.6 M594.9,1312.8 L609.5,1306.0 M592.0,1303.8 L607.9,1300.8 M591.3,1294.5 L607.5,1295.3 M592.9,1285.3 L608.4,1289.9 M596.7,1276.7 L610.6,1284.9 M602.4,1269.2 L613.9,1280.5 M609.7,1263.4 L618.2,1277.1 M618.2,1259.4 L623.2,1274.8 M627.4,1257.6 L628.6,1273.8 M636.8,1258.1 L634.0,1274.0 M645.8,1260.8 L639.3,1275.6 M653.8,1265.6 L644.0,1278.4 M660.5,1272.1 L647.9,1282.2 M665.5,1280.1 L650.8,1286.9 M668.4,1289.0 L652.5,1292.1 " stroke="#2a2a2a" stroke-width=".8" fill="none"/><circle cx="630.2" cy="1296.4" r="34.2" fill="none" stroke="#333" stroke-width="0.6"/><circle cx="630.2" cy="1296.4" r="22.5" fill="#3e3e3e" stroke="#262626" stroke-width="0.5"/><circle cx="630.2" cy="1296.4" r="20.4" fill="#7c7c7c" stroke="#2a2a2a" stroke-width="0.7"/><circle cx="630.2" cy="1296.4" r="17.1" fill="none" stroke="#666" stroke-width="0.6"/><circle cx="643.8" cy="1300.7" r="1.9" fill="#565656" stroke="#444" stroke-width="0.3"/><circle cx="638.7" cy="1307.9" r="1.9" fill="#565656" stroke="#444" stroke-width="0.3"/><circle cx="630.4" cy="1310.7" r="1.9" fill="#565656" stroke="#444" stroke-width="0.3"/><circle cx="621.9" cy="1308.1" r="1.9" fill="#565656" stroke="#444" stroke-width="0.3"/><circle cx="616.6" cy="1301.0" r="1.9" fill="#565656" stroke="#444" stroke-width="0.3"/><circle cx="616.5" cy="1292.2" r="1.9" fill="#565656" stroke="#444" stroke-width="0.3"/><circle cx="621.6" cy="1285.0" r="1.9" fill="#565656" stroke="#444" stroke-width="0.3"/><circle cx="630.0" cy="1282.1" r="1.9" fill="#565656" stroke="#444" stroke-width="0.3"/><circle cx="638.4" cy="1284.8" r="1.9" fill="#565656" stroke="#444" stroke-width="0.3"/><circle cx="643.7" cy="1291.8" r="1.9" fill="#565656" stroke="#444" stroke-width="0.3"/><circle cx="630.2" cy="1296.4" r="6.3" fill="#7c7c7c" stroke="#4a4a4a" stroke-width="0.6"/><circle cx="630.2" cy="1296.4" r="3.0" fill="#6a6a6a" stroke="#444" stroke-width="0.4"/><circle cx="849.7" cy="1296.4" r="39.4" fill="#4b4b4b" stroke="#1e1e1e" stroke-width="1.1"/><path d="M887.3,1301.0 L875.3,1299.5 M885.2,1309.8 L873.8,1305.5 M880.9,1317.9 L870.9,1311.0 M874.9,1324.8 L866.8,1315.7 M867.4,1330.0 L861.7,1319.2 M858.8,1333.2 L855.9,1321.4 M849.7,1334.3 L849.7,1322.2 M840.7,1333.2 L843.6,1321.4 M832.1,1330.0 L837.8,1319.2 M824.6,1324.8 L832.7,1315.7 M818.5,1318.0 L828.5,1311.1 M814.3,1309.9 L825.7,1305.6 M812.1,1301.0 L824.2,1299.6 M812.1,1291.9 L824.2,1293.4 M814.3,1283.0 L825.6,1287.3 M818.5,1274.9 L828.5,1281.8 M824.6,1268.1 L832.6,1277.2 M832.1,1262.9 L837.7,1273.7 M840.6,1259.6 L843.5,1271.5 M849.7,1258.5 L849.7,1270.7 M858.8,1259.6 L855.8,1271.4 M867.3,1262.9 L861.7,1273.6 M874.8,1268.0 L866.8,1277.2 M880.9,1274.9 L870.9,1281.8 M885.1,1283.0 L873.8,1287.3 M887.3,1291.8 L875.3,1293.3 " stroke="#5e5e5e" stroke-width=".9" fill="none"/><path d="M888.6,1298.4 L872.4,1297.6 M887.0,1307.6 L871.5,1303.0 M883.2,1316.2 L869.3,1308.0 M877.5,1323.7 L866.0,1312.3 M870.2,1329.5 L861.7,1315.8 M861.7,1333.5 L856.7,1318.1 M852.5,1335.2 L851.3,1319.1 M843.1,1334.8 L845.8,1318.8 M834.1,1332.1 L840.6,1317.3 M826.0,1327.3 L835.9,1314.5 M819.3,1320.7 L832.0,1310.6 M814.4,1312.8 L829.1,1306.0 M811.5,1303.8 L827.4,1300.8 M810.9,1294.5 L827.0,1295.3 M812.4,1285.3 L827.9,1289.9 M816.2,1276.7 L830.1,1284.9 M821.9,1269.2 L833.5,1280.5 M829.2,1263.4 L837.7,1277.1 M837.7,1259.4 L842.7,1274.8 M847.0,1257.6 L848.1,1273.8 M856.3,1258.1 L853.6,1274.0 M865.3,1260.8 L858.8,1275.6 M873.4,1265.6 L863.5,1278.4 M880.1,1272.1 L867.5,1282.2 M885.0,1280.1 L870.3,1286.9 M887.9,1289.0 L872.0,1292.1 " stroke="#2a2a2a" stroke-width=".8" fill="none"/><circle cx="849.7" cy="1296.4" r="34.2" fill="none" stroke="#333" stroke-width="0.6"/><circle cx="849.7" cy="1296.4" r="22.5" fill="#3e3e3e" stroke="#262626" stroke-width="0.5"/><circle cx="849.7" cy="1296.4" r="20.4" fill="#7c7c7c" stroke="#2a2a2a" stroke-width="0.7"/><circle cx="849.7" cy="1296.4" r="17.1" fill="none" stroke="#666" stroke-width="0.6"/><circle cx="863.4" cy="1300.7" r="1.9" fill="#565656" stroke="#444" stroke-width="0.3"/><circle cx="858.3" cy="1307.9" r="1.9" fill="#565656" stroke="#444" stroke-width="0.3"/><circle cx="849.9" cy="1310.7" r="1.9" fill="#565656" stroke="#444" stroke-width="0.3"/><circle cx="841.5" cy="1308.1" r="1.9" fill="#565656" stroke="#444" stroke-width="0.3"/><circle cx="836.2" cy="1301.0" r="1.9" fill="#565656" stroke="#444" stroke-width="0.3"/><circle cx="836.1" cy="1292.2" r="1.9" fill="#565656" stroke="#444" stroke-width="0.3"/><circle cx="841.1" cy="1285.0" r="1.9" fill="#565656" stroke="#444" stroke-width="0.3"/><circle cx="849.5" cy="1282.1" r="1.9" fill="#565656" stroke="#444" stroke-width="0.3"/><circle cx="857.9" cy="1284.8" r="1.9" fill="#565656" stroke="#444" stroke-width="0.3"/><circle cx="863.2" cy="1291.8" r="1.9" fill="#565656" stroke="#444" stroke-width="0.3"/><circle cx="849.7" cy="1296.4" r="6.3" fill="#7c7c7c" stroke="#4a4a4a" stroke-width="0.6"/><circle cx="849.7" cy="1296.4" r="3.0" fill="#6a6a6a" stroke="#444" stroke-width="0.4"/><rect x="583.1" y="1420.7" width="70.8" height="2.8" fill="#555" stroke="#333" stroke-width="0.4"/><rect x="632.8" y="1419.7" width="21.1" height="5.2" fill="#444"/><rect x="653.9" y="1415.5" width="15.2" height="20.4" fill="#6a6a6a" stroke="#333" stroke-width="0.6"/><rect x="669.1" y="1420.7" width="17.6" height="11.7" fill="#808080" stroke="#333" stroke-width="0.6"/><polygon points="680.9,1416.0 708.0,1415.5 708.0,1427.2 702.7,1428.2 702.7,1446.9 686.2,1446.9 686.2,1430.0 680.9,1428.9" fill="#5e5e5e" stroke="#333" stroke-width="0.6"/><rect x="684.4" y="1417.1" width="21.1" height="8.2" fill="#4a4a4a"/><polyline points="624.6,1428.2 631.6,1428.2 631.6,1424.2" fill="none" stroke="#333" stroke-width="1"/><line x1="678.5" y1="1432.4" x2="684.4" y2="1444.1" stroke="#444" stroke-width="0.8"/><rect x="580.8" y="1450.7" width="10.5" height="19.2" rx="2" fill="#bdbdbd" stroke="#555" stroke-width="0.6"/><rect x="581.2" y="1469.9" width="11.7" height="14.1" fill="#b0b0b0"/><rect x="568.4" y="1475.7" width="10.1" height="11.0" fill="#b5b5b5" stroke="#555" stroke-width="0.6"/><rect x="765.5" y="1397.2" width="26.5" height="25.8" fill="#5c5c5c" stroke="#333" stroke-width="0.6"/><rect x="773.7" y="1403.1" width="11.7" height="32.8" rx="8" fill="#6e6e6e" stroke="#444" stroke-width="0.6"/><rect x="762.0" y="1435.9" width="24.6" height="14.1" fill="#666" stroke="#444" stroke-width="0.6"/><rect x="806.6" y="1441.3" width="37.5" height="8.7" fill="#555" stroke="#333" stroke-width="0.6"/><line x1="841.7" y1="1431.2" x2="839.4" y2="1442.9" stroke="#222" stroke-width="1.6"/><line x1="861.6" y1="1441.8" x2="861.6" y2="1451.1" stroke="#222" stroke-width="1.6"/><rect x="703.4" y="1441.8" width="42.2" height="8.2" fill="#4a4a4a" stroke="#333" stroke-width="0.6"/><polygon points="910.8,1457.0 921.1,1453.0 933.3,1446.9 938.4,1463.3 930.5,1470.3 910.8,1472.0" fill="#4f4f4f" stroke="#222" stroke-width="0.6"/><circle cx="919.2" cy="1455.8" r="2.1" fill="#ddd" stroke="#333" stroke-width="0.6"/><rect x="920.2" y="1471.5" width="16.9" height="12.7" fill="#808080" stroke="#444" stroke-width="0.6"/><polygon points="916.9,1489.1 936.6,1495.7 930.5,1517.2 918.8,1519.8 912.2,1507.4" fill="#6a6a6a" stroke="#333" stroke-width="0.6"/><line x1="916.4" y1="1498.0" x2="934.0" y2="1503.9" stroke="#444" stroke-width="0.5"/><line x1="914.5" y1="1506.2" x2="932.3" y2="1512.1" stroke="#444" stroke-width="0.5"/><polyline points="903.5,1523.1 912.2,1535.5 902.3,1540.2 900.5,1547.2" fill="none" stroke="#222" stroke-width="1.4"/><line x1="886.2" y1="1547.2" x2="888.1" y2="1568.3" stroke="#333" stroke-width="0.8"/><polyline points="525.0,1523.8 530.9,1526.1 527.3,1535.5 533.2,1540.2" fill="none" stroke="#444" stroke-width="1.2"/><polygon points="564.8,1540.2 571.9,1516.8 595.3,1491.0 632.8,1488.6 651.6,1507.4 659.8,1526.1 659.8,1551.9 564.8,1551.9" fill="#343434"/><polygon points="783.0,1551.9 786.3,1526.1 801.6,1500.3 822.7,1489.8 848.4,1492.1 867.2,1509.7 881.5,1540.2 886.2,1549.6 886.2,1556.6" fill="#343434"/><clipPath id="c9"><polygon points="528.5,1498.0 562.5,1486.8 581.2,1485.1 590.6,1477.4 609.4,1451.6 630.5,1447.6 675.0,1446.9 760.8,1452.3 783.0,1450.0 811.2,1444.1 844.0,1448.8 881.5,1455.8 914.3,1461.0 919.5,1464.0 919.5,1479.2 915.2,1498.0 907.0,1516.8 899.1,1535.5 886.2,1549.6 881.5,1540.2 867.2,1509.7 848.4,1492.1 822.7,1489.8 801.6,1500.3 786.3,1526.1 783.0,1551.9 659.8,1551.9 659.8,1526.1 651.6,1507.4 632.8,1488.6 595.3,1491.0 571.9,1516.8 564.8,1540.2 548.4,1532.0 529.7,1523.8"/></clipPath><g clip-path="url(#c9)"><rect x="520.3" y="1432.4" width="421.9" height="131.2" fill="#7a7a7a"/><path d="M520.3,1495.7C527.3,1491.6 550.8,1487.1 562.5,1485.1C574.2,1483.1 587.5,1481.7 590.6,1483.5C593.8,1485.2 585.2,1492.5 581.2,1495.7C577.3,1498.9 572.7,1501.3 567.2,1502.7C561.7,1504.1 553.9,1502.7 548.4,1503.9C543.0,1505.0 539.1,1508.7 534.4,1509.7C529.7,1510.7 522.7,1512.1 520.3,1509.7C518.0,1507.4 513.3,1499.8 520.3,1495.7Z" fill="#424242"/><path d="M520.3,1526.1C523.4,1523.0 532.4,1523.0 539.1,1521.4C545.7,1519.9 554.7,1517.3 560.2,1516.8C565.6,1516.2 571.1,1514.0 571.9,1517.9C572.7,1521.8 573.4,1536.5 564.8,1540.2C556.2,1543.9 527.7,1542.5 520.3,1540.2C512.9,1537.8 517.2,1529.2 520.3,1526.1Z" fill="#8c8c8c"/><path d="M569.5,1486.3C569.5,1487.3 577.7,1484.1 590.6,1483.5C603.5,1482.9 635.0,1478.4 646.9,1482.8C658.8,1487.1 659.4,1497.8 662.1,1509.7C664.8,1521.6 659.2,1546.8 663.3,1554.2C667.4,1561.7 682.8,1558.9 686.7,1554.2C690.6,1549.6 688.7,1532.4 686.7,1526.1C684.8,1519.9 678.7,1521.4 675.0,1516.8C671.3,1512.1 668.0,1503.5 664.5,1498.0C660.9,1492.5 652.1,1492.5 653.9,1483.9C655.7,1475.4 678.9,1453.1 675.0,1446.9C671.1,1440.7 641.4,1446.2 630.5,1446.9C619.5,1447.6 616.0,1446.0 609.4,1451.1C602.7,1456.2 597.3,1471.5 590.6,1477.4C584.0,1483.2 569.5,1485.3 569.5,1486.3Z" fill="#b6b6b6"/><path d="M649.2,1480.4C650.6,1476.3 664.1,1473.8 671.5,1473.4C678.9,1473.0 690.0,1468.9 693.8,1478.1C697.5,1487.3 695.3,1520.5 693.8,1528.5C692.2,1536.5 687.9,1528.1 684.4,1526.1C680.9,1524.2 676.2,1521.4 672.7,1516.8C669.1,1512.1 667.2,1504.1 663.3,1498.0C659.4,1491.9 647.9,1484.5 649.2,1480.4Z" fill="#424242"/><path d="M670.3,1445.3C685.6,1443.2 744.8,1446.2 759.7,1448.8C774.6,1451.4 775.0,1458.9 759.7,1461.0C744.4,1463.0 682.9,1463.6 668.0,1461.0C653.1,1458.4 655.0,1447.3 670.3,1445.3Z" fill="#b0b0b0"/><path d="M670.6,1471.0C680.2,1468.1 718.7,1468.1 728.0,1471.0C737.4,1474.0 736.4,1485.7 726.9,1488.6C717.3,1491.6 680.0,1491.6 670.6,1488.6C661.2,1485.7 661.0,1474.0 670.6,1471.0Z" fill="#b6b6b6"/><path d="M689.4,1488.6C696.0,1478.5 722.4,1483.9 729.2,1488.6C736.0,1493.3 733.5,1507.0 730.4,1516.8C727.3,1526.5 717.3,1541.8 710.5,1547.2C703.6,1552.7 692.9,1559.3 689.4,1549.6C685.9,1539.8 682.7,1498.8 689.4,1488.6Z" fill="#828282"/><path d="M663.6,1488.6C667.9,1480.8 684.9,1483.9 689.4,1488.6C693.9,1493.3 691.3,1508.9 690.5,1516.8C689.8,1524.6 689.2,1532.4 684.7,1535.5C680.2,1538.6 667.1,1543.3 663.6,1535.5C660.1,1527.7 659.3,1496.4 663.6,1488.6Z" fill="#3e3e3e"/><path d="M726.9,1472.2C728.8,1462.8 733.5,1459.6 738.6,1455.8C743.7,1452.0 749.7,1450.3 757.3,1449.2C765.0,1448.2 780.0,1443.5 784.3,1449.2C788.6,1455.0 783.7,1475.0 783.1,1483.9C782.5,1492.8 782.3,1497.2 780.8,1502.7C779.2,1508.2 777.6,1512.8 773.7,1516.8C769.8,1520.7 763.2,1525.0 757.3,1526.1C751.5,1527.3 743.7,1526.1 738.6,1523.8C733.5,1521.4 728.8,1520.7 726.9,1512.1C724.9,1503.5 724.9,1481.6 726.9,1472.2Z" fill="#424242"/><path d="M783.1,1452.3C790.9,1446.2 822.2,1446.2 830.0,1452.3C837.8,1458.4 837.8,1482.6 830.0,1488.6C822.2,1494.7 790.9,1494.7 783.1,1488.6C775.3,1482.6 775.3,1458.4 783.1,1452.3Z" fill="#b6b6b6"/><path d="M694.1,1554.2C681.9,1551.5 705.0,1542.5 710.5,1537.8C715.9,1533.2 720.2,1529.2 726.9,1526.1C733.5,1523.1 742.5,1519.6 750.3,1519.6C758.1,1519.6 768.1,1523.1 773.7,1526.1C779.4,1529.2 782.7,1533.2 784.3,1537.8C785.9,1542.5 798.2,1551.5 783.1,1554.2C768.1,1557.0 706.2,1557.0 694.1,1554.2Z" fill="#9a9a9a"/><path d="M781.2,1488.6C789.1,1483.1 817.2,1486.3 820.6,1488.6C824.1,1491.0 807.3,1496.4 801.9,1502.7C796.4,1508.9 790.7,1517.5 787.8,1526.1C784.9,1534.7 792.5,1549.6 784.3,1554.2C776.1,1558.9 743.1,1557.4 738.6,1554.2C734.1,1551.1 751.5,1540.9 757.3,1535.5C763.2,1530.1 769.8,1529.7 773.7,1521.9C777.7,1514.1 773.4,1494.2 781.2,1488.6Z" fill="#b6b6b6"/><path d="M830.0,1451.1C834.7,1445.1 849.5,1452.7 858.1,1453.5C866.7,1454.2 882.3,1453.7 881.6,1455.8C880.8,1458.0 859.7,1462.5 853.4,1466.4C847.2,1470.3 844.8,1475.5 844.1,1479.2C843.3,1483.0 851.1,1486.9 848.7,1488.6C846.4,1490.4 833.1,1496.0 830.0,1489.8C826.9,1483.5 825.3,1457.2 830.0,1451.1Z" fill="#555"/><path d="M842.2,1475.7C843.0,1472.6 843.0,1468.9 849.2,1466.4C855.4,1463.8 867.2,1460.9 879.2,1460.5C891.2,1460.1 914.4,1456.2 921.4,1464.0C928.4,1471.8 926.5,1500.9 921.4,1507.4C916.3,1513.8 898.0,1502.7 890.9,1502.7C883.9,1502.7 883.1,1507.8 879.2,1507.4C875.3,1507.0 871.0,1503.3 867.5,1500.3C864.0,1497.4 861.9,1492.3 858.1,1489.8C854.3,1487.3 847.2,1487.5 844.5,1485.1C841.9,1482.8 841.4,1478.9 842.2,1475.7Z" fill="#b6b6b6"/><path d="M867.5,1500.8C868.6,1499.3 875.3,1507.5 879.2,1507.8C883.1,1508.2 883.9,1503.2 890.9,1503.2C898.0,1503.2 916.3,1499.3 921.4,1507.8C926.5,1516.4 926.9,1546.5 921.4,1554.2C915.9,1562.0 895.6,1557.4 888.6,1554.2C881.6,1551.1 881.9,1541.8 879.2,1535.5C876.6,1529.2 874.6,1522.5 872.6,1516.8C870.7,1511.0 866.4,1502.3 867.5,1500.8Z" fill="#424242"/></g><polygon points="528.5,1498.0 562.5,1486.8 581.2,1485.1 590.6,1477.4 609.4,1451.6 630.5,1447.6 675.0,1446.9 760.8,1452.3 783.0,1450.0 811.2,1444.1 844.0,1448.8 881.5,1455.8 914.3,1461.0 919.5,1464.0 919.5,1479.2 915.2,1498.0 907.0,1516.8 899.1,1535.5 886.2,1549.6 881.5,1540.2 867.2,1509.7 848.4,1492.1 822.7,1489.8 801.6,1500.3 786.3,1526.1 783.0,1551.9 659.8,1551.9 659.8,1526.1 651.6,1507.4 632.8,1488.6 595.3,1491.0 571.9,1516.8 564.8,1540.2 548.4,1532.0 529.7,1523.8" fill="none" stroke="#2a2a2a" stroke-width="0.7"/><polygon points="611.7,1457.0 660.9,1457.0 644.5,1478.1 596.5,1475.7" fill="#7d7d7d" stroke="#333" stroke-width="0.8"/><polygon points="671.5,1461.7 755.0,1461.0 755.0,1469.4 664.5,1469.9" fill="#6e6e6e" stroke="#444" stroke-width="0.6"/><circle cx="770.7" cy="1470.3" r="12.9" fill="#3a3a3a" stroke="#eee" stroke-width="1.2"/><text x="761.8" y="1472.2" font-size="5.4" fill="#fff" font-family="Liberation Sans, sans-serif" font-weight="bold">ISAF</text><polyline points="761.6,1477.4 767.9,1479.7 774.9,1479.2 780.3,1475.7" fill="none" stroke="#ddd" stroke-width="0.7"/><line x1="609.4" y1="1451.6" x2="675.0" y2="1453.5" stroke="#333" stroke-width="0.5"/><polyline points="675.0,1446.9 646.9,1483.9 659.8,1512.1" fill="none" stroke="#333" stroke-width="0.7"/><line x1="590.6" y1="1483.9" x2="646.9" y2="1483.9" stroke="#333" stroke-width="0.6"/><rect x="575.9" y="1489.8" width="9.6" height="3.5" rx="2" fill="#eee" stroke="#555" stroke-width="0.6"/><rect x="576.6" y="1495.2" width="7.0" height="2.3" fill="#ccc"/><line x1="680.0" y1="1453.5" x2="914.4" y2="1453.5" stroke="#333" stroke-width="0.5"/><rect x="760.9" y="1453.9" width="157.0" height="33.5" fill="none" stroke="#3a3a3a" stroke-width="0.6"/><line x1="665.9" y1="1474.6" x2="760.9" y2="1474.6" stroke="#444" stroke-width="0.4"/><line x1="760.9" y1="1488.6" x2="820.6" y2="1488.6" stroke="#444" stroke-width="0.4"/><polygon points="673.0,1474.6 719.8,1475.7 729.2,1488.6 729.2,1526.1 710.5,1547.2 673.0,1547.2" fill="none" stroke="#3a3a3a" stroke-width="0.6"/><polygon points="705.3,1512.1 715.1,1496.8 722.6,1512.1" fill="none" stroke="#444" stroke-width="0.7"/><rect x="742.8" y="1499.2" width="28.1" height="6.3" fill="#151515"/><text x="745.6" y="1504.6" font-size="5.6" fill="#fff" font-family="Liberation Sans, sans-serif" font-weight="bold">NL</text><rect x="826.5" y="1488.2" width="8.2" height="4.2" fill="#ddd" stroke="#666" stroke-width="0.3"/><polyline points="784.3,1550.7 785.5,1526.1 800.7,1501.5 819.4,1490.5 844.1,1491.4 865.1,1508.5 879.2,1537.8 884.4,1549.6" fill="none" stroke="#999" stroke-width="1"/><circle cx="765.5" cy="1461.7" r="1.1" fill="#3f3f3f"/><circle cx="787.8" cy="1461.7" r="1.1" fill="#3f3f3f"/><circle cx="811.2" cy="1461.7" r="1.1" fill="#3f3f3f"/><circle cx="833.5" cy="1465.2" r="1.1" fill="#3f3f3f"/><circle cx="765.5" cy="1482.8" r="1.1" fill="#3f3f3f"/><circle cx="787.8" cy="1482.8" r="1.1" fill="#3f3f3f"/><circle cx="811.2" cy="1482.8" r="1.1" fill="#3f3f3f"/><circle cx="833.5" cy="1482.8" r="1.1" fill="#3f3f3f"/><circle cx="854.6" cy="1482.8" r="1.1" fill="#3f3f3f"/><circle cx="876.9" cy="1468.7" r="1.1" fill="#3f3f3f"/><circle cx="898.0" cy="1469.9" r="1.1" fill="#3f3f3f"/><circle cx="898.0" cy="1482.8" r="1.1" fill="#3f3f3f"/><circle cx="777.3" cy="1493.8" r="1.1" fill="#3f3f3f"/><circle cx="797.2" cy="1493.8" r="1.1" fill="#3f3f3f"/><circle cx="703.4" cy="1478.1" r="1.1" fill="#3f3f3f"/><circle cx="703.4" cy="1493.3" r="1.1" fill="#3f3f3f"/><circle cx="724.5" cy="1493.3" r="1.1" fill="#3f3f3f"/><circle cx="703.4" cy="1521.4" r="1.1" fill="#3f3f3f"/><circle cx="715.1" cy="1521.4" r="1.1" fill="#3f3f3f"/><circle cx="736.2" cy="1530.8" r="1.1" fill="#3f3f3f"/><circle cx="755.0" cy="1530.8" r="1.1" fill="#3f3f3f"/><circle cx="776.1" cy="1530.8" r="1.1" fill="#3f3f3f"/><circle cx="703.4" cy="1547.2" r="1.1" fill="#3f3f3f"/><circle cx="755.0" cy="1547.2" r="1.1" fill="#3f3f3f"/><circle cx="776.1" cy="1547.2" r="1.1" fill="#3f3f3f"/><circle cx="668.0" cy="1495.7" r="1.1" fill="#3f3f3f"/><circle cx="668.0" cy="1547.2" r="1.1" fill="#3f3f3f"/><circle cx="614.1" cy="1544.9" r="38.9" fill="#4b4b4b" stroke="#1e1e1e" stroke-width="1.1"/><path d="M651.2,1549.4 L639.6,1548.0 M649.1,1558.1 L638.1,1554.0 M644.9,1566.1 L635.3,1559.5 M638.9,1572.9 L631.1,1564.1 M631.5,1578.0 L626.0,1567.7 M623.1,1581.2 L620.2,1569.9 M614.1,1582.3 L614.1,1570.6 M605.1,1581.2 L607.9,1569.9 M596.7,1578.0 L602.1,1567.7 M589.3,1572.9 L597.0,1564.2 M583.3,1566.2 L592.9,1559.5 M579.1,1558.2 L590.0,1554.0 M576.9,1549.4 L588.5,1548.0 M576.9,1540.4 L588.5,1541.8 M579.0,1531.6 L590.0,1535.8 M583.2,1523.6 L592.9,1530.3 M589.2,1516.9 L597.0,1525.6 M596.6,1511.7 L602.1,1522.1 M605.1,1508.5 L607.9,1519.9 M614.0,1507.4 L614.0,1519.1 M623.0,1508.5 L620.2,1519.9 M631.4,1511.7 L626.0,1522.1 M638.9,1516.8 L631.1,1525.6 M644.9,1523.6 L635.2,1530.2 M649.1,1531.6 L638.1,1535.7 M651.2,1540.3 L639.6,1541.8 " stroke="#5e5e5e" stroke-width=".9" fill="none"/><path d="M652.5,1546.8 L636.8,1546.0 M650.9,1555.9 L635.8,1551.4 M647.2,1564.4 L633.6,1556.4 M641.5,1571.8 L630.3,1560.8 M634.3,1577.6 L626.0,1564.2 M625.9,1581.5 L621.1,1566.5 M616.8,1583.2 L615.7,1567.6 M607.5,1582.8 L610.2,1567.3 M598.7,1580.1 L604.9,1565.7 M590.7,1575.4 L600.2,1562.9 M584.1,1568.9 L596.3,1559.1 M579.2,1561.0 L593.4,1554.4 M576.3,1552.2 L591.7,1549.2 M575.7,1543.0 L591.4,1543.7 M577.2,1533.8 L592.3,1538.3 M581.0,1525.3 L594.5,1533.3 M586.6,1518.0 L597.8,1529.0 M593.8,1512.2 L602.1,1525.5 M602.2,1508.3 L607.1,1523.2 M611.3,1506.5 L612.5,1522.2 M620.6,1507.0 L617.9,1522.5 M629.5,1509.7 L623.2,1524.0 M637.5,1514.4 L627.9,1526.8 M644.1,1520.9 L631.8,1530.7 M648.9,1528.7 L634.7,1535.3 M651.8,1537.6 L636.4,1540.5 " stroke="#2a2a2a" stroke-width=".8" fill="none"/><circle cx="614.1" cy="1544.9" r="33.8" fill="none" stroke="#333" stroke-width="0.6"/><circle cx="614.1" cy="1544.9" r="22.5" fill="#3e3e3e" stroke="#262626" stroke-width="0.5"/><circle cx="614.1" cy="1544.9" r="20.4" fill="#747474" stroke="#2a2a2a" stroke-width="0.7"/><circle cx="614.1" cy="1544.9" r="17.1" fill="none" stroke="#666" stroke-width="0.6"/><circle cx="627.7" cy="1549.1" r="1.9" fill="#565656" stroke="#444" stroke-width="0.3"/><circle cx="622.6" cy="1556.3" r="1.9" fill="#565656" stroke="#444" stroke-width="0.3"/><circle cx="614.3" cy="1559.2" r="1.9" fill="#565656" stroke="#444" stroke-width="0.3"/><circle cx="605.8" cy="1556.6" r="1.9" fill="#565656" stroke="#444" stroke-width="0.3"/><circle cx="600.5" cy="1549.5" r="1.9" fill="#565656" stroke="#444" stroke-width="0.3"/><circle cx="600.4" cy="1540.6" r="1.9" fill="#565656" stroke="#444" stroke-width="0.3"/><circle cx="605.5" cy="1533.4" r="1.9" fill="#565656" stroke="#444" stroke-width="0.3"/><circle cx="613.9" cy="1530.6" r="1.9" fill="#565656" stroke="#444" stroke-width="0.3"/><circle cx="622.3" cy="1533.2" r="1.9" fill="#565656" stroke="#444" stroke-width="0.3"/><circle cx="627.6" cy="1540.3" r="1.9" fill="#565656" stroke="#444" stroke-width="0.3"/><circle cx="614.1" cy="1544.9" r="6.3" fill="#7c7c7c" stroke="#4a4a4a" stroke-width="0.6"/><circle cx="614.1" cy="1544.9" r="3.0" fill="#6a6a6a" stroke="#444" stroke-width="0.4"/><circle cx="833.5" cy="1544.9" r="38.9" fill="#4b4b4b" stroke="#1e1e1e" stroke-width="1.1"/><path d="M870.7,1549.4 L859.1,1548.0 M868.5,1558.1 L857.6,1554.0 M864.3,1566.1 L854.7,1559.5 M858.4,1572.9 L850.6,1564.1 M850.9,1578.0 L845.5,1567.7 M842.5,1581.2 L839.7,1569.9 M833.5,1582.3 L833.5,1570.6 M824.6,1581.2 L827.4,1569.9 M816.1,1578.0 L821.6,1567.7 M808.7,1572.9 L816.5,1564.2 M802.7,1566.2 L812.3,1559.5 M798.5,1558.2 L809.5,1554.0 M796.3,1549.4 L808.0,1548.0 M796.3,1540.4 L808.0,1541.8 M798.5,1531.6 L809.4,1535.8 M802.7,1523.6 L812.3,1530.3 M808.7,1516.9 L816.4,1525.6 M816.1,1511.7 L821.5,1522.1 M824.5,1508.5 L827.3,1519.9 M833.5,1507.4 L833.5,1519.1 M842.4,1508.5 L839.6,1519.9 M850.9,1511.7 L845.4,1522.1 M858.3,1516.8 L850.6,1525.6 M864.3,1523.6 L854.7,1530.2 M868.5,1531.6 L857.6,1535.7 M870.7,1540.3 L859.1,1541.8 " stroke="#5e5e5e" stroke-width=".9" fill="none"/><path d="M871.9,1546.8 L856.2,1546.0 M870.3,1555.9 L855.3,1551.4 M866.6,1564.4 L853.1,1556.4 M861.0,1571.8 L849.7,1560.8 M853.7,1577.6 L845.5,1564.2 M845.3,1581.5 L840.5,1566.5 M836.2,1583.2 L835.1,1567.6 M827.0,1582.8 L829.6,1567.3 M818.1,1580.1 L824.4,1565.7 M810.1,1575.4 L819.7,1562.9 M803.5,1568.9 L815.8,1559.1 M798.6,1561.0 L812.9,1554.4 M795.8,1552.2 L811.2,1549.2 M795.1,1543.0 L810.8,1543.7 M796.7,1533.8 L811.7,1538.3 M800.4,1525.3 L813.9,1533.3 M806.0,1518.0 L817.3,1529.0 M813.3,1512.2 L821.5,1525.5 M821.7,1508.3 L826.5,1523.2 M830.8,1506.5 L831.9,1522.2 M840.0,1507.0 L837.4,1522.5 M848.9,1509.7 L842.6,1524.0 M856.9,1514.4 L847.3,1526.8 M863.5,1520.9 L851.3,1530.7 M868.4,1528.7 L854.1,1535.3 M871.2,1537.6 L855.8,1540.5 " stroke="#2a2a2a" stroke-width=".8" fill="none"/><circle cx="833.5" cy="1544.9" r="33.8" fill="none" stroke="#333" stroke-width="0.6"/><circle cx="833.5" cy="1544.9" r="22.5" fill="#3e3e3e" stroke="#262626" stroke-width="0.5"/><circle cx="833.5" cy="1544.9" r="20.4" fill="#747474" stroke="#2a2a2a" stroke-width="0.7"/><circle cx="833.5" cy="1544.9" r="17.1" fill="none" stroke="#666" stroke-width="0.6"/><circle cx="847.2" cy="1549.1" r="1.9" fill="#565656" stroke="#444" stroke-width="0.3"/><circle cx="842.1" cy="1556.3" r="1.9" fill="#565656" stroke="#444" stroke-width="0.3"/><circle cx="833.7" cy="1559.2" r="1.9" fill="#565656" stroke="#444" stroke-width="0.3"/><circle cx="825.3" cy="1556.6" r="1.9" fill="#565656" stroke="#444" stroke-width="0.3"/><circle cx="820.0" cy="1549.5" r="1.9" fill="#565656" stroke="#444" stroke-width="0.3"/><circle cx="819.8" cy="1540.6" r="1.9" fill="#565656" stroke="#444" stroke-width="0.3"/><circle cx="824.9" cy="1533.4" r="1.9" fill="#565656" stroke="#444" stroke-width="0.3"/><circle cx="833.3" cy="1530.6" r="1.9" fill="#565656" stroke="#444" stroke-width="0.3"/><circle cx="841.7" cy="1533.2" r="1.9" fill="#565656" stroke="#444" stroke-width="0.3"/><circle cx="847.0" cy="1540.3" r="1.9" fill="#565656" stroke="#444" stroke-width="0.3"/><circle cx="833.5" cy="1544.9" r="6.3" fill="#7c7c7c" stroke="#4a4a4a" stroke-width="0.6"/><circle cx="833.5" cy="1544.9" r="3.0" fill="#6a6a6a" stroke="#444" stroke-width="0.4"/><polyline points="249.9,155.2 249.9,192.1" fill="none" stroke="#4a4a4a" stroke-width="1.0"/><polyline points="249.9,192.1 249.9,236.0" fill="none" stroke="#d8d8d8" stroke-width="1.0"/><polyline points="365.2,153.4 365.2,221.2 346.6,221.2" fill="none" stroke="#4a4a4a" stroke-width="1.0"/><polyline points="346.6,221.2 321.2,221.2" fill="none" stroke="#d8d8d8" stroke-width="1.0"/><polyline points="132.1,237.1 156.0,237.1" fill="none" stroke="#4a4a4a" stroke-width="1.0"/><polyline points="156.0,237.1 222.8,237.1" fill="none" stroke="#d8d8d8" stroke-width="1.0"/><polyline points="110.3,284.5 157.8,284.5" fill="none" stroke="#4a4a4a" stroke-width="1.0"/><polyline points="157.8,284.5 163.0,284.5" fill="none" stroke="#d8d8d8" stroke-width="1.0"/><polyline points="361.7,250.8 341.6,250.8" fill="none" stroke="#4a4a4a" stroke-width="1.0"/><polyline points="341.6,250.8 333.6,250.8" fill="none" stroke="#d8d8d8" stroke-width="1.0"/><polyline points="132.1,335.2 156.0,320.4" fill="none" stroke="#4a4a4a" stroke-width="1.0"/><polyline points="156.0,320.4 164.8,315.8" fill="none" stroke="#d8d8d8" stroke-width="1.0"/><polyline points="132.1,335.2 157.8,336.2" fill="none" stroke="#4a4a4a" stroke-width="1.0"/><polyline points="157.8,336.2 169.4,337.3" fill="none" stroke="#d8d8d8" stroke-width="1.0"/><polyline points="243.9,309.8 243.9,339.7" fill="none" stroke="#4a4a4a" stroke-width="1.0"/><polyline points="243.9,282.4 243.9,309.8" fill="none" stroke="#d8d8d8" stroke-width="1.0"/><polyline points="359.2,357.3 359.2,302.8 345.9,297.5" fill="none" stroke="#4a4a4a" stroke-width="1.0"/><polyline points="345.9,297.5 340.6,295.1" fill="none" stroke="#d8d8d8" stroke-width="1.0"/><polyline points="177.5,402.7 177.5,438.6" fill="none" stroke="#4a4a4a" stroke-width="1.0"/><polyline points="177.5,438.6 177.5,480.4" fill="none" stroke="#d8d8d8" stroke-width="1.0"/><polyline points="209.4,622.8 209.4,656.5" fill="none" stroke="#4a4a4a" stroke-width="1.0"/><polyline points="209.4,593.6 209.4,622.8" fill="none" stroke="#d8d8d8" stroke-width="1.0"/><polyline points="352.2,625.0 352.2,661.9" fill="none" stroke="#4a4a4a" stroke-width="1.0"/><polyline points="352.2,600.3 352.2,625.0" fill="none" stroke="#d8d8d8" stroke-width="1.0"/><polyline points="502.7,511.8 473.5,511.8" fill="none" stroke="#4a4a4a" stroke-width="1.0"/><polyline points="473.5,511.8 455.5,511.8" fill="none" stroke="#d8d8d8" stroke-width="1.0"/><polyline points="589.4,410.8 634.3,410.8" fill="none" stroke="#4a4a4a" stroke-width="1.0"/><polyline points="858.9,378.1 819.8,378.1" fill="none" stroke="#4a4a4a" stroke-width="1.0"/><polyline points="819.8,378.1 811.5,378.1" fill="none" stroke="#d8d8d8" stroke-width="1.0"/><polyline points="608.4,464.5 639.2,464.5" fill="none" stroke="#4a4a4a" stroke-width="1.0"/><polyline points="639.2,464.5 700.2,464.5" fill="none" stroke="#d8d8d8" stroke-width="1.0"/><polyline points="869.6,441.1 835.9,466.0 824.7,466.0" fill="none" stroke="#4a4a4a" stroke-width="1.0"/><polyline points="824.7,466.0 785.6,466.0" fill="none" stroke="#d8d8d8" stroke-width="1.0"/><polyline points="878.4,473.3 826.2,473.3" fill="none" stroke="#4a4a4a" stroke-width="1.0"/><polyline points="826.2,473.3 802.7,473.3" fill="none" stroke="#d8d8d8" stroke-width="1.0"/><polyline points="725.6,509.9 725.6,541.2" fill="none" stroke="#4a4a4a" stroke-width="1.0"/><polyline points="725.6,469.4 725.6,509.9" fill="none" stroke="#d8d8d8" stroke-width="1.0"/><polyline points="736.8,509.9 736.8,573.4" fill="none" stroke="#4a4a4a" stroke-width="1.0"/><polyline points="736.8,471.8 736.8,509.9" fill="none" stroke="#d8d8d8" stroke-width="1.0"/><polyline points="767.6,509.9 767.6,545.1" fill="none" stroke="#4a4a4a" stroke-width="1.0"/><polyline points="767.6,474.3 767.6,509.9" fill="none" stroke="#d8d8d8" stroke-width="1.0"/><polyline points="705.1,509.9 705.1,573.4" fill="none" stroke="#4a4a4a" stroke-width="1.0"/><polyline points="705.1,503.6 705.1,509.9" fill="none" stroke="#d8d8d8" stroke-width="1.0"/><polyline points="866.6,584.6 866.6,653.0" fill="none" stroke="#4a4a4a" stroke-width="1.0"/><polyline points="866.6,653.0 866.6,683.0" fill="none" stroke="#d8d8d8" stroke-width="1.0"/><polyline points="908.7,625.6 908.7,658.4" fill="none" stroke="#4a4a4a" stroke-width="1.0"/><polyline points="908.7,658.4 908.7,677.6" fill="none" stroke="#d8d8d8" stroke-width="1.0"/><polyline points="829.9,630.0 829.9,647.5" fill="none" stroke="#4a4a4a" stroke-width="1.0"/><polyline points="829.9,647.5 829.9,692.9" fill="none" stroke="#d8d8d8" stroke-width="1.0"/><polyline points="538.4,659.5 583.3,659.5" fill="none" stroke="#4a4a4a" stroke-width="1.0"/><polyline points="500.2,700.5 530.2,700.5" fill="none" stroke="#4a4a4a" stroke-width="1.0"/><polyline points="530.2,700.5 583.3,700.5" fill="none" stroke="#d8d8d8" stroke-width="1.0"/><polyline points="559.2,777.1 583.3,777.1" fill="none" stroke="#4a4a4a" stroke-width="1.0"/><polyline points="583.3,777.1 604.1,777.1" fill="none" stroke="#d8d8d8" stroke-width="1.0"/><polyline points="700.9,754.1 700.9,784.2" fill="none" stroke="#4a4a4a" stroke-width="1.0"/><polyline points="700.9,737.7 700.9,754.1" fill="none" stroke="#d8d8d8" stroke-width="1.0"/><polyline points="761.6,755.8 761.6,785.3" fill="none" stroke="#4a4a4a" stroke-width="1.0"/><polyline points="761.6,707.7 761.6,755.8" fill="none" stroke="#d8d8d8" stroke-width="1.0"/><polyline points="116.2,726.7 116.2,781.6" fill="none" stroke="#4a4a4a" stroke-width="1.0"/><polyline points="116.2,781.6 116.2,800.9" fill="none" stroke="#d8d8d8" stroke-width="1.0"/><polyline points="174.6,745.0 174.6,776.5" fill="none" stroke="#4a4a4a" stroke-width="1.0"/><polyline points="174.6,776.5 174.6,817.1" fill="none" stroke="#d8d8d8" stroke-width="1.0"/><polyline points="268.5,747.5 268.5,773.9" fill="none" stroke="#4a4a4a" stroke-width="1.0"/><polyline points="268.5,773.9 268.5,807.0" fill="none" stroke="#d8d8d8" stroke-width="1.0"/><polyline points="414.8,723.2 414.8,748.6" fill="none" stroke="#4a4a4a" stroke-width="1.0"/><polyline points="508.2,825.7 481.8,825.7" fill="none" stroke="#4a4a4a" stroke-width="1.0"/><polyline points="481.8,825.7 431.0,825.7" fill="none" stroke="#d8d8d8" stroke-width="1.0"/><polyline points="268.5,880.6 268.5,903.4" fill="none" stroke="#4a4a4a" stroke-width="1.0"/><polyline points="268.5,852.7 268.5,880.6" fill="none" stroke="#d8d8d8" stroke-width="1.0"/><polyline points="456.4,870.4 456.4,918.7" fill="none" stroke="#4a4a4a" stroke-width="1.0"/><polyline points="456.4,855.2 456.4,870.4" fill="none" stroke="#d8d8d8" stroke-width="1.0"/><polyline points="177.1,912.1 177.1,941.5" fill="none" stroke="#4a4a4a" stroke-width="1.0"/><polyline points="177.1,903.4 177.1,912.1" fill="none" stroke="#d8d8d8" stroke-width="1.0"/><polyline points="723.7,896.5 723.7,949.2" fill="none" stroke="#4a4a4a" stroke-width="1.0"/><polyline points="723.7,949.2 723.7,984.5" fill="none" stroke="#d8d8d8" stroke-width="1.0"/><polyline points="852.9,888.6 852.9,927.1 802.8,927.1" fill="none" stroke="#4a4a4a" stroke-width="1.0"/><polyline points="802.8,927.1 789.6,927.1" fill="none" stroke="#d8d8d8" stroke-width="1.0"/><polyline points="840.7,961.3 810.7,961.3" fill="none" stroke="#4a4a4a" stroke-width="1.0"/><polyline points="810.7,961.3 776.4,961.3" fill="none" stroke="#d8d8d8" stroke-width="1.0"/><polyline points="598.2,984.5 627.7,984.5" fill="none" stroke="#4a4a4a" stroke-width="1.0"/><polyline points="627.7,984.5 692.0,984.5" fill="none" stroke="#d8d8d8" stroke-width="1.0"/><polyline points="837.1,995.6 814.4,995.6" fill="none" stroke="#4a4a4a" stroke-width="1.0"/><polyline points="814.4,995.6 797.5,995.6" fill="none" stroke="#d8d8d8" stroke-width="1.0"/><polyline points="872.4,1012.5 812.3,1012.5" fill="none" stroke="#4a4a4a" stroke-width="1.0"/><polyline points="812.3,1012.5 805.4,1012.5" fill="none" stroke="#d8d8d8" stroke-width="1.0"/><polyline points="557.6,1043.1 626.6,1043.1" fill="none" stroke="#4a4a4a" stroke-width="1.0"/><polyline points="626.6,1043.1 643.5,1043.1" fill="none" stroke="#d8d8d8" stroke-width="1.0"/><polyline points="831.8,1045.2 812.3,1045.2" fill="none" stroke="#4a4a4a" stroke-width="1.0"/><polyline points="812.3,1045.2 789.6,1045.2" fill="none" stroke="#d8d8d8" stroke-width="1.0"/><polyline points="580.2,1082.1 627.7,1067.9" fill="none" stroke="#4a4a4a" stroke-width="1.0"/><polyline points="627.7,1067.9 636.7,1065.2" fill="none" stroke="#d8d8d8" stroke-width="1.0"/><polyline points="580.2,1082.1 628.8,1082.1" fill="none" stroke="#4a4a4a" stroke-width="1.0"/><polyline points="628.8,1082.1 636.7,1082.6" fill="none" stroke="#d8d8d8" stroke-width="1.0"/><polyline points="670.9,1059.9 670.9,1077.3" fill="none" stroke="#4a4a4a" stroke-width="1.0"/><polyline points="670.9,1033.6 670.9,1059.9" fill="none" stroke="#d8d8d8" stroke-width="1.0"/><polyline points="289.8,1051.3 289.8,1096.8" fill="none" stroke="#4a4a4a" stroke-width="1.0"/><polyline points="289.8,1096.8 289.8,1111.2" fill="none" stroke="#d8d8d8" stroke-width="1.0"/><polyline points="143.9,1092.0 192.7,1092.0" fill="none" stroke="#4a4a4a" stroke-width="1.0"/><polyline points="192.7,1092.0 197.5,1092.0" fill="none" stroke="#d8d8d8" stroke-width="1.0"/><polyline points="408.0,1120.7 378.4,1120.7" fill="none" stroke="#4a4a4a" stroke-width="1.0"/><polyline points="378.4,1120.7 370.7,1120.7" fill="none" stroke="#d8d8d8" stroke-width="1.0"/><polyline points="143.9,1155.2 183.1,1155.2" fill="none" stroke="#4a4a4a" stroke-width="1.0"/><polyline points="183.1,1155.2 254.9,1155.2" fill="none" stroke="#d8d8d8" stroke-width="1.0"/><polyline points="155.4,1179.1 184.1,1179.1" fill="none" stroke="#4a4a4a" stroke-width="1.0"/><polyline points="184.1,1179.1 240.5,1179.1" fill="none" stroke="#d8d8d8" stroke-width="1.0"/><polyline points="412.8,1173.4 370.7,1173.4" fill="none" stroke="#4a4a4a" stroke-width="1.0"/><polyline points="370.7,1173.4 317.1,1173.4" fill="none" stroke="#d8d8d8" stroke-width="1.0"/><polyline points="265.4,1217.9 265.4,1245.1" fill="none" stroke="#4a4a4a" stroke-width="1.0"/><polyline points="265.4,1173.4 265.4,1217.9" fill="none" stroke="#d8d8d8" stroke-width="1.0"/><polyline points="282.2,1217.9 282.2,1270.5" fill="none" stroke="#4a4a4a" stroke-width="1.0"/><polyline points="282.2,1180.5 282.2,1217.9" fill="none" stroke="#d8d8d8" stroke-width="1.0"/><polyline points="312.3,1217.9 312.3,1241.8" fill="none" stroke="#4a4a4a" stroke-width="1.0"/><polyline points="312.3,1185.3 312.3,1217.9" fill="none" stroke="#d8d8d8" stroke-width="1.0"/><polyline points="250.1,1217.9 250.1,1276.2" fill="none" stroke="#4a4a4a" stroke-width="1.0"/><polyline points="250.1,1209.3 250.1,1217.9" fill="none" stroke="#d8d8d8" stroke-width="1.0"/><polyline points="764.4,1124.5 764.4,1166.2" fill="none" stroke="#4a4a4a" stroke-width="1.0"/><polyline points="685.7,1137.2 685.7,1199.2" fill="none" stroke="#4a4a4a" stroke-width="1.0"/><polyline points="685.7,1199.2 685.7,1221.0" fill="none" stroke="#d8d8d8" stroke-width="1.0"/><polyline points="630.8,1149.9 630.8,1202.7" fill="none" stroke="#4a4a4a" stroke-width="1.0"/><polyline points="630.8,1202.7 630.8,1239.8" fill="none" stroke="#d8d8d8" stroke-width="1.0"/><polyline points="869.5,1149.9 869.5,1171.2" fill="none" stroke="#4a4a4a" stroke-width="1.0"/><polyline points="725.3,1171.2 725.3,1194.1" fill="none" stroke="#4a4a4a" stroke-width="1.0"/><polyline points="725.3,1194.1 725.3,1227.1" fill="none" stroke="#d8d8d8" stroke-width="1.0"/><polyline points="555.2,1177.3 555.2,1204.3" fill="none" stroke="#4a4a4a" stroke-width="1.0"/><polyline points="555.2,1204.3 555.2,1223.0" fill="none" stroke="#d8d8d8" stroke-width="1.0"/><polyline points="478.5,1252.5 528.2,1252.5" fill="none" stroke="#4a4a4a" stroke-width="1.0"/><polyline points="528.2,1252.5 570.4,1252.5" fill="none" stroke="#d8d8d8" stroke-width="1.0"/><polyline points="508.9,1293.1 573.9,1293.1" fill="none" stroke="#4a4a4a" stroke-width="1.0"/><polyline points="573.9,1293.1 619.6,1293.1" fill="none" stroke="#d8d8d8" stroke-width="1.0"/><polyline points="566.3,1326.1 594.3,1326.1" fill="none" stroke="#4a4a4a" stroke-width="1.0"/><polyline points="594.3,1326.1 619.6,1326.1" fill="none" stroke="#d8d8d8" stroke-width="1.0"/><polyline points="925.9,1285.5 925.9,1328.7" fill="none" stroke="#4a4a4a" stroke-width="1.0"/><polyline points="925.9,1278.9 925.9,1285.5" fill="none" stroke="#d8d8d8" stroke-width="1.0"/><polyline points="660.3,1388.2 660.3,1444.1" fill="none" stroke="#4a4a4a" stroke-width="1.0"/><polyline points="660.3,1444.1 660.3,1477.1" fill="none" stroke="#d8d8d8" stroke-width="1.0"/><polyline points="800.9,1376.6 800.9,1444.1" fill="none" stroke="#4a4a4a" stroke-width="1.0"/><polyline points="800.9,1444.1 800.9,1467.0" fill="none" stroke="#d8d8d8" stroke-width="1.0"/><polyline points="893.9,1402.5 893.9,1449.2" fill="none" stroke="#4a4a4a" stroke-width="1.0"/><polyline points="893.9,1449.2 893.9,1460.9" fill="none" stroke="#d8d8d8" stroke-width="1.0"/><polyline points="751.7,1408.6 761.8,1441.6" fill="none" stroke="#4a4a4a" stroke-width="1.0"/><polyline points="761.8,1441.6 768.4,1460.9" fill="none" stroke="#d8d8d8" stroke-width="1.0"/><polyline points="831.4,1418.7 831.4,1454.3" fill="none" stroke="#4a4a4a" stroke-width="1.0"/><polyline points="831.4,1454.3 831.4,1487.3" fill="none" stroke="#d8d8d8" stroke-width="1.0"/><polyline points="681.6,1530.4 681.6,1582.7" fill="none" stroke="#4a4a4a" stroke-width="1.0"/><polyline points="681.6,1477.1 681.6,1530.4" fill="none" stroke="#d8d8d8" stroke-width="1.0"/><polyline points="758.3,1528.9 758.3,1571.1" fill="none" stroke="#4a4a4a" stroke-width="1.0"/><polyline points="758.3,1502.5 758.3,1528.9" fill="none" stroke="#d8d8d8" stroke-width="1.0"/><polyline points="177.4,1314.5 177.4,1386.2" fill="none" stroke="#4a4a4a" stroke-width="1.0"/><polyline points="177.4,1386.2 177.4,1425.9" fill="none" stroke="#d8d8d8" stroke-width="1.0"/><polyline points="98.4,1351.8 98.4,1411.6" fill="none" stroke="#4a4a4a" stroke-width="1.0"/><polyline points="98.4,1411.6 98.4,1453.2" fill="none" stroke="#d8d8d8" stroke-width="1.0"/><polyline points="243.9,1361.3 243.9,1386.2" fill="none" stroke="#4a4a4a" stroke-width="1.0"/><polyline points="243.9,1386.2 243.9,1466.6" fill="none" stroke="#d8d8d8" stroke-width="1.0"/><polyline points="343.4,1331.7 343.4,1386.2" fill="none" stroke="#4a4a4a" stroke-width="1.0"/><polyline points="343.4,1386.2 343.4,1411.6" fill="none" stroke="#d8d8d8" stroke-width="1.0"/><polyline points="423.3,1365.2 423.3,1386.2" fill="none" stroke="#4a4a4a" stroke-width="1.0"/><polyline points="423.3,1386.2 423.3,1411.6" fill="none" stroke="#d8d8d8" stroke-width="1.0"/><text x="54.4" y="71.5" font-size="25.4" letter-spacing="5.8" fill="#231815" font-family="&quot;Liberation Sans&quot;, &quot;Noto Sans CJK SC&quot;, sans-serif">涂装同标贴指示</text><rect x="400.6" y="50.6" width="562.8" height="23.7" fill="#231815"/><rect x="401" y="117" width="143" height="34" fill="#231815"/><rect x="401" y="151" width="143" height="34" fill="#484848"/><rect x="401" y="185" width="143" height="34" fill="#3c3c3c"/><rect x="401" y="219" width="143" height="34" fill="#8c8c8c"/><rect x="401" y="253" width="143" height="34" fill="#7e7e7e"/><rect x="401" y="287" width="143" height="34" fill="#b4b4b4"/><g stroke="#231815" stroke-width="1.3" fill="none"><line x1="401" y1="84.3" x2="401" y2="321"/><line x1="544" y1="84.3" x2="544" y2="321"/><line x1="628" y1="84.3" x2="628" y2="321"/><line x1="705" y1="84.3" x2="705" y2="321"/><line x1="765" y1="84.3" x2="765" y2="321"/><line x1="830" y1="84.3" x2="830" y2="321"/><line x1="893" y1="84.3" x2="893" y2="321"/><line x1="963" y1="84.3" x2="963" y2="321"/><line x1="401" y1="84.3" x2="963" y2="84.3"/><line x1="401" y1="117" x2="963" y2="117"/><line x1="401" y1="151" x2="963" y2="151"/><line x1="401" y1="185" x2="963" y2="185"/><line x1="401" y1="219" x2="963" y2="219"/><line x1="401" y1="253" x2="963" y2="253"/><line x1="401" y1="287" x2="963" y2="287"/><line x1="401" y1="321" x2="963" y2="321"/></g><g font-family="&quot;Liberation Sans&quot;, &quot;Noto Sans CJK SC&quot;, sans-serif" font-size="13.3" font-weight="bold" fill="#fff"><text x="452.55" y="148">黑铁色</text><text x="452.55" y="182">消光黑</text><text x="452.55" y="216">胎黑色</text><text x="459.2" y="250">绿色</text><text x="452.55" y="284">木棕色</text><text x="452.55" y="318" fill="#231815">砂黄色</text></g></svg><div class="t1">Painting &amp; Marking guide</div>
<div class="sq" style="left:55px;top:142.5px"><span>A</span></div>
<div class="sq" style="left:54px;top:1011.5px"><span>B</span></div>
<div class="ft" style="left:413.5px">H</div>
<div class="ft" style="left:447px"><b>AQUEOUS HOBBY COLOR</b></div>
<div class="ft" style="left:690px"><b>Mr. COLOR</b></div>
<div class="ft" style="left:795px">N</div>
<div class="ft" style="left:828px"><b>ACRYSION COLOR</b></div>
<div class="pn" style="left:58.5px;top:1652px">07401</div>
<div class="pn" style="left:500.5px;top:1652px">8</div>
<svg class="pg" width="1024" height="1708" viewBox="0 0 1024 1708" id="fticon">
<g fill="none" stroke="#231815" stroke-width=".8"><rect x="427.4" y="1619.6" width="10.4" height="10.4"/><path d="M427.4,1619.6l10.4,10.4M437.8,1619.6l-10.4,10.4"/>
<rect x="809.4" y="1619.6" width="10.4" height="10.4"/><path d="M809.4,1619.6l10.4,10.4M819.8,1619.6l-10.4,10.4"/></g>
<rect x="669" y="1619.2" width="11.2" height="11.2" fill="#231815"/><path d="M671,1621.2l7.2,7.2M678.2,1621.2l-7.2,7.2" stroke="#fff" stroke-width="1.5"/>
</svg>
<div class="hd">PAINT REFERENCE COLOR</div><div class="th" style="left:401px;width:143px;top:84.3px">Color</div><div class="th" style="left:544px;width:84px;top:84.3px">Mr.Hobby</div><div class="th" style="left:628px;width:77px;top:84.3px">Acrysion</div><div class="th" style="left:705px;width:60px;top:84.3px">Vallejo</div><div class="th mm" style="left:765px;width:65px;top:84.3px">Model<br>Master</div><div class="th" style="left:830px;width:63px;top:84.3px">Tamiya</div><div class="th" style="left:893px;width:70px;top:84.3px">Humbrol</div><div class="cn" style="left:401px;width:143px;top:117px"><span>Steel</span></div><div class="lb" style="left:548.6px;top:124.3px"><i>H</i><b class="w"><s>18</s></b><b class="k"><s>28</s></b></div><div class="lb nl" style="left:642.5px;top:124.3px"><i>N</i><b class="w"><s>18</s></b></div><div class="td" style="left:705px;width:60px;top:117px">864</div><div class="td" style="left:765px;width:65px;top:117px">1402</div><div class="td" style="left:830px;width:63px;top:117px">XF84</div><div class="td" style="left:893px;width:70px;top:117px">–</div><div class="cn" style="left:401px;width:143px;top:151px"><span>Flat Black</span></div><div class="lb" style="left:548.6px;top:158.3px"><i>H</i><b class="w"><s>12</s></b><b class="k"><s>33</s></b></div><div class="lb nl" style="left:642.5px;top:158.3px"><i>N</i><b class="w"><s>12</s></b></div><div class="td" style="left:705px;width:60px;top:151px">950</div><div class="td" style="left:765px;width:65px;top:151px">1749</div><div class="td" style="left:830px;width:63px;top:151px">XF1</div><div class="td" style="left:893px;width:70px;top:151px">33</div><div class="cn" style="left:401px;width:143px;top:185px"><span>Tire Black</span></div><div class="lb" style="left:548.6px;top:192.3px"><i>H</i><b class="w"><s>77</s></b><b class="k t3"><s>137</s></b></div><div class="lb nl" style="left:642.5px;top:192.3px"><i>N</i><b class="w"><s>77</s></b></div><div class="td" style="left:705px;width:60px;top:185px">–</div><div class="td" style="left:765px;width:65px;top:185px">–</div><div class="td" style="left:830px;width:63px;top:185px">XF85</div><div class="td" style="left:893px;width:70px;top:185px">–</div><div class="cn cn1" style="left:401px;width:143px;top:219px"><span>Medium Grey Green</span></div><div class="lb" style="left:548.6px;top:226.3px"><i>H</i><b class="w t3"><s>312</s></b><b class="k t3"><s>312</s></b></div><div class="lb nl" style="left:642.5px;top:226.3px"><i>N</i><b class="w t3"><s>312</s></b></div><div class="td" style="left:705px;width:60px;top:219px">–</div><div class="td" style="left:765px;width:65px;top:219px">1716</div><div class="td" style="left:830px;width:63px;top:219px">–</div><div class="td" style="left:893px;width:70px;top:219px">120</div><div class="cn" style="left:401px;width:143px;top:253px"><span>Wood Brown</span></div><div class="lb" style="left:548.6px;top:260.3px"><i>H</i><b class="w"><s>37</s></b><b class="k"><s>43</s></b></div><div class="lb nl" style="left:642.5px;top:260.3px"><i>N</i><b class="w"><s>37</s></b></div><div class="td" style="left:705px;width:60px;top:253px">983</div><div class="td" style="left:765px;width:65px;top:253px">1701</div><div class="td" style="left:830px;width:63px;top:253px">–</div><div class="td" style="left:893px;width:70px;top:253px">186</div><div class="cn cn2 dk" style="left:401px;width:143px;top:287px"><span>Sandy Yellow(Dark Yellow)</span></div><div class="lb" style="left:548.6px;top:294.3px"><i>H</i><b class="w"><s>79</s></b><b class="k"><s>39</s></b></div><div class="lb nl" style="left:642.5px;top:294.3px"><i>N</i><b class="w"><s>79</s></b></div><div class="td" style="left:705px;width:60px;top:287px">824</div><div class="td" style="left:765px;width:65px;top:287px">–</div><div class="td" style="left:830px;width:63px;top:287px">XF59</div><div class="td" style="left:893px;width:70px;top:287px">93</div><div class="lb" style="left:208.0px;top:131.0px"><i>H</i><b class="w"><s>37</s></b><b class="k"><s>43</s></b></div><div class="lb" style="left:320.5px;top:129.0px"><i>H</i><b class="w"><s>12</s></b><b class="k"><s>33</s></b></div><div class="lb" style="left:56.5px;top:227.5px"><i>H</i><b class="w"><s>18</s></b><b class="k"><s>28</s></b></div><div class="lb" style="left:56.5px;top:326.5px"><i>H</i><b class="w"><s>77</s></b><b class="k t3"><s>137</s></b></div><div class="lb" style="left:202.0px;top:344.0px"><i>H</i><b class="w t3"><s>312</s></b><b class="k t3"><s>312</s></b></div><div class="lb" style="left:313.5px;top:363.5px"><i>H</i><b class="w"><s>37</s></b><b class="k"><s>43</s></b></div><div class="lb" style="left:131.5px;top:382.5px"><i>H</i><b class="w"><s>18</s></b><b class="k"><s>28</s></b></div><div class="lb" style="left:166.5px;top:660.0px"><i>H</i><b class="w"><s>37</s></b><b class="k"><s>43</s></b></div><div class="lb" style="left:310.0px;top:665.5px"><i>H</i><b class="w t3"><s>312</s></b><b class="k t3"><s>312</s></b></div><div class="lb" style="left:458.8px;top:650.5px"><i>H</i><b class="w"><s>12</s></b><b class="k"><s>33</s></b></div><div class="lb" style="left:509.5px;top:503.5px"><i>H</i><b class="w"><s>12</s></b><b class="k"><s>33</s></b></div><div class="lb" style="left:509.5px;top:401.0px"><i>H</i><b class="w"><s>12</s></b><b class="k"><s>33</s></b></div><div class="lb" style="left:863.5px;top:369.5px"><i>H</i><b class="w t3"><s>312</s></b><b class="k t3"><s>312</s></b></div><div class="lb" style="left:883.5px;top:463.5px"><i>H</i><b class="w"><s>37</s></b><b class="k"><s>43</s></b></div><div class="lb" style="left:824.0px;top:563.5px"><i>H</i><b class="w t3"><s>312</s></b><b class="k t3"><s>312</s></b></div><div class="lb" style="left:882.0px;top:598.5px"><i>H</i><b class="w"><s>37</s></b><b class="k"><s>43</s></b></div><div class="lb" style="left:480.5px;top:768.0px"><i>H</i><b class="w"><s>77</s></b><b class="k t3"><s>137</s></b></div><div class="lb" style="left:659.0px;top:789.5px"><i>H</i><b class="w"><s>37</s></b><b class="k"><s>43</s></b></div><div class="lb" style="left:71.5px;top:705.5px"><i>H</i><b class="w"><s>12</s></b><b class="k"><s>33</s></b></div><div class="lb" style="left:373.5px;top:701.5px"><i>H</i><b class="w"><s>18</s></b><b class="k"><s>28</s></b></div><div class="lb" style="left:225.5px;top:907.0px"><i>H</i><b class="w t3"><s>312</s></b><b class="k t3"><s>312</s></b></div><div class="lb" style="left:416.0px;top:923.0px"><i>H</i><b class="w"><s>37</s></b><b class="k"><s>43</s></b></div><div class="lb" style="left:134.0px;top:945.0px"><i>H</i><b class="w"><s>77</s></b><b class="k t3"><s>137</s></b></div><div class="lb" style="left:678.5px;top:870.0px"><i>H</i><b class="w"><s>37</s></b><b class="k"><s>43</s></b></div><div class="lb" style="left:809.5px;top:863.0px"><i>H</i><b class="w t3"><s>312</s></b><b class="k t3"><s>312</s></b></div><div class="lb" style="left:845.5px;top:952.5px"><i>H</i><b class="w"><s>12</s></b><b class="k"><s>33</s></b></div><div class="lb" style="left:523.5px;top:975.5px"><i>H</i><b class="w"><s>18</s></b><b class="k"><s>28</s></b></div><div class="lb" style="left:877.0px;top:1003.5px"><i>H</i><b class="w"><s>79</s></b><b class="k"><s>39</s></b></div><div class="lb" style="left:480.5px;top:1034.5px"><i>H</i><b class="w"><s>12</s></b><b class="k"><s>33</s></b></div><div class="lb" style="left:835.0px;top:1036.0px"><i>H</i><b class="w"><s>37</s></b><b class="k"><s>43</s></b></div><div class="lb" style="left:506.5px;top:1073.0px"><i>H</i><b class="w"><s>77</s></b><b class="k t3"><s>137</s></b></div><div class="lb" style="left:250.0px;top:1023.5px"><i>H</i><b class="w"><s>12</s></b><b class="k"><s>33</s></b></div><div class="lb" style="left:66.0px;top:1081.5px"><i>H</i><b class="w t3"><s>312</s></b><b class="k t3"><s>312</s></b></div><div class="lb" style="left:410.5px;top:1111.0px"><i>H</i><b class="w"><s>79</s></b><b class="k"><s>39</s></b></div><div class="lb" style="left:66.0px;top:1144.5px"><i>H</i><b class="w"><s>37</s></b><b class="k"><s>43</s></b></div><div class="lb" style="left:402.0px;top:1243.5px"><i>H</i><b class="w"><s>79</s></b><b class="k"><s>39</s></b></div><div class="lb" style="left:431.5px;top:1283.5px"><i>H</i><b class="w t3"><s>312</s></b><b class="k t3"><s>312</s></b></div><div class="lb" style="left:131.5px;top:1289.5px"><i>H</i><b class="w"><s>18</s></b><b class="k"><s>28</s></b></div><div class="lb" style="left:52.5px;top:1328.0px"><i>H</i><b class="w"><s>37</s></b><b class="k"><s>43</s></b></div><div class="lb" style="left:202.5px;top:1337.5px"><i>H</i><b class="w t3"><s>312</s></b><b class="k t3"><s>312</s></b></div><div class="lb" style="left:299.0px;top:1307.0px"><i>H</i><b class="w"><s>79</s></b><b class="k"><s>39</s></b></div><div class="lb" style="left:377.0px;top:1337.5px"><i>H</i><b class="w"><s>12</s></b><b class="k"><s>33</s></b></div><div class="lb" style="left:717.5px;top:1104.0px"><i>H</i><b class="w t3"><s>312</s></b><b class="k t3"><s>312</s></b></div><div class="lb" style="left:827.5px;top:1127.0px"><i>H</i><b class="w"><s>18</s></b><b class="k"><s>28</s></b></div><div class="lb" style="left:506.5px;top:1151.0px"><i>H</i><b class="w"><s>12</s></b><b class="k"><s>33</s></b></div><div class="lb" style="left:488.5px;top:1317.0px"><i>H</i><b class="w"><s>77</s></b><b class="k t3"><s>137</s></b></div><div class="lb" style="left:883.5px;top:1329.5px"><i>H</i><b class="w"><s>37</s></b><b class="k"><s>43</s></b></div><div class="lb" style="left:620.5px;top:1365.5px"><i>H</i><b class="w t3"><s>312</s></b><b class="k t3"><s>312</s></b></div><div class="lb" style="left:756.5px;top:1354.0px"><i>H</i><b class="w"><s>79</s></b><b class="k"><s>39</s></b></div><div class="lb" style="left:849.0px;top:1379.5px"><i>H</i><b class="w"><s>37</s></b><b class="k"><s>43</s></b></div><div class="lb" style="left:636.0px;top:1583.0px"><i>H</i><b class="w"><s>12</s></b><b class="k"><s>33</s></b></div><div class="nm" style="left:94.8px;top:272.9px">1</div><div class="nm" style="left:364.0px;top:241.4px">8</div><div class="nm" style="left:579.8px;top:452.4px">15</div><div class="nm" style="left:872.5px;top:429.2px">7</div><div class="nm" style="left:718.8px;top:540.0px">1</div><div class="nm" style="left:752.8px;top:543.9px">19</div><div class="nm" style="left:699.0px;top:572.2px">9</div><div class="nm" style="left:725.0px;top:572.2px">20</div><div class="nm" style="left:816.8px;top:606.4px">18</div><div class="nm" style="left:471.8px;top:690.4px">16</div><div class="nm" style="left:746.8px;top:787.4px">19</div><div class="nm" style="left:507.8px;top:813.4px">16</div><div class="nm" style="left:159.8px;top:722.1px">18</div><div class="nm" style="left:256.3px;top:724.6px">19</div><div class="nm" style="left:839.7px;top:984.1px">8</div><div class="nm" style="left:663.3px;top:1075.9px">1</div><div class="nm" style="left:129.8px;top:1167.4px">11</div><div class="nm" style="left:415.6px;top:1161.4px">7</div><div class="nm" style="left:258.3px;top:1244.9px">1</div><div class="nm" style="left:299.8px;top:1241.4px">19</div><div class="nm" style="left:243.4px;top:1276.4px">9</div><div class="nm" style="left:269.7px;top:1269.4px">20</div><div class="nm" style="left:673.3px;top:1114.4px">13</div><div class="nm" style="left:617.5px;top:1127.0px">18</div><div class="nm" style="left:712.4px;top:1148.4px">19</div><div class="nm" style="left:731.8px;top:1384.6px">13</div><div class="nm" style="left:819.1px;top:1396.4px">18</div><div class="nm" style="left:745.4px;top:1569.0px">19</div>
</body></html>
